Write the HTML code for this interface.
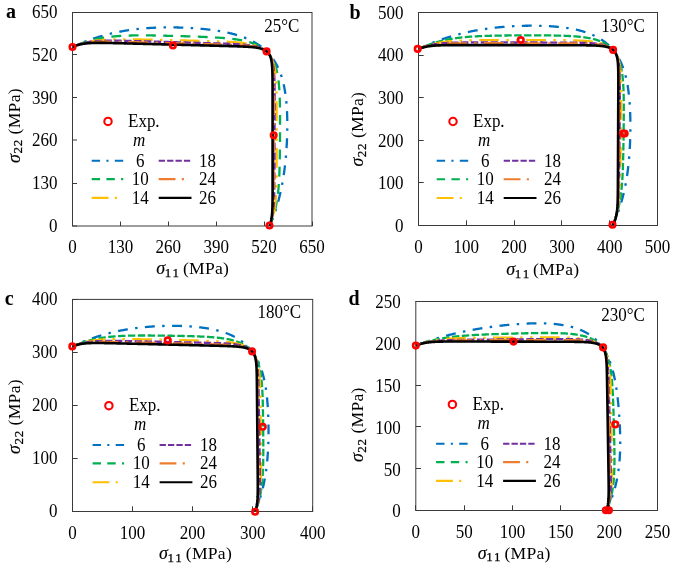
<!DOCTYPE html><html><head><meta charset="utf-8"><style>html,body{margin:0;padding:0;background:#fff;}svg{display:block;will-change:transform;}text{font-family:"Liberation Serif",serif;}</style></head><body>
<svg width="685" height="565" viewBox="0 0 685 565">
<rect width="685" height="565" fill="#fff"/>
<g fill="none" stroke-linejoin="round">
<path d="M269.63 226 L269.82 225.54 L270.02 225.08 L270.22 224.62 L270.41 224.15 L270.6 223.69 L270.79 223.22 L270.99 222.76 L271.18 222.29 L271.36 221.82 L271.55 221.35 L271.74 220.88 L271.92 220.41 L272.11 219.94 L272.29 219.47 L272.47 219 L272.65 218.52 L272.83 218.05 L273.01 217.57 L273.19 217.09 L273.36 216.62 L273.54 216.14 L273.71 215.66 L273.88 215.18 L274.05 214.7 L274.22 214.21 L274.39 213.73 L274.56 213.25 L274.73 212.76 L274.89 212.28 L275.06 211.79 L275.22 211.3 L275.38 210.81 L275.54 210.32 L275.7 209.83 L275.86 209.34 L276.02 208.85 L276.17 208.36 L276.33 207.86 L276.48 207.37 L276.63 206.87 L276.79 206.38 L276.94 205.88 L277.08 205.38 L277.23 204.88 L277.38 204.38 L277.52 203.88 L277.67 203.38 L277.81 202.88 L277.95 202.38 L278.09 201.87 L278.23 201.37 L278.37 200.86 L278.5 200.35 L278.64 199.85 L278.77 199.34 L278.91 198.83 L279.04 198.32 L279.17 197.81 L279.3 197.3 L279.43 196.78 L279.56 196.27 L279.68 195.76 L279.81 195.24 L279.93 194.72 L280.05 194.21 L280.17 193.69 L280.29 193.17 L280.41 192.65 L280.53 192.13 L280.65 191.61 L280.76 191.09 L280.88 190.56 L280.99 190.04 L281.1 189.52 L281.21 188.99 L281.32 188.46 L281.43 187.94 L281.54 187.41 L281.65 186.88 L281.75 186.35 L281.86 185.82 L281.96 185.29 L282.06 184.76 L282.16 184.22 L282.26 183.69 L282.36 183.15 L282.46 182.62 L282.56 182.08 L282.65 181.54 L282.75 181 L282.84 180.46 L282.93 179.92 L283.02 179.38 L283.11 178.84 L283.2 178.3 L283.29 177.75 L283.38 177.21 L283.46 176.66 L283.55 176.12 L283.63 175.57 L283.71 175.02 L283.8 174.47 L283.88 173.92 L283.96 173.37 L284.04 172.82 L284.11 172.26 L284.19 171.71 L284.27 171.16 L284.34 170.6 L284.42 170.04 L284.49 169.48 L284.56 168.93 L284.63 168.37 L284.7 167.81 L284.77 167.24 L284.84 166.68 L284.91 166.12 L284.97 165.55 L285.04 164.99 L285.1 164.42 L285.16 163.85 L285.23 163.28 L285.29 162.72 L285.35 162.14 L285.41 161.57 L285.47 161 L285.53 160.43 L285.58 159.85 L285.64 159.28 L285.69 158.7 L285.75 158.12 L285.8 157.54 L285.85 156.96 L285.91 156.38 L285.96 155.8 L286.01 155.22 L286.05 154.63 L286.1 154.05 L286.15 153.46 L286.2 152.88 L286.24 152.29 L286.28 151.7 L286.33 151.11 L286.37 150.52 L286.41 149.92 L286.45 149.33 L286.49 148.73 L286.53 148.14 L286.57 147.54 L286.61 146.94 L286.64 146.34 L286.68 145.74 L286.71 145.14 L286.75 144.54 L286.78 143.93 L286.81 143.33 L286.84 142.72 L286.87 142.11 L286.9 141.5 L286.93 140.89 L286.96 140.28 L286.98 139.67 L287.01 139.06 L287.03 138.44 L287.06 137.83 L287.08 137.21 L287.1 136.59 L287.12 135.97 L287.14 135.35 L287.16 134.73 L287.18 134.11 L287.19 133.48 L287.21 132.86 L287.22 132.23 L287.23 131.6 L287.25 130.97 L287.26 130.34 L287.27 129.71 L287.28 129.08 L287.28 128.44 L287.29 127.81 L287.3 127.17 L287.3 126.53 L287.3 125.89 L287.3 125.26 L287.3 124.61 L287.3 123.97 L287.3 123.33 L287.3 122.68 L287.29 122.04 L287.29 121.39 L287.28 120.74 L287.27 120.09 L287.26 119.44 L287.25 118.79 L287.23 118.14 L287.22 117.49 L287.2 116.83 L287.18 116.18 L287.16 115.52 L287.14 114.86 L287.12 114.2 L287.09 113.54 L287.07 112.88 L287.04 112.22 L287.01 111.56 L286.97 110.89 L286.94 110.23 L286.9 109.56 L286.87 108.9 L286.83 108.23 L286.78 107.56 L286.74 106.89 L286.69 106.22 L286.64 105.55 L286.59 104.88 L286.54 104.21 L286.48 103.54 L286.42 102.87 L286.36 102.19 L286.3 101.52 L286.23 100.84 L286.17 100.17 L286.09 99.49 L286.02 98.82 L285.94 98.14 L285.86 97.47 L285.78 96.79 L285.7 96.11 L285.61 95.44 L285.51 94.76 L285.42 94.08 L285.32 93.41 L285.22 92.73 L285.11 92.05 L285 91.38 L284.89 90.7 L284.78 90.02 L284.66 89.35 L284.53 88.67 L284.41 88 L284.27 87.32 L284.14 86.65 L284 85.98 L283.86 85.31 L283.71 84.64 L283.56 83.97 L283.4 83.3 L283.24 82.63 L283.07 81.96 L282.9 81.3 L282.73 80.63 L282.55 79.97 L282.36 79.31 L282.18 78.65 L281.98 77.99 L281.78 77.34 L281.58 76.68 L281.37 76.03 L281.15 75.38 L280.93 74.73 L280.7 74.09 L280.47 73.44 L280.24 72.8 L279.99 72.16 L279.74 71.53 L279.49 70.9 L279.23 70.27 L278.96 69.64 L278.69 69.02 L278.41 68.39 L278.13 67.78 L277.83 67.16 L277.54 66.55 L277.23 65.95 L276.92 65.34 L276.61 64.74 L276.28 64.15 L275.95 63.55 L275.62 62.97 L275.27 62.38 L274.92 61.8 L274.57 61.23 L274.21 60.66 L273.84 60.09 L273.46 59.53 L273.08 58.97 L272.69 58.42 L272.29 57.87 L271.89 57.33 L271.48 56.79 L271.06 56.26 L270.63 55.73 L270.2 55.21 L269.77 54.69 L269.32 54.18 L268.87 53.68 L268.41 53.17 L267.95 52.68 L267.48 52.19 L267 51.71 L266.51 51.23 L266.02 50.76 L265.52 50.29 L265.02 49.83 L264.51 49.37 L263.99 48.92 L263.47 48.48 L262.94 48.04 L262.4 47.61 L261.86 47.18 L261.31 46.76 L260.76 46.35 L260.2 45.94 L259.63 45.54 L259.06 45.14 L258.48 44.75 L257.9 44.37 L257.31 43.99 L256.72 43.62 L256.12 43.25 L255.51 42.89 L254.9 42.54 L254.29 42.19 L253.67 41.84 L253.04 41.51 L252.41 41.18 L251.78 40.85 L251.14 40.53 L250.5 40.22 L249.85 39.91 L249.2 39.6 L248.55 39.3 L247.89 39.01 L247.22 38.73 L246.56 38.44 L245.89 38.17 L245.21 37.9 L244.53 37.63 L243.85 37.37 L243.17 37.11 L242.48 36.86 L241.79 36.62 L241.1 36.38 L240.4 36.14 L239.7 35.91 L239 35.68 L238.3 35.46 L237.59 35.24 L236.88 35.03 L236.17 34.82 L235.46 34.61 L234.75 34.41 L234.03 34.22 L233.31 34.03 L232.59 33.84 L231.87 33.66 L231.15 33.48 L230.42 33.3 L229.7 33.13 L228.97 32.96 L228.24 32.79 L227.51 32.63 L226.78 32.48 L226.05 32.32 L225.31 32.17 L224.58 32.02 L223.85 31.88 L223.11 31.74 L222.38 31.6 L221.64 31.47 L220.9 31.34 L220.17 31.21 L219.43 31.08 L218.69 30.96 L217.95 30.84 L217.21 30.73 L216.48 30.61 L215.74 30.5 L215 30.39 L214.26 30.29 L213.52 30.18 L212.78 30.08 L212.05 29.98 L211.31 29.89 L210.57 29.79 L209.83 29.7 L209.09 29.61 L208.36 29.52 L207.62 29.44 L206.88 29.36 L206.15 29.28 L205.41 29.2 L204.68 29.12 L203.94 29.05 L203.21 28.97 L202.48 28.9 L201.74 28.84 L201.01 28.77 L200.28 28.7 L199.55 28.64 L198.82 28.58 L198.09 28.52 L197.36 28.46 L196.63 28.41 L195.91 28.35 L195.18 28.3 L194.45 28.25 L193.73 28.2 L193 28.15 L192.28 28.11 L191.56 28.06 L190.84 28.02 L190.12 27.98 L189.4 27.94 L188.68 27.9 L187.96 27.86 L187.24 27.83 L186.52 27.79 L185.81 27.76 L185.09 27.73 L184.38 27.7 L183.67 27.67 L182.96 27.65 L182.24 27.62 L181.53 27.6 L180.82 27.57 L180.12 27.55 L179.41 27.53 L178.7 27.51 L178 27.5 L177.29 27.48 L176.59 27.47 L175.89 27.45 L175.18 27.44 L174.48 27.43 L173.78 27.42 L173.08 27.42 L172.39 27.41 L171.69 27.4 L170.99 27.4 L170.3 27.4 L169.6 27.4 L168.91 27.4 L168.22 27.4 L167.52 27.4 L166.83 27.41 L166.14 27.41 L165.45 27.42 L164.77 27.43 L164.08 27.44 L163.39 27.45 L162.71 27.47 L162.02 27.48 L161.34 27.5 L160.66 27.51 L159.98 27.53 L159.29 27.55 L158.61 27.57 L157.94 27.59 L157.26 27.62 L156.58 27.64 L155.9 27.67 L155.23 27.7 L154.55 27.73 L153.88 27.76 L153.21 27.79 L152.53 27.83 L151.86 27.87 L151.19 27.9 L150.52 27.94 L149.85 27.98 L149.19 28.02 L148.52 28.07 L147.85 28.11 L147.19 28.16 L146.52 28.21 L145.86 28.26 L145.2 28.31 L144.54 28.36 L143.88 28.42 L143.22 28.47 L142.56 28.53 L141.9 28.59 L141.24 28.65 L140.58 28.71 L139.93 28.78 L139.27 28.84 L138.62 28.91 L137.97 28.98 L137.32 29.05 L136.66 29.12 L136.01 29.2 L135.36 29.27 L134.72 29.35 L134.07 29.43 L133.42 29.51 L132.77 29.59 L132.13 29.68 L131.48 29.76 L130.84 29.85 L130.2 29.94 L129.56 30.03 L128.92 30.13 L128.28 30.22 L127.64 30.32 L127 30.42 L126.36 30.52 L125.73 30.62 L125.09 30.72 L124.46 30.83 L123.82 30.93 L123.19 31.04 L122.56 31.16 L121.93 31.27 L121.3 31.38 L120.67 31.5 L120.04 31.62 L119.42 31.74 L118.79 31.86 L118.17 31.98 L117.54 32.11 L116.92 32.23 L116.3 32.36 L115.68 32.49 L115.06 32.63 L114.44 32.76 L113.82 32.9 L113.21 33.04 L112.59 33.18 L111.98 33.32 L111.36 33.46 L110.75 33.61 L110.14 33.75 L109.53 33.9 L108.92 34.05 L108.31 34.21 L107.7 34.36 L107.1 34.52 L106.49 34.67 L105.89 34.83 L105.29 34.99 L104.69 35.16 L104.09 35.32 L103.49 35.49 L102.89 35.66 L102.29 35.83 L101.7 36 L101.1 36.17 L100.51 36.34 L99.92 36.52 L99.33 36.7 L98.74 36.88 L98.15 37.06 L97.56 37.24 L96.98 37.43 L96.39 37.62 L95.81 37.8 L95.23 37.99 L94.64 38.18 L94.06 38.38 L93.49 38.57 L92.91 38.77 L92.33 38.97 L91.76 39.16 L91.19 39.36 L90.61 39.57 L90.04 39.77 L89.47 39.98 L88.91 40.18 L88.34 40.39 L87.77 40.6 L87.21 40.81 L86.65 41.02 L86.08 41.24 L85.52 41.45 L84.97 41.67 L84.41 41.89 L83.85 42.1 L83.3 42.32 L82.75 42.55 L82.19 42.77 L81.64 42.99 L81.09 43.22 L80.55 43.45 L80 43.67 L79.45 43.9 L78.91 44.13 L78.37 44.37 L77.83 44.6 L77.29 44.83 L76.75 45.07 L76.22 45.3 L75.68 45.54 L75.15 45.78 L74.61 46.02 L74.08 46.26 L73.55 46.5 L73.03 46.74 L72.5 46.99" stroke="#0070C0" stroke-width="2.3" stroke-dasharray="9.88 7.41 2.47 7.41" stroke-dashoffset="1.40"/>
<path d="M269.63 226 L269.83 225.54 L270.03 225.08 L270.22 224.62 L270.42 224.15 L270.61 223.69 L270.8 223.22 L270.98 222.76 L271.16 222.29 L271.35 221.82 L271.52 221.35 L271.7 220.88 L271.87 220.41 L272.04 219.94 L272.21 219.47 L272.38 219 L272.54 218.53 L272.7 218.05 L272.86 217.58 L273.02 217.1 L273.17 216.62 L273.32 216.15 L273.47 215.67 L273.62 215.19 L273.76 214.71 L273.91 214.23 L274.05 213.75 L274.18 213.27 L274.32 212.79 L274.45 212.31 L274.58 211.82 L274.71 211.34 L274.83 210.85 L274.96 210.37 L275.08 209.88 L275.19 209.4 L275.31 208.91 L275.43 208.42 L275.54 207.93 L275.65 207.45 L275.75 206.96 L275.86 206.47 L275.96 205.98 L276.07 205.48 L276.16 204.99 L276.26 204.5 L276.36 204.01 L276.45 203.52 L276.54 203.02 L276.63 202.53 L276.72 202.03 L276.81 201.54 L276.89 201.04 L276.97 200.55 L277.05 200.05 L277.13 199.55 L277.21 199.05 L277.28 198.55 L277.36 198.06 L277.43 197.56 L277.5 197.06 L277.57 196.56 L277.63 196.05 L277.7 195.55 L277.76 195.05 L277.83 194.55 L277.89 194.05 L277.95 193.54 L278 193.04 L278.06 192.53 L278.12 192.03 L278.17 191.52 L278.22 191.02 L278.27 190.51 L278.32 190 L278.37 189.49 L278.42 188.99 L278.47 188.48 L278.51 187.97 L278.56 187.46 L278.6 186.95 L278.64 186.44 L278.68 185.93 L278.72 185.41 L278.76 184.9 L278.8 184.39 L278.83 183.87 L278.87 183.36 L278.91 182.84 L278.94 182.33 L278.97 181.81 L279 181.29 L279.04 180.78 L279.07 180.26 L279.09 179.74 L279.12 179.22 L279.15 178.7 L279.18 178.18 L279.21 177.66 L279.23 177.14 L279.26 176.61 L279.28 176.09 L279.3 175.57 L279.33 175.04 L279.35 174.52 L279.37 173.99 L279.39 173.46 L279.41 172.94 L279.43 172.41 L279.45 171.88 L279.47 171.35 L279.49 170.82 L279.51 170.29 L279.52 169.75 L279.54 169.22 L279.56 168.69 L279.57 168.15 L279.59 167.62 L279.6 167.08 L279.62 166.54 L279.63 166 L279.65 165.47 L279.66 164.93 L279.67 164.39 L279.69 163.84 L279.7 163.3 L279.71 162.76 L279.72 162.21 L279.73 161.67 L279.74 161.12 L279.75 160.58 L279.76 160.03 L279.77 159.48 L279.78 158.93 L279.79 158.38 L279.8 157.82 L279.81 157.27 L279.82 156.72 L279.83 156.16 L279.84 155.61 L279.85 155.05 L279.85 154.49 L279.86 153.93 L279.87 153.37 L279.88 152.81 L279.88 152.24 L279.89 151.68 L279.9 151.12 L279.9 150.55 L279.91 149.98 L279.92 149.41 L279.92 148.84 L279.93 148.27 L279.93 147.7 L279.94 147.13 L279.94 146.55 L279.95 145.97 L279.95 145.4 L279.96 144.82 L279.96 144.24 L279.97 143.66 L279.97 143.07 L279.98 142.49 L279.98 141.9 L279.99 141.32 L279.99 140.73 L280 140.14 L280 139.55 L280 138.96 L280.01 138.36 L280.01 137.77 L280.01 137.17 L280.02 136.57 L280.02 135.97 L280.02 135.37 L280.03 134.77 L280.03 134.17 L280.03 133.56 L280.03 132.95 L280.04 132.34 L280.04 131.73 L280.04 131.12 L280.04 130.51 L280.05 129.89 L280.05 129.28 L280.05 128.66 L280.05 128.04 L280.05 127.42 L280.05 126.79 L280.05 126.17 L280.05 125.54 L280.06 124.91 L280.06 124.28 L280.06 123.65 L280.06 123.02 L280.06 122.38 L280.06 121.74 L280.05 121.11 L280.05 120.47 L280.05 119.82 L280.05 119.18 L280.05 118.53 L280.05 117.89 L280.04 117.24 L280.04 116.59 L280.04 115.93 L280.03 115.28 L280.03 114.62 L280.03 113.96 L280.02 113.3 L280.02 112.64 L280.01 111.98 L280 111.31 L280 110.64 L279.99 109.97 L279.98 109.3 L279.97 108.63 L279.96 107.95 L279.95 107.28 L279.94 106.6 L279.93 105.92 L279.92 105.24 L279.9 104.55 L279.89 103.87 L279.87 103.18 L279.86 102.49 L279.84 101.8 L279.82 101.11 L279.8 100.41 L279.78 99.72 L279.76 99.02 L279.74 98.32 L279.71 97.62 L279.69 96.92 L279.66 96.21 L279.63 95.51 L279.6 94.8 L279.57 94.09 L279.53 93.38 L279.49 92.67 L279.46 91.96 L279.42 91.25 L279.37 90.53 L279.33 89.82 L279.28 89.1 L279.23 88.39 L279.18 87.67 L279.12 86.95 L279.06 86.23 L279 85.51 L278.94 84.79 L278.87 84.07 L278.8 83.35 L278.72 82.63 L278.64 81.91 L278.56 81.19 L278.47 80.47 L278.38 79.75 L278.28 79.03 L278.18 78.32 L278.08 77.6 L277.97 76.88 L277.85 76.17 L277.73 75.46 L277.6 74.75 L277.47 74.04 L277.33 73.33 L277.19 72.62 L277.03 71.92 L276.88 71.22 L276.71 70.52 L276.54 69.83 L276.36 69.14 L276.17 68.45 L275.98 67.77 L275.77 67.09 L275.56 66.41 L275.34 65.74 L275.11 65.08 L274.87 64.42 L274.63 63.76 L274.37 63.11 L274.1 62.47 L273.83 61.83 L273.54 61.2 L273.25 60.58 L272.94 59.96 L272.62 59.35 L272.29 58.75 L271.96 58.15 L271.61 57.57 L271.24 56.99 L270.87 56.42 L270.49 55.86 L270.09 55.31 L269.69 54.76 L269.27 54.23 L268.84 53.71 L268.4 53.19 L267.94 52.69 L267.48 52.19 L267 51.7 L266.51 51.23 L266.01 50.76 L265.5 50.31 L264.98 49.86 L264.45 49.43 L263.9 49.01 L263.35 48.59 L262.78 48.19 L262.2 47.8 L261.62 47.41 L261.02 47.04 L260.41 46.68 L259.79 46.33 L259.17 45.99 L258.53 45.65 L257.89 45.33 L257.24 45.02 L256.57 44.72 L255.9 44.42 L255.23 44.14 L254.54 43.86 L253.85 43.59 L253.15 43.34 L252.44 43.09 L251.73 42.85 L251.01 42.61 L250.29 42.39 L249.56 42.17 L248.83 41.96 L248.09 41.76 L247.34 41.56 L246.59 41.37 L245.84 41.19 L245.08 41.02 L244.32 40.85 L243.56 40.69 L242.79 40.53 L242.02 40.38 L241.25 40.23 L240.48 40.09 L239.7 39.96 L238.92 39.83 L238.14 39.7 L237.36 39.58 L236.58 39.46 L235.79 39.35 L235.01 39.24 L234.22 39.14 L233.43 39.04 L232.64 38.94 L231.86 38.85 L231.07 38.76 L230.28 38.67 L229.49 38.59 L228.7 38.51 L227.91 38.43 L227.13 38.35 L226.34 38.28 L225.55 38.21 L224.77 38.14 L223.98 38.08 L223.2 38.01 L222.41 37.95 L221.63 37.89 L220.85 37.83 L220.07 37.78 L219.29 37.72 L218.51 37.67 L217.74 37.62 L216.96 37.57 L216.19 37.53 L215.41 37.48 L214.64 37.43 L213.87 37.39 L213.1 37.35 L212.34 37.31 L211.57 37.27 L210.81 37.23 L210.05 37.19 L209.29 37.15 L208.53 37.11 L207.77 37.08 L207.02 37.04 L206.27 37.01 L205.51 36.98 L204.76 36.94 L204.02 36.91 L203.27 36.88 L202.53 36.85 L201.78 36.82 L201.04 36.79 L200.3 36.76 L199.57 36.74 L198.83 36.71 L198.1 36.68 L197.37 36.65 L196.64 36.63 L195.91 36.6 L195.18 36.58 L194.46 36.55 L193.74 36.53 L193.01 36.5 L192.3 36.48 L191.58 36.45 L190.86 36.43 L190.15 36.41 L189.44 36.38 L188.73 36.36 L188.02 36.34 L187.31 36.32 L186.61 36.3 L185.9 36.27 L185.2 36.25 L184.5 36.23 L183.8 36.21 L183.11 36.19 L182.41 36.17 L181.72 36.15 L181.02 36.13 L180.33 36.11 L179.65 36.09 L178.96 36.07 L178.27 36.05 L177.59 36.03 L176.91 36.02 L176.23 36 L175.55 35.98 L174.87 35.96 L174.19 35.94 L173.52 35.93 L172.84 35.91 L172.17 35.89 L171.5 35.87 L170.83 35.86 L170.16 35.84 L169.5 35.82 L168.83 35.81 L168.17 35.79 L167.51 35.78 L166.85 35.76 L166.19 35.74 L165.53 35.73 L164.87 35.71 L164.22 35.7 L163.56 35.68 L162.91 35.67 L162.26 35.66 L161.61 35.64 L160.96 35.63 L160.31 35.62 L159.66 35.6 L159.02 35.59 L158.37 35.58 L157.73 35.57 L157.09 35.55 L156.44 35.54 L155.8 35.53 L155.16 35.52 L154.53 35.51 L153.89 35.5 L153.25 35.49 L152.62 35.48 L151.99 35.47 L151.35 35.46 L150.72 35.46 L150.09 35.45 L149.46 35.44 L148.83 35.43 L148.2 35.43 L147.58 35.42 L146.95 35.42 L146.33 35.41 L145.7 35.41 L145.08 35.4 L144.46 35.4 L143.83 35.4 L143.21 35.39 L142.59 35.39 L141.97 35.39 L141.36 35.39 L140.74 35.39 L140.12 35.39 L139.51 35.39 L138.89 35.4 L138.28 35.4 L137.66 35.4 L137.05 35.41 L136.44 35.41 L135.83 35.42 L135.22 35.43 L134.61 35.43 L134 35.44 L133.39 35.45 L132.78 35.46 L132.17 35.47 L131.57 35.49 L130.96 35.5 L130.36 35.51 L129.75 35.53 L129.15 35.55 L128.54 35.56 L127.94 35.58 L127.34 35.6 L126.74 35.62 L126.14 35.65 L125.54 35.67 L124.94 35.69 L124.34 35.72 L123.74 35.75 L123.14 35.78 L122.54 35.81 L121.95 35.84 L121.35 35.87 L120.75 35.9 L120.16 35.94 L119.56 35.98 L118.97 36.02 L118.37 36.06 L117.78 36.1 L117.19 36.14 L116.6 36.19 L116 36.23 L115.41 36.28 L114.82 36.33 L114.23 36.39 L113.64 36.44 L113.05 36.5 L112.46 36.56 L111.87 36.62 L111.29 36.68 L110.7 36.74 L110.11 36.81 L109.53 36.88 L108.94 36.95 L108.36 37.02 L107.77 37.09 L107.19 37.17 L106.6 37.25 L106.02 37.33 L105.44 37.41 L104.86 37.5 L104.28 37.59 L103.7 37.68 L103.12 37.77 L102.54 37.87 L101.96 37.96 L101.38 38.06 L100.8 38.17 L100.22 38.27 L99.65 38.38 L99.07 38.49 L98.5 38.6 L97.92 38.72 L97.35 38.84 L96.78 38.96 L96.2 39.08 L95.63 39.21 L95.06 39.34 L94.49 39.47 L93.92 39.6 L93.36 39.74 L92.79 39.88 L92.22 40.02 L91.65 40.17 L91.09 40.32 L90.53 40.47 L89.96 40.62 L89.4 40.78 L88.84 40.94 L88.28 41.1 L87.72 41.27 L87.16 41.43 L86.6 41.61 L86.04 41.78 L85.49 41.95 L84.93 42.13 L84.38 42.32 L83.83 42.5 L83.28 42.69 L82.73 42.88 L82.18 43.07 L81.63 43.27 L81.08 43.46 L80.54 43.67 L79.99 43.87 L79.45 44.08 L78.91 44.28 L78.37 44.5 L77.83 44.71 L77.29 44.93 L76.75 45.15 L76.21 45.37 L75.68 45.59 L75.15 45.82 L74.61 46.05 L74.08 46.28 L73.55 46.51 L73.03 46.75 L72.5 46.99" stroke="#00B050" stroke-width="2.3" stroke-dasharray="9.88 7.41" stroke-dashoffset="1.29"/>
<path d="M269.63 226 L269.83 225.54 L270.02 225.08 L270.21 224.62 L270.4 224.15 L270.58 223.69 L270.76 223.22 L270.94 222.76 L271.11 222.29 L271.28 221.82 L271.44 221.36 L271.6 220.89 L271.76 220.42 L271.92 219.95 L272.07 219.48 L272.21 219.01 L272.36 218.53 L272.5 218.06 L272.63 217.59 L272.76 217.11 L272.89 216.64 L273.02 216.16 L273.14 215.69 L273.26 215.21 L273.38 214.73 L273.49 214.26 L273.6 213.78 L273.71 213.3 L273.81 212.82 L273.91 212.34 L274.01 211.86 L274.11 211.38 L274.2 210.9 L274.29 210.42 L274.38 209.94 L274.46 209.46 L274.54 208.97 L274.62 208.49 L274.7 208.01 L274.77 207.53 L274.84 207.04 L274.91 206.56 L274.98 206.07 L275.05 205.59 L275.11 205.1 L275.17 204.62 L275.23 204.13 L275.28 203.64 L275.34 203.16 L275.39 202.67 L275.44 202.18 L275.49 201.69 L275.54 201.21 L275.59 200.72 L275.63 200.23 L275.67 199.74 L275.71 199.25 L275.75 198.76 L275.79 198.27 L275.83 197.78 L275.86 197.29 L275.9 196.8 L275.93 196.3 L275.96 195.81 L275.99 195.32 L276.02 194.83 L276.05 194.33 L276.08 193.84 L276.1 193.34 L276.13 192.85 L276.15 192.35 L276.17 191.86 L276.2 191.36 L276.22 190.86 L276.24 190.37 L276.26 189.87 L276.28 189.37 L276.29 188.87 L276.31 188.37 L276.33 187.88 L276.34 187.38 L276.36 186.88 L276.37 186.37 L276.39 185.87 L276.4 185.37 L276.41 184.87 L276.42 184.37 L276.44 183.86 L276.45 183.36 L276.46 182.85 L276.47 182.35 L276.48 181.84 L276.49 181.34 L276.49 180.83 L276.5 180.32 L276.51 179.81 L276.52 179.3 L276.53 178.79 L276.53 178.28 L276.54 177.77 L276.54 177.26 L276.55 176.75 L276.56 176.24 L276.56 175.72 L276.57 175.21 L276.57 174.69 L276.58 174.18 L276.58 173.66 L276.58 173.14 L276.59 172.63 L276.59 172.11 L276.6 171.59 L276.6 171.07 L276.6 170.55 L276.61 170.03 L276.61 169.5 L276.61 168.98 L276.61 168.46 L276.62 167.93 L276.62 167.4 L276.62 166.88 L276.62 166.35 L276.62 165.82 L276.63 165.29 L276.63 164.76 L276.63 164.23 L276.63 163.7 L276.63 163.16 L276.63 162.63 L276.64 162.1 L276.64 161.56 L276.64 161.02 L276.64 160.48 L276.64 159.95 L276.64 159.41 L276.64 158.86 L276.64 158.32 L276.64 157.78 L276.64 157.23 L276.64 156.69 L276.64 156.14 L276.64 155.6 L276.65 155.05 L276.65 154.5 L276.65 153.95 L276.65 153.4 L276.65 152.84 L276.65 152.29 L276.65 151.73 L276.65 151.18 L276.65 150.62 L276.65 150.06 L276.65 149.5 L276.65 148.94 L276.65 148.38 L276.65 147.81 L276.65 147.25 L276.65 146.68 L276.65 146.11 L276.65 145.54 L276.65 144.97 L276.65 144.4 L276.65 143.83 L276.65 143.26 L276.65 142.68 L276.65 142.1 L276.65 141.52 L276.65 140.95 L276.65 140.36 L276.65 139.78 L276.65 139.2 L276.65 138.61 L276.65 138.02 L276.65 137.44 L276.65 136.85 L276.65 136.26 L276.65 135.66 L276.65 135.07 L276.65 134.47 L276.65 133.87 L276.65 133.27 L276.65 132.67 L276.64 132.07 L276.64 131.47 L276.64 130.86 L276.64 130.25 L276.64 129.65 L276.64 129.04 L276.64 128.42 L276.64 127.81 L276.64 127.19 L276.64 126.58 L276.64 125.96 L276.64 125.34 L276.64 124.71 L276.64 124.09 L276.64 123.46 L276.64 122.83 L276.64 122.2 L276.64 121.57 L276.64 120.94 L276.63 120.3 L276.63 119.66 L276.63 119.02 L276.63 118.38 L276.63 117.74 L276.63 117.09 L276.63 116.45 L276.63 115.8 L276.63 115.15 L276.62 114.49 L276.62 113.84 L276.62 113.18 L276.62 112.52 L276.62 111.86 L276.61 111.19 L276.61 110.53 L276.61 109.86 L276.61 109.19 L276.6 108.52 L276.6 107.84 L276.6 107.17 L276.59 106.49 L276.59 105.81 L276.59 105.13 L276.58 104.44 L276.58 103.75 L276.57 103.06 L276.57 102.37 L276.56 101.68 L276.56 100.98 L276.55 100.28 L276.54 99.58 L276.53 98.88 L276.53 98.17 L276.52 97.47 L276.51 96.76 L276.5 96.05 L276.49 95.33 L276.48 94.62 L276.46 93.9 L276.45 93.18 L276.44 92.46 L276.42 91.73 L276.41 91.01 L276.39 90.28 L276.37 89.55 L276.35 88.82 L276.33 88.08 L276.3 87.35 L276.28 86.61 L276.25 85.87 L276.22 85.13 L276.19 84.39 L276.16 83.65 L276.12 82.9 L276.09 82.16 L276.05 81.41 L276 80.66 L275.96 79.91 L275.91 79.17 L275.85 78.42 L275.8 77.67 L275.74 76.92 L275.67 76.17 L275.6 75.42 L275.53 74.67 L275.45 73.92 L275.36 73.18 L275.27 72.43 L275.18 71.69 L275.07 70.95 L274.97 70.21 L274.85 69.47 L274.73 68.74 L274.59 68.01 L274.45 67.28 L274.31 66.56 L274.15 65.84 L273.98 65.13 L273.8 64.42 L273.61 63.72 L273.42 63.03 L273.21 62.34 L272.98 61.66 L272.75 60.99 L272.5 60.32 L272.24 59.67 L271.97 59.02 L271.68 58.39 L271.38 57.76 L271.06 57.15 L270.72 56.55 L270.38 55.95 L270.01 55.38 L269.63 54.81 L269.24 54.26 L268.82 53.72 L268.39 53.19 L267.95 52.68 L267.48 52.18 L267 51.7 L266.51 51.23 L266 50.78 L265.47 50.34 L264.92 49.92 L264.36 49.51 L263.79 49.11 L263.19 48.73 L262.59 48.37 L261.97 48.02 L261.33 47.68 L260.68 47.36 L260.02 47.05 L259.35 46.76 L258.66 46.47 L257.97 46.2 L257.26 45.95 L256.54 45.7 L255.81 45.47 L255.07 45.25 L254.33 45.03 L253.57 44.83 L252.81 44.64 L252.04 44.46 L251.26 44.29 L250.48 44.12 L249.69 43.97 L248.9 43.82 L248.1 43.68 L247.3 43.55 L246.5 43.42 L245.69 43.31 L244.88 43.19 L244.06 43.09 L243.25 42.98 L242.43 42.89 L241.61 42.8 L240.79 42.71 L239.97 42.63 L239.15 42.55 L238.32 42.47 L237.5 42.4 L236.68 42.34 L235.86 42.27 L235.03 42.21 L234.21 42.15 L233.39 42.1 L232.57 42.04 L231.75 41.99 L230.93 41.94 L230.11 41.9 L229.3 41.85 L228.48 41.81 L227.67 41.77 L226.86 41.73 L226.05 41.69 L225.24 41.65 L224.44 41.62 L223.63 41.58 L222.83 41.55 L222.03 41.52 L221.23 41.49 L220.44 41.46 L219.64 41.43 L218.85 41.4 L218.06 41.37 L217.27 41.35 L216.49 41.32 L215.7 41.29 L214.92 41.27 L214.14 41.24 L213.37 41.22 L212.59 41.2 L211.82 41.17 L211.05 41.15 L210.29 41.13 L209.52 41.11 L208.76 41.09 L208 41.07 L207.24 41.04 L206.48 41.02 L205.73 41 L204.98 40.98 L204.23 40.96 L203.48 40.94 L202.74 40.93 L201.99 40.91 L201.25 40.89 L200.51 40.87 L199.78 40.85 L199.04 40.83 L198.31 40.81 L197.58 40.8 L196.85 40.78 L196.13 40.76 L195.4 40.74 L194.68 40.73 L193.96 40.71 L193.24 40.69 L192.53 40.67 L191.82 40.66 L191.1 40.64 L190.39 40.62 L189.69 40.61 L188.98 40.59 L188.28 40.57 L187.57 40.56 L186.87 40.54 L186.18 40.52 L185.48 40.51 L184.79 40.49 L184.09 40.47 L183.4 40.46 L182.71 40.44 L182.03 40.43 L181.34 40.41 L180.66 40.39 L179.97 40.38 L179.29 40.36 L178.62 40.35 L177.94 40.33 L177.26 40.32 L176.59 40.3 L175.92 40.28 L175.25 40.27 L174.58 40.25 L173.91 40.24 L173.25 40.22 L172.58 40.21 L171.92 40.19 L171.26 40.18 L170.6 40.16 L169.94 40.15 L169.28 40.13 L168.63 40.12 L167.98 40.1 L167.32 40.09 L166.67 40.07 L166.02 40.06 L165.38 40.04 L164.73 40.03 L164.08 40.01 L163.44 40 L162.8 39.98 L162.16 39.97 L161.52 39.96 L160.88 39.94 L160.24 39.93 L159.61 39.91 L158.97 39.9 L158.34 39.88 L157.71 39.87 L157.08 39.86 L156.45 39.84 L155.82 39.83 L155.19 39.81 L154.57 39.8 L153.94 39.79 L153.32 39.77 L152.7 39.76 L152.08 39.75 L151.46 39.73 L150.84 39.72 L150.22 39.71 L149.6 39.69 L148.99 39.68 L148.37 39.67 L147.76 39.66 L147.15 39.64 L146.53 39.63 L145.92 39.62 L145.31 39.61 L144.71 39.59 L144.1 39.58 L143.49 39.57 L142.89 39.56 L142.28 39.55 L141.68 39.54 L141.07 39.52 L140.47 39.51 L139.87 39.5 L139.27 39.49 L138.67 39.48 L138.07 39.47 L137.48 39.46 L136.88 39.45 L136.28 39.44 L135.69 39.43 L135.09 39.42 L134.5 39.42 L133.91 39.41 L133.31 39.4 L132.72 39.39 L132.13 39.38 L131.54 39.38 L130.95 39.37 L130.37 39.36 L129.78 39.36 L129.19 39.35 L128.6 39.35 L128.02 39.34 L127.43 39.34 L126.85 39.33 L126.27 39.33 L125.68 39.33 L125.1 39.32 L124.52 39.32 L123.94 39.32 L123.36 39.32 L122.78 39.32 L122.2 39.32 L121.62 39.32 L121.04 39.32 L120.46 39.32 L119.88 39.33 L119.31 39.33 L118.73 39.34 L118.15 39.34 L117.58 39.35 L117 39.36 L116.43 39.36 L115.86 39.37 L115.28 39.38 L114.71 39.39 L114.14 39.41 L113.56 39.42 L112.99 39.43 L112.42 39.45 L111.85 39.47 L111.28 39.49 L110.71 39.5 L110.14 39.53 L109.57 39.55 L109 39.57 L108.43 39.6 L107.86 39.62 L107.29 39.65 L106.73 39.68 L106.16 39.71 L105.59 39.75 L105.03 39.78 L104.46 39.82 L103.89 39.86 L103.33 39.9 L102.76 39.94 L102.2 39.99 L101.63 40.04 L101.07 40.09 L100.5 40.14 L99.94 40.19 L99.38 40.25 L98.82 40.31 L98.25 40.37 L97.69 40.43 L97.13 40.5 L96.57 40.57 L96.01 40.64 L95.45 40.72 L94.89 40.79 L94.33 40.87 L93.77 40.96 L93.21 41.04 L92.65 41.13 L92.09 41.23 L91.54 41.32 L90.98 41.42 L90.42 41.52 L89.87 41.63 L89.31 41.74 L88.76 41.85 L88.2 41.97 L87.65 42.09 L87.1 42.21 L86.55 42.34 L85.99 42.47 L85.44 42.61 L84.89 42.74 L84.34 42.89 L83.8 43.03 L83.25 43.18 L82.7 43.33 L82.15 43.49 L81.61 43.65 L81.07 43.82 L80.52 43.99 L79.98 44.16 L79.44 44.34 L78.9 44.52 L78.36 44.7 L77.82 44.89 L77.28 45.08 L76.75 45.28 L76.21 45.48 L75.68 45.68 L75.14 45.89 L74.61 46.1 L74.08 46.32 L73.55 46.54 L73.03 46.76 L72.5 46.99" stroke="#FFC000" stroke-width="2.3" stroke-dasharray="19.76 7.41 2.47 7.41 2.47 7.41" stroke-dashoffset="34.87"/>
<path d="M269.63 226 L269.8 225.54 L269.97 225.08 L270.13 224.62 L270.29 224.15 L270.45 223.69 L270.6 223.23 L270.75 222.76 L270.89 222.3 L271.03 221.83 L271.16 221.36 L271.29 220.9 L271.41 220.43 L271.53 219.96 L271.65 219.49 L271.76 219.02 L271.87 218.55 L271.97 218.08 L272.07 217.61 L272.17 217.14 L272.27 216.67 L272.36 216.2 L272.44 215.72 L272.53 215.25 L272.61 214.78 L272.68 214.3 L272.76 213.83 L272.83 213.36 L272.9 212.88 L272.96 212.41 L273.03 211.93 L273.09 211.46 L273.15 210.98 L273.2 210.5 L273.26 210.03 L273.31 209.55 L273.36 209.07 L273.4 208.6 L273.45 208.12 L273.49 207.64 L273.53 207.16 L273.57 206.69 L273.61 206.21 L273.65 205.73 L273.68 205.25 L273.71 204.77 L273.75 204.29 L273.78 203.81 L273.81 203.33 L273.83 202.85 L273.86 202.37 L273.88 201.89 L273.91 201.41 L273.93 200.92 L273.95 200.44 L273.97 199.96 L273.99 199.48 L274.01 198.99 L274.03 198.51 L274.05 198.03 L274.07 197.54 L274.08 197.06 L274.1 196.57 L274.11 196.09 L274.12 195.6 L274.14 195.11 L274.15 194.63 L274.16 194.14 L274.17 193.65 L274.18 193.16 L274.19 192.68 L274.2 192.19 L274.21 191.7 L274.22 191.21 L274.23 190.72 L274.24 190.23 L274.25 189.74 L274.26 189.25 L274.26 188.75 L274.27 188.26 L274.28 187.77 L274.28 187.27 L274.29 186.78 L274.29 186.28 L274.3 185.79 L274.31 185.29 L274.31 184.8 L274.32 184.3 L274.32 183.8 L274.32 183.3 L274.33 182.81 L274.33 182.31 L274.34 181.81 L274.34 181.31 L274.35 180.8 L274.35 180.3 L274.35 179.8 L274.36 179.3 L274.36 178.79 L274.36 178.29 L274.37 177.78 L274.37 177.28 L274.37 176.77 L274.37 176.26 L274.38 175.75 L274.38 175.24 L274.38 174.74 L274.39 174.22 L274.39 173.71 L274.39 173.2 L274.39 172.69 L274.4 172.18 L274.4 171.66 L274.4 171.15 L274.4 170.63 L274.4 170.11 L274.41 169.6 L274.41 169.08 L274.41 168.56 L274.41 168.04 L274.42 167.52 L274.42 166.99 L274.42 166.47 L274.42 165.95 L274.42 165.42 L274.43 164.9 L274.43 164.37 L274.43 163.84 L274.43 163.31 L274.43 162.78 L274.43 162.25 L274.44 161.72 L274.44 161.19 L274.44 160.66 L274.44 160.12 L274.44 159.59 L274.45 159.05 L274.45 158.51 L274.45 157.97 L274.45 157.43 L274.45 156.89 L274.46 156.35 L274.46 155.81 L274.46 155.26 L274.46 154.72 L274.46 154.17 L274.46 153.62 L274.47 153.08 L274.47 152.53 L274.47 151.98 L274.47 151.42 L274.47 150.87 L274.48 150.31 L274.48 149.76 L274.48 149.2 L274.48 148.64 L274.48 148.08 L274.48 147.52 L274.49 146.96 L274.49 146.4 L274.49 145.83 L274.49 145.27 L274.49 144.7 L274.5 144.13 L274.5 143.56 L274.5 142.99 L274.5 142.41 L274.5 141.84 L274.5 141.26 L274.51 140.69 L274.51 140.11 L274.51 139.53 L274.51 138.95 L274.51 138.36 L274.52 137.78 L274.52 137.19 L274.52 136.6 L274.52 136.01 L274.52 135.42 L274.53 134.83 L274.53 134.24 L274.53 133.64 L274.53 133.04 L274.53 132.45 L274.53 131.85 L274.54 131.24 L274.54 130.64 L274.54 130.03 L274.54 129.43 L274.54 128.82 L274.55 128.21 L274.55 127.59 L274.55 126.98 L274.55 126.36 L274.55 125.75 L274.56 125.13 L274.56 124.51 L274.56 123.88 L274.56 123.26 L274.56 122.63 L274.57 122 L274.57 121.37 L274.57 120.74 L274.57 120.1 L274.57 119.47 L274.58 118.83 L274.58 118.19 L274.58 117.55 L274.58 116.9 L274.58 116.25 L274.58 115.61 L274.59 114.96 L274.59 114.3 L274.59 113.65 L274.59 112.99 L274.59 112.33 L274.6 111.67 L274.6 111.01 L274.6 110.34 L274.6 109.67 L274.6 109 L274.6 108.33 L274.61 107.65 L274.61 106.98 L274.61 106.3 L274.61 105.62 L274.61 104.93 L274.61 104.24 L274.61 103.56 L274.61 102.86 L274.61 102.17 L274.62 101.47 L274.62 100.78 L274.62 100.07 L274.62 99.37 L274.62 98.67 L274.62 97.96 L274.62 97.25 L274.61 96.53 L274.61 95.82 L274.61 95.1 L274.61 94.38 L274.61 93.65 L274.61 92.93 L274.6 92.2 L274.6 91.47 L274.6 90.73 L274.59 90 L274.59 89.26 L274.58 88.52 L274.57 87.78 L274.56 87.03 L274.56 86.28 L274.55 85.53 L274.54 84.78 L274.52 84.03 L274.51 83.27 L274.49 82.51 L274.48 81.75 L274.46 80.99 L274.44 80.23 L274.42 79.46 L274.39 78.69 L274.36 77.93 L274.33 77.16 L274.3 76.39 L274.26 75.61 L274.22 74.84 L274.18 74.07 L274.13 73.3 L274.08 72.53 L274.02 71.76 L273.95 70.99 L273.88 70.22 L273.81 69.45 L273.72 68.69 L273.63 67.93 L273.54 67.17 L273.43 66.41 L273.31 65.66 L273.19 64.92 L273.05 64.18 L272.9 63.44 L272.74 62.72 L272.57 62 L272.39 61.29 L272.19 60.58 L271.97 59.89 L271.74 59.21 L271.49 58.54 L271.23 57.89 L270.95 57.24 L270.64 56.61 L270.32 56 L269.98 55.4 L269.62 54.82 L269.24 54.25 L268.84 53.7 L268.41 53.17 L267.97 52.66 L267.5 52.17 L267.01 51.69 L266.5 51.24 L265.97 50.8 L265.42 50.38 L264.85 49.99 L264.25 49.61 L263.64 49.25 L263.01 48.91 L262.36 48.58 L261.69 48.27 L261.01 47.99 L260.31 47.71 L259.6 47.46 L258.87 47.21 L258.13 46.99 L257.38 46.77 L256.62 46.57 L255.84 46.38 L255.06 46.21 L254.27 46.04 L253.47 45.89 L252.66 45.74 L251.85 45.61 L251.03 45.48 L250.21 45.36 L249.38 45.25 L248.55 45.14 L247.72 45.05 L246.88 44.95 L246.04 44.87 L245.2 44.79 L244.36 44.71 L243.52 44.64 L242.67 44.57 L241.83 44.5 L240.99 44.44 L240.14 44.39 L239.3 44.33 L238.46 44.28 L237.62 44.23 L236.78 44.18 L235.94 44.14 L235.11 44.09 L234.27 44.05 L233.44 44.01 L232.61 43.97 L231.78 43.94 L230.95 43.9 L230.13 43.87 L229.3 43.83 L228.48 43.8 L227.67 43.77 L226.85 43.74 L226.04 43.71 L225.23 43.68 L224.42 43.65 L223.61 43.62 L222.81 43.59 L222.01 43.57 L221.21 43.54 L220.41 43.52 L219.62 43.49 L218.83 43.46 L218.04 43.44 L217.25 43.42 L216.47 43.39 L215.69 43.37 L214.91 43.34 L214.13 43.32 L213.36 43.3 L212.59 43.27 L211.82 43.25 L211.05 43.23 L210.29 43.21 L209.53 43.18 L208.77 43.16 L208.02 43.14 L207.26 43.12 L206.51 43.1 L205.76 43.07 L205.01 43.05 L204.27 43.03 L203.53 43.01 L202.79 42.99 L202.05 42.97 L201.31 42.95 L200.58 42.93 L199.85 42.91 L199.12 42.88 L198.39 42.86 L197.67 42.84 L196.95 42.82 L196.23 42.8 L195.51 42.78 L194.79 42.76 L194.08 42.74 L193.36 42.72 L192.65 42.7 L191.95 42.68 L191.24 42.66 L190.54 42.64 L189.83 42.62 L189.13 42.6 L188.44 42.58 L187.74 42.56 L187.05 42.54 L186.35 42.52 L185.66 42.51 L184.97 42.49 L184.29 42.47 L183.6 42.45 L182.92 42.43 L182.24 42.41 L181.56 42.39 L180.88 42.37 L180.2 42.35 L179.53 42.33 L178.85 42.31 L178.18 42.3 L177.51 42.28 L176.84 42.26 L176.18 42.24 L175.51 42.22 L174.85 42.2 L174.19 42.18 L173.53 42.16 L172.87 42.15 L172.21 42.13 L171.56 42.11 L170.9 42.09 L170.25 42.07 L169.6 42.05 L168.95 42.04 L168.3 42.02 L167.66 42 L167.01 41.98 L166.37 41.96 L165.72 41.95 L165.08 41.93 L164.44 41.91 L163.81 41.89 L163.17 41.87 L162.53 41.86 L161.9 41.84 L161.27 41.82 L160.63 41.8 L160 41.79 L159.37 41.77 L158.75 41.75 L158.12 41.73 L157.5 41.72 L156.87 41.7 L156.25 41.68 L155.63 41.66 L155.01 41.65 L154.39 41.63 L153.77 41.61 L153.15 41.59 L152.54 41.58 L151.92 41.56 L151.31 41.54 L150.7 41.53 L150.08 41.51 L149.47 41.49 L148.86 41.48 L148.26 41.46 L147.65 41.44 L147.04 41.43 L146.44 41.41 L145.83 41.39 L145.23 41.38 L144.63 41.36 L144.03 41.34 L143.43 41.33 L142.83 41.31 L142.23 41.29 L141.63 41.28 L141.04 41.26 L140.44 41.24 L139.85 41.23 L139.25 41.21 L138.66 41.2 L138.07 41.18 L137.48 41.17 L136.89 41.15 L136.3 41.13 L135.71 41.12 L135.12 41.1 L134.53 41.09 L133.95 41.07 L133.36 41.06 L132.78 41.04 L132.2 41.03 L131.61 41.01 L131.03 41 L130.45 40.98 L129.87 40.97 L129.29 40.96 L128.71 40.94 L128.13 40.93 L127.55 40.91 L126.97 40.9 L126.4 40.89 L125.82 40.88 L125.24 40.86 L124.67 40.85 L124.1 40.84 L123.52 40.83 L122.95 40.81 L122.38 40.8 L121.8 40.79 L121.23 40.78 L120.66 40.77 L120.09 40.76 L119.52 40.75 L118.95 40.74 L118.38 40.73 L117.82 40.73 L117.25 40.72 L116.68 40.71 L116.11 40.7 L115.55 40.7 L114.98 40.69 L114.42 40.69 L113.85 40.68 L113.29 40.68 L112.72 40.68 L112.16 40.67 L111.59 40.67 L111.03 40.67 L110.47 40.67 L109.91 40.67 L109.34 40.68 L108.78 40.68 L108.22 40.68 L107.66 40.69 L107.1 40.7 L106.54 40.7 L105.98 40.71 L105.42 40.72 L104.86 40.73 L104.3 40.75 L103.74 40.76 L103.18 40.78 L102.62 40.8 L102.06 40.82 L101.51 40.84 L100.95 40.86 L100.39 40.89 L99.83 40.92 L99.28 40.95 L98.72 40.98 L98.16 41.01 L97.61 41.05 L97.05 41.09 L96.49 41.13 L95.94 41.18 L95.38 41.23 L94.83 41.28 L94.27 41.33 L93.72 41.39 L93.16 41.45 L92.61 41.51 L92.06 41.58 L91.5 41.65 L90.95 41.72 L90.4 41.8 L89.84 41.88 L89.29 41.97 L88.74 42.06 L88.19 42.15 L87.64 42.25 L87.09 42.35 L86.54 42.46 L85.99 42.57 L85.44 42.68 L84.89 42.8 L84.34 42.93 L83.79 43.06 L83.25 43.2 L82.7 43.34 L82.16 43.48 L81.61 43.63 L81.07 43.79 L80.52 43.95 L79.98 44.11 L79.44 44.28 L78.9 44.46 L78.36 44.64 L77.82 44.83 L77.28 45.02 L76.75 45.22 L76.21 45.42 L75.68 45.63 L75.15 45.84 L74.61 46.06 L74.08 46.29 L73.55 46.52 L73.03 46.75 L72.5 46.99" stroke="#7030A0" stroke-width="2.3" stroke-dasharray="7.41 2.47" stroke-dashoffset="2.68"/>
<path d="M269.63 226 L269.8 225.54 L269.96 225.08 L270.12 224.62 L270.27 224.15 L270.42 223.69 L270.56 223.23 L270.7 222.76 L270.83 222.3 L270.96 221.83 L271.08 221.36 L271.2 220.9 L271.31 220.43 L271.42 219.96 L271.52 219.49 L271.62 219.03 L271.72 218.56 L271.81 218.09 L271.9 217.62 L271.98 217.15 L272.06 216.68 L272.14 216.21 L272.21 215.73 L272.28 215.26 L272.35 214.79 L272.41 214.32 L272.47 213.85 L272.53 213.37 L272.59 212.9 L272.64 212.43 L272.69 211.96 L272.74 211.48 L272.78 211.01 L272.83 210.53 L272.87 210.06 L272.91 209.58 L272.95 209.11 L272.98 208.63 L273.02 208.16 L273.05 207.68 L273.08 207.21 L273.11 206.73 L273.14 206.25 L273.17 205.78 L273.19 205.3 L273.22 204.82 L273.24 204.35 L273.26 203.87 L273.28 203.39 L273.3 202.91 L273.32 202.43 L273.34 201.95 L273.35 201.47 L273.37 200.99 L273.39 200.51 L273.4 200.03 L273.41 199.55 L273.43 199.07 L273.44 198.59 L273.45 198.11 L273.46 197.63 L273.47 197.14 L273.48 196.66 L273.49 196.18 L273.5 195.69 L273.51 195.21 L273.52 194.72 L273.53 194.24 L273.54 193.75 L273.54 193.27 L273.55 192.78 L273.56 192.3 L273.56 191.81 L273.57 191.32 L273.57 190.83 L273.58 190.34 L273.58 189.86 L273.59 189.37 L273.59 188.88 L273.6 188.39 L273.6 187.89 L273.61 187.4 L273.61 186.91 L273.61 186.42 L273.62 185.93 L273.62 185.43 L273.62 184.94 L273.63 184.44 L273.63 183.95 L273.63 183.45 L273.64 182.95 L273.64 182.46 L273.64 181.96 L273.64 181.46 L273.65 180.96 L273.65 180.46 L273.65 179.96 L273.65 179.46 L273.65 178.96 L273.66 178.45 L273.66 177.95 L273.66 177.45 L273.66 176.94 L273.66 176.44 L273.66 175.93 L273.67 175.42 L273.67 174.92 L273.67 174.41 L273.67 173.9 L273.67 173.39 L273.67 172.88 L273.67 172.37 L273.68 171.86 L273.68 171.34 L273.68 170.83 L273.68 170.31 L273.68 169.8 L273.68 169.28 L273.68 168.76 L273.68 168.25 L273.69 167.73 L273.69 167.21 L273.69 166.69 L273.69 166.16 L273.69 165.64 L273.69 165.12 L273.69 164.59 L273.69 164.07 L273.69 163.54 L273.7 163.02 L273.7 162.49 L273.7 161.96 L273.7 161.43 L273.7 160.9 L273.7 160.36 L273.7 159.83 L273.7 159.3 L273.7 158.76 L273.71 158.22 L273.71 157.69 L273.71 157.15 L273.71 156.61 L273.71 156.07 L273.71 155.53 L273.71 154.98 L273.71 154.44 L273.71 153.89 L273.71 153.35 L273.72 152.8 L273.72 152.25 L273.72 151.7 L273.72 151.15 L273.72 150.6 L273.72 150.04 L273.72 149.49 L273.72 148.93 L273.72 148.38 L273.72 147.82 L273.73 147.26 L273.73 146.7 L273.73 146.13 L273.73 145.57 L273.73 145 L273.73 144.44 L273.73 143.87 L273.73 143.3 L273.73 142.73 L273.73 142.16 L273.74 141.59 L273.74 141.01 L273.74 140.43 L273.74 139.86 L273.74 139.28 L273.74 138.7 L273.74 138.12 L273.74 137.53 L273.74 136.95 L273.75 136.36 L273.75 135.77 L273.75 135.18 L273.75 134.59 L273.75 134 L273.75 133.4 L273.75 132.81 L273.75 132.21 L273.75 131.61 L273.75 131.01 L273.76 130.41 L273.76 129.8 L273.76 129.2 L273.76 128.59 L273.76 127.98 L273.76 127.37 L273.76 126.75 L273.76 126.14 L273.76 125.52 L273.77 124.9 L273.77 124.28 L273.77 123.66 L273.77 123.04 L273.77 122.41 L273.77 121.78 L273.77 121.15 L273.77 120.52 L273.77 119.89 L273.78 119.25 L273.78 118.62 L273.78 117.98 L273.78 117.33 L273.78 116.69 L273.78 116.05 L273.78 115.4 L273.78 114.75 L273.78 114.1 L273.78 113.44 L273.79 112.79 L273.79 112.13 L273.79 111.47 L273.79 110.8 L273.79 110.14 L273.79 109.47 L273.79 108.8 L273.79 108.13 L273.79 107.46 L273.79 106.78 L273.79 106.1 L273.79 105.42 L273.79 104.74 L273.79 104.05 L273.79 103.36 L273.79 102.67 L273.79 101.98 L273.79 101.28 L273.79 100.59 L273.79 99.89 L273.79 99.18 L273.79 98.48 L273.79 97.77 L273.79 97.06 L273.79 96.35 L273.79 95.63 L273.79 94.91 L273.78 94.19 L273.78 93.47 L273.78 92.74 L273.78 92.02 L273.77 91.29 L273.77 90.55 L273.77 89.82 L273.76 89.08 L273.76 88.34 L273.75 87.59 L273.74 86.85 L273.74 86.1 L273.73 85.35 L273.72 84.59 L273.71 83.84 L273.7 83.08 L273.69 82.32 L273.67 81.55 L273.66 80.79 L273.64 80.02 L273.63 79.25 L273.61 78.48 L273.59 77.71 L273.56 76.93 L273.54 76.16 L273.51 75.38 L273.47 74.6 L273.44 73.82 L273.4 73.04 L273.36 72.26 L273.31 71.48 L273.26 70.7 L273.2 69.92 L273.14 69.15 L273.07 68.37 L273 67.59 L272.91 66.82 L272.82 66.05 L272.72 65.29 L272.62 64.53 L272.5 63.77 L272.37 63.02 L272.23 62.28 L272.07 61.55 L271.9 60.82 L271.72 60.1 L271.52 59.4 L271.3 58.7 L271.07 58.02 L270.81 57.35 L270.54 56.7 L270.24 56.07 L269.93 55.45 L269.59 54.85 L269.22 54.27 L268.83 53.71 L268.42 53.17 L267.98 52.65 L267.51 52.16 L267.02 51.69 L266.5 51.24 L265.96 50.81 L265.39 50.41 L264.8 50.03 L264.18 49.67 L263.55 49.33 L262.89 49.02 L262.21 48.72 L261.51 48.45 L260.8 48.19 L260.07 47.95 L259.32 47.72 L258.56 47.51 L257.79 47.32 L257 47.14 L256.21 46.97 L255.4 46.82 L254.59 46.67 L253.77 46.54 L252.94 46.41 L252.11 46.3 L251.27 46.19 L250.43 46.09 L249.59 45.99 L248.74 45.9 L247.89 45.82 L247.04 45.75 L246.19 45.67 L245.33 45.61 L244.48 45.54 L243.63 45.48 L242.77 45.43 L241.92 45.37 L241.07 45.32 L240.22 45.27 L239.37 45.23 L238.52 45.18 L237.67 45.14 L236.83 45.1 L235.98 45.06 L235.14 45.03 L234.3 44.99 L233.47 44.96 L232.63 44.93 L231.8 44.89 L230.97 44.86 L230.14 44.83 L229.32 44.8 L228.49 44.77 L227.67 44.75 L226.86 44.72 L226.04 44.69 L225.23 44.67 L224.42 44.64 L223.61 44.62 L222.81 44.59 L222.01 44.57 L221.21 44.54 L220.41 44.52 L219.62 44.5 L218.83 44.47 L218.04 44.45 L217.25 44.43 L216.47 44.41 L215.69 44.38 L214.91 44.36 L214.13 44.34 L213.36 44.32 L212.59 44.3 L211.82 44.27 L211.06 44.25 L210.29 44.23 L209.53 44.21 L208.77 44.19 L208.02 44.17 L207.27 44.15 L206.52 44.13 L205.77 44.11 L205.02 44.09 L204.28 44.07 L203.54 44.05 L202.8 44.03 L202.06 44.01 L201.33 43.98 L200.6 43.96 L199.87 43.94 L199.14 43.92 L198.41 43.9 L197.69 43.89 L196.97 43.87 L196.25 43.85 L195.53 43.83 L194.82 43.81 L194.11 43.79 L193.4 43.77 L192.69 43.75 L191.98 43.73 L191.28 43.71 L190.57 43.69 L189.87 43.67 L189.18 43.65 L188.48 43.63 L187.78 43.61 L187.09 43.6 L186.4 43.58 L185.71 43.56 L185.02 43.54 L184.34 43.52 L183.66 43.5 L182.97 43.48 L182.29 43.46 L181.62 43.45 L180.94 43.43 L180.26 43.41 L179.59 43.39 L178.92 43.37 L178.25 43.35 L177.58 43.34 L176.92 43.32 L176.25 43.3 L175.59 43.28 L174.93 43.26 L174.27 43.25 L173.61 43.23 L172.95 43.21 L172.3 43.19 L171.64 43.17 L170.99 43.16 L170.34 43.14 L169.69 43.12 L169.05 43.1 L168.4 43.09 L167.75 43.07 L167.11 43.05 L166.47 43.03 L165.83 43.02 L165.19 43 L164.55 42.98 L163.92 42.96 L163.28 42.95 L162.65 42.93 L162.02 42.91 L161.39 42.9 L160.76 42.88 L160.13 42.86 L159.5 42.84 L158.88 42.83 L158.25 42.81 L157.63 42.79 L157.01 42.78 L156.39 42.76 L155.77 42.74 L155.15 42.73 L154.53 42.71 L153.91 42.69 L153.3 42.68 L152.69 42.66 L152.07 42.64 L151.46 42.63 L150.85 42.61 L150.24 42.59 L149.64 42.58 L149.03 42.56 L148.42 42.54 L147.82 42.53 L147.21 42.51 L146.61 42.49 L146.01 42.48 L145.41 42.46 L144.81 42.45 L144.21 42.43 L143.61 42.41 L143.02 42.4 L142.42 42.38 L141.83 42.37 L141.23 42.35 L140.64 42.33 L140.05 42.32 L139.46 42.3 L138.87 42.29 L138.28 42.27 L137.69 42.26 L137.1 42.24 L136.51 42.23 L135.93 42.21 L135.34 42.19 L134.76 42.18 L134.17 42.16 L133.59 42.15 L133.01 42.13 L132.43 42.12 L131.85 42.1 L131.27 42.09 L130.69 42.07 L130.11 42.06 L129.53 42.05 L128.96 42.03 L128.38 42.02 L127.81 42 L127.23 41.99 L126.66 41.97 L126.08 41.96 L125.51 41.95 L124.94 41.93 L124.37 41.92 L123.8 41.91 L123.23 41.89 L122.66 41.88 L122.09 41.87 L121.52 41.86 L120.95 41.84 L120.39 41.83 L119.82 41.82 L119.25 41.81 L118.69 41.8 L118.12 41.79 L117.56 41.78 L116.99 41.77 L116.43 41.76 L115.87 41.75 L115.31 41.74 L114.74 41.73 L114.18 41.72 L113.62 41.71 L113.06 41.7 L112.5 41.7 L111.94 41.69 L111.38 41.68 L110.82 41.68 L110.26 41.67 L109.71 41.67 L109.15 41.67 L108.59 41.66 L108.03 41.66 L107.48 41.66 L106.92 41.66 L106.36 41.66 L105.81 41.66 L105.25 41.66 L104.7 41.67 L104.14 41.67 L103.59 41.68 L103.03 41.69 L102.48 41.69 L101.92 41.7 L101.37 41.71 L100.82 41.73 L100.26 41.74 L99.71 41.75 L99.16 41.77 L98.61 41.79 L98.05 41.81 L97.5 41.83 L96.95 41.86 L96.4 41.89 L95.85 41.91 L95.29 41.95 L94.74 41.98 L94.19 42.02 L93.64 42.05 L93.09 42.1 L92.54 42.14 L91.99 42.19 L91.44 42.24 L90.89 42.29 L90.34 42.35 L89.79 42.41 L89.25 42.48 L88.7 42.54 L88.15 42.62 L87.6 42.69 L87.05 42.77 L86.51 42.86 L85.96 42.95 L85.41 43.04 L84.87 43.14 L84.32 43.25 L83.78 43.35 L83.23 43.47 L82.69 43.59 L82.14 43.71 L81.6 43.84 L81.06 43.98 L80.52 44.12 L79.98 44.27 L79.44 44.42 L78.9 44.58 L78.36 44.75 L77.82 44.92 L77.28 45.1 L76.75 45.28 L76.21 45.48 L75.68 45.67 L75.15 45.88 L74.61 46.09 L74.08 46.3 L73.55 46.53 L73.03 46.75 L72.5 46.99" stroke="#ED7D31" stroke-width="2.3" stroke-dasharray="19.76 7.41 2.47 7.41"/>
<path d="M269.63 226 L269.79 225.54 L269.95 225.08 L270.1 224.62 L270.24 224.15 L270.37 223.69 L270.5 223.23 L270.63 222.76 L270.75 222.3 L270.86 221.83 L270.96 221.37 L271.06 220.9 L271.16 220.43 L271.25 219.97 L271.33 219.5 L271.41 219.03 L271.49 218.57 L271.56 218.1 L271.63 217.63 L271.69 217.16 L271.75 216.69 L271.81 216.22 L271.86 215.75 L271.91 215.28 L271.96 214.81 L272 214.34 L272.04 213.87 L272.08 213.4 L272.12 212.93 L272.15 212.46 L272.18 211.99 L272.21 211.52 L272.24 211.05 L272.27 210.58 L272.29 210.1 L272.31 209.63 L272.33 209.16 L272.35 208.69 L272.37 208.22 L272.39 207.74 L272.4 207.27 L272.42 206.8 L272.43 206.32 L272.44 205.85 L272.46 205.38 L272.47 204.9 L272.48 204.43 L272.49 203.95 L272.5 203.48 L272.5 203 L272.51 202.53 L272.52 202.05 L272.52 201.57 L272.53 201.1 L272.54 200.62 L272.54 200.14 L272.55 199.67 L272.55 199.19 L272.55 198.71 L272.56 198.23 L272.56 197.75 L272.56 197.27 L272.57 196.79 L272.57 196.31 L272.57 195.83 L272.57 195.35 L272.58 194.87 L272.58 194.39 L272.58 193.91 L272.58 193.43 L272.58 192.94 L272.58 192.46 L272.59 191.98 L272.59 191.49 L272.59 191.01 L272.59 190.52 L272.59 190.03 L272.59 189.55 L272.59 189.06 L272.59 188.57 L272.59 188.09 L272.59 187.6 L272.59 187.11 L272.59 186.62 L272.59 186.13 L272.59 185.64 L272.59 185.15 L272.59 184.66 L272.59 184.16 L272.59 183.67 L272.59 183.18 L272.59 182.68 L272.59 182.19 L272.59 181.69 L272.59 181.2 L272.59 180.7 L272.59 180.2 L272.59 179.7 L272.59 179.2 L272.59 178.71 L272.59 178.21 L272.59 177.7 L272.59 177.2 L272.59 176.7 L272.59 176.2 L272.59 175.69 L272.59 175.19 L272.59 174.68 L272.59 174.18 L272.59 173.67 L272.59 173.16 L272.59 172.66 L272.59 172.15 L272.59 171.64 L272.59 171.13 L272.59 170.61 L272.59 170.1 L272.59 169.59 L272.59 169.07 L272.59 168.56 L272.59 168.04 L272.59 167.53 L272.59 167.01 L272.59 166.49 L272.59 165.97 L272.59 165.45 L272.59 164.93 L272.59 164.41 L272.59 163.89 L272.59 163.36 L272.59 162.84 L272.59 162.31 L272.59 161.78 L272.59 161.26 L272.59 160.73 L272.59 160.2 L272.59 159.67 L272.59 159.13 L272.59 158.6 L272.59 158.07 L272.59 157.53 L272.59 157 L272.59 156.46 L272.59 155.92 L272.59 155.38 L272.59 154.84 L272.59 154.3 L272.59 153.75 L272.59 153.21 L272.59 152.67 L272.59 152.12 L272.59 151.57 L272.59 151.02 L272.59 150.47 L272.59 149.92 L272.59 149.37 L272.59 148.81 L272.59 148.26 L272.59 147.7 L272.59 147.15 L272.58 146.59 L272.58 146.03 L272.58 145.47 L272.58 144.9 L272.58 144.34 L272.58 143.77 L272.58 143.21 L272.58 142.64 L272.58 142.07 L272.58 141.5 L272.58 140.93 L272.58 140.35 L272.58 139.78 L272.58 139.2 L272.58 138.62 L272.58 138.04 L272.58 137.46 L272.58 136.88 L272.58 136.29 L272.58 135.71 L272.58 135.12 L272.58 134.53 L272.58 133.94 L272.58 133.35 L272.58 132.76 L272.58 132.16 L272.58 131.56 L272.58 130.97 L272.58 130.36 L272.58 129.76 L272.58 129.16 L272.58 128.55 L272.58 127.95 L272.58 127.34 L272.58 126.73 L272.58 126.12 L272.58 125.5 L272.58 124.88 L272.58 124.27 L272.58 123.65 L272.58 123.03 L272.58 122.4 L272.58 121.78 L272.58 121.15 L272.58 120.52 L272.58 119.89 L272.58 119.26 L272.58 118.62 L272.57 117.98 L272.57 117.35 L272.57 116.7 L272.57 116.06 L272.57 115.42 L272.57 114.77 L272.57 114.12 L272.57 113.47 L272.57 112.81 L272.57 112.16 L272.57 111.5 L272.57 110.84 L272.57 110.18 L272.57 109.51 L272.57 108.84 L272.57 108.18 L272.57 107.5 L272.57 106.83 L272.57 106.15 L272.57 105.47 L272.57 104.79 L272.57 104.11 L272.57 103.42 L272.57 102.74 L272.57 102.04 L272.57 101.35 L272.57 100.65 L272.57 99.96 L272.57 99.25 L272.57 98.55 L272.57 97.84 L272.57 97.14 L272.57 96.42 L272.56 95.71 L272.56 94.99 L272.56 94.27 L272.56 93.55 L272.56 92.83 L272.56 92.1 L272.56 91.37 L272.56 90.63 L272.56 89.9 L272.56 89.16 L272.55 88.41 L272.55 87.67 L272.55 86.92 L272.55 86.17 L272.55 85.42 L272.54 84.66 L272.54 83.9 L272.54 83.14 L272.53 82.37 L272.53 81.61 L272.52 80.84 L272.52 80.06 L272.51 79.29 L272.5 78.51 L272.49 77.73 L272.48 76.94 L272.47 76.16 L272.46 75.37 L272.44 74.58 L272.42 73.78 L272.41 72.99 L272.38 72.2 L272.36 71.4 L272.33 70.6 L272.3 69.8 L272.26 69 L272.22 68.21 L272.17 67.41 L272.12 66.61 L272.06 65.82 L271.99 65.03 L271.92 64.24 L271.83 63.46 L271.73 62.69 L271.62 61.92 L271.5 61.15 L271.36 60.4 L271.21 59.66 L271.03 58.93 L270.84 58.21 L270.63 57.51 L270.39 56.83 L270.13 56.16 L269.85 55.52 L269.53 54.9 L269.19 54.3 L268.82 53.72 L268.42 53.17 L267.98 52.65 L267.52 52.15 L267.02 51.68 L266.5 51.24 L265.94 50.83 L265.35 50.45 L264.73 50.09 L264.09 49.76 L263.41 49.46 L262.72 49.18 L262 48.92 L261.26 48.68 L260.5 48.47 L259.72 48.27 L258.93 48.09 L258.12 47.93 L257.3 47.78 L256.47 47.65 L255.63 47.53 L254.79 47.42 L253.93 47.32 L253.07 47.22 L252.21 47.14 L251.34 47.06 L250.47 46.99 L249.6 46.93 L248.73 46.87 L247.85 46.81 L246.98 46.76 L246.11 46.71 L245.23 46.66 L244.36 46.62 L243.49 46.58 L242.62 46.54 L241.75 46.51 L240.89 46.47 L240.02 46.44 L239.16 46.41 L238.3 46.38 L237.45 46.35 L236.59 46.32 L235.74 46.29 L234.9 46.27 L234.05 46.24 L233.21 46.22 L232.37 46.19 L231.53 46.17 L230.7 46.14 L229.87 46.12 L229.04 46.1 L228.22 46.07 L227.4 46.05 L226.58 46.03 L225.76 46 L224.95 45.98 L224.14 45.96 L223.33 45.94 L222.53 45.92 L221.73 45.9 L220.93 45.87 L220.13 45.85 L219.34 45.83 L218.55 45.81 L217.76 45.79 L216.98 45.77 L216.2 45.75 L215.42 45.73 L214.64 45.71 L213.87 45.69 L213.1 45.67 L212.33 45.65 L211.56 45.63 L210.8 45.61 L210.04 45.59 L209.28 45.57 L208.53 45.55 L207.77 45.53 L207.02 45.51 L206.27 45.49 L205.53 45.47 L204.79 45.45 L204.04 45.43 L203.31 45.41 L202.57 45.39 L201.84 45.37 L201.1 45.35 L200.37 45.33 L199.65 45.31 L198.92 45.3 L198.2 45.28 L197.48 45.26 L196.76 45.24 L196.04 45.22 L195.33 45.2 L194.62 45.18 L193.91 45.16 L193.2 45.15 L192.49 45.13 L191.79 45.11 L191.09 45.09 L190.39 45.07 L189.69 45.05 L189 45.04 L188.3 45.02 L187.61 45 L186.92 44.98 L186.23 44.96 L185.55 44.95 L184.86 44.93 L184.18 44.91 L183.5 44.89 L182.82 44.87 L182.14 44.86 L181.47 44.84 L180.79 44.82 L180.12 44.8 L179.45 44.79 L178.78 44.77 L178.12 44.75 L177.45 44.73 L176.79 44.72 L176.13 44.7 L175.47 44.68 L174.81 44.66 L174.15 44.65 L173.5 44.63 L172.84 44.61 L172.19 44.6 L171.54 44.58 L170.89 44.56 L170.24 44.55 L169.6 44.53 L168.95 44.51 L168.31 44.49 L167.67 44.48 L167.03 44.46 L166.39 44.44 L165.75 44.43 L165.12 44.41 L164.48 44.39 L163.85 44.38 L163.22 44.36 L162.59 44.35 L161.96 44.33 L161.33 44.31 L160.71 44.3 L160.08 44.28 L159.46 44.26 L158.83 44.25 L158.21 44.23 L157.59 44.21 L156.98 44.2 L156.36 44.18 L155.74 44.17 L155.13 44.15 L154.51 44.13 L153.9 44.12 L153.29 44.1 L152.68 44.09 L152.07 44.07 L151.46 44.05 L150.85 44.04 L150.25 44.02 L149.64 44.01 L149.04 43.99 L148.44 43.98 L147.84 43.96 L147.24 43.94 L146.64 43.93 L146.04 43.91 L145.44 43.9 L144.85 43.88 L144.25 43.87 L143.66 43.85 L143.06 43.83 L142.47 43.82 L141.88 43.8 L141.29 43.79 L140.7 43.77 L140.11 43.76 L139.52 43.74 L138.94 43.73 L138.35 43.71 L137.77 43.7 L137.18 43.68 L136.6 43.67 L136.02 43.65 L135.43 43.64 L134.85 43.62 L134.27 43.61 L133.7 43.59 L133.12 43.58 L132.54 43.56 L131.96 43.55 L131.39 43.53 L130.81 43.52 L130.24 43.5 L129.66 43.49 L129.09 43.47 L128.52 43.46 L127.95 43.44 L127.38 43.43 L126.81 43.41 L126.24 43.4 L125.67 43.38 L125.1 43.37 L124.54 43.35 L123.97 43.34 L123.4 43.32 L122.84 43.31 L122.27 43.3 L121.71 43.28 L121.15 43.27 L120.58 43.25 L120.02 43.24 L119.46 43.22 L118.9 43.21 L118.34 43.2 L117.78 43.18 L117.22 43.17 L116.66 43.16 L116.1 43.14 L115.54 43.13 L114.99 43.12 L114.43 43.1 L113.87 43.09 L113.32 43.08 L112.76 43.06 L112.21 43.05 L111.65 43.04 L111.1 43.03 L110.54 43.02 L109.99 43 L109.44 42.99 L108.89 42.98 L108.33 42.97 L107.78 42.96 L107.23 42.95 L106.68 42.94 L106.13 42.93 L105.58 42.92 L105.03 42.91 L104.48 42.91 L103.93 42.9 L103.38 42.89 L102.83 42.89 L102.28 42.88 L101.74 42.88 L101.19 42.87 L100.64 42.87 L100.09 42.87 L99.55 42.86 L99 42.86 L98.45 42.87 L97.91 42.87 L97.36 42.87 L96.81 42.88 L96.27 42.88 L95.72 42.89 L95.18 42.9 L94.63 42.91 L94.09 42.92 L93.54 42.94 L93 42.96 L92.45 42.98 L91.91 43 L91.36 43.02 L90.82 43.05 L90.27 43.08 L89.73 43.12 L89.18 43.15 L88.64 43.19 L88.1 43.24 L87.55 43.28 L87.01 43.34 L86.46 43.39 L85.92 43.45 L85.38 43.52 L84.84 43.59 L84.29 43.66 L83.75 43.74 L83.21 43.83 L82.67 43.92 L82.13 44.02 L81.59 44.12 L81.05 44.24 L80.51 44.35 L79.97 44.48 L79.43 44.61 L78.89 44.75 L78.35 44.89 L77.82 45.04 L77.28 45.2 L76.74 45.37 L76.21 45.55 L75.68 45.73 L75.14 45.92 L74.61 46.12 L74.08 46.32 L73.55 46.54 L73.03 46.76 L72.5 46.99" stroke="#000000" stroke-width="2.6"/>
</g>
<rect x="72.5" y="12.5" width="239.5" height="213.5" fill="none" stroke="#3a3a3a" stroke-width="1"/>
<path d="M72.5 226v-4.5M72.5 226h4.5M120.5 226v-4.5M72.5 183.5h4.5M168.5 226v-4.5M72.5 140h4.5M216.5 226v-4.5M72.5 97.5h4.5M264.5 226v-4.5M72.5 54.5h4.5M312.5 226v-4.5M72.5 12.5h4.5" stroke="#3a3a3a" stroke-width="1" fill="none"/>
<text transform="translate(57.5 231.8) scale(1 1.05)" font-size="17" text-anchor="end">0</text>
<text transform="translate(72.5 253.2) scale(1 1.05)" font-size="17" text-anchor="middle">0</text>
<text transform="translate(57.5 189.1) scale(1 1.05)" font-size="17" text-anchor="end">130</text>
<text transform="translate(120.4 253.2) scale(1 1.05)" font-size="17" text-anchor="middle">130</text>
<text transform="translate(57.5 146.4) scale(1 1.05)" font-size="17" text-anchor="end">260</text>
<text transform="translate(168.3 253.2) scale(1 1.05)" font-size="17" text-anchor="middle">260</text>
<text transform="translate(57.5 103.7) scale(1 1.05)" font-size="17" text-anchor="end">390</text>
<text transform="translate(216.2 253.2) scale(1 1.05)" font-size="17" text-anchor="middle">390</text>
<text transform="translate(57.5 61) scale(1 1.05)" font-size="17" text-anchor="end">520</text>
<text transform="translate(264.1 253.2) scale(1 1.05)" font-size="17" text-anchor="middle">520</text>
<text transform="translate(57.5 18.3) scale(1 1.05)" font-size="17" text-anchor="end">650</text>
<text transform="translate(312 253.2) scale(1 1.05)" font-size="17" text-anchor="middle">650</text>
<circle cx="72.5" cy="47" r="2.75" fill="none" stroke="#FF0000" stroke-width="2.6"/>
<circle cx="172.9" cy="45.4" r="2.75" fill="none" stroke="#FF0000" stroke-width="2.6"/>
<circle cx="266.6" cy="51.4" r="2.75" fill="none" stroke="#FF0000" stroke-width="2.6"/>
<circle cx="273.7" cy="135.3" r="2.75" fill="none" stroke="#FF0000" stroke-width="2.6"/>
<circle cx="269.5" cy="225.5" r="2.75" fill="none" stroke="#FF0000" stroke-width="2.6"/>
<text x="6.1" y="18" font-size="20" font-weight="bold">a</text>
<text transform="translate(264.3 31.9) scale(1 1.05)" font-size="17">25°C</text>
<g font-size="18"><text x="156.26" y="274.2" font-style="italic" stroke="#000" stroke-width="0.15">σ</text><text x="164.76" y="277.1" font-size="13" letter-spacing="1.8" stroke="#000" stroke-width="0.25">11</text><text x="183.01" y="274.2" font-size="17.6" letter-spacing="0.25">(MPa)</text></g>
<g font-size="18" transform="translate(19.5 162.4) rotate(-90)"><text x="-0.54" y="0" font-style="italic" stroke="#000" stroke-width="0.15">σ</text><text x="8.83" y="2.9" font-size="13" letter-spacing="0.7" stroke="#000" stroke-width="0.25">22</text><text x="28.0" y="0" font-size="17.6" letter-spacing="0.25">(MPa)</text></g>
<g transform="translate(0 0)">
<circle cx="108" cy="121.4" r="3.7" fill="none" stroke="#FF0000" stroke-width="2.1"/>
<text transform="translate(128 126.5) scale(1 1.05)" font-size="17">Exp.</text>
<text transform="translate(133 145.8) scale(1 1.05)" font-size="17" font-style="italic">m</text>
<path d="M91.7 160.7H123.2" stroke="#0070C0" stroke-width="2.1" stroke-dasharray="8.40 6.30 2.10 6.30"/>
<text transform="translate(140.3 166.5) scale(1 1.05)" font-size="17" text-anchor="middle">6</text>
<path d="M158.7 160.7H191.5" stroke="#7030A0" stroke-width="2.1" stroke-dasharray="6.30 2.10"/>
<text transform="translate(199 166.5) scale(1 1.05)" font-size="17" text-anchor="start">18</text>
<path d="M91.7 179.1H123.2" stroke="#00B050" stroke-width="2.1" stroke-dasharray="8.40 6.30"/>
<text transform="translate(140.3 184.9) scale(1 1.05)" font-size="17" text-anchor="middle">10</text>
<path d="M158.7 179.1H191.5" stroke="#ED7D31" stroke-width="2.1" stroke-dasharray="16.8 6.3 2.1 30"/>
<text transform="translate(199 184.9) scale(1 1.05)" font-size="17" text-anchor="start">24</text>
<path d="M91.7 197.9H123.2" stroke="#FFC000" stroke-width="2.1" stroke-dasharray="16.80 6.30 2.10 6.30 2.10 6.30"/>
<text transform="translate(140.3 203.7) scale(1 1.05)" font-size="17" text-anchor="middle">14</text>
<path d="M158.7 197.9H191.5" stroke="#000000" stroke-width="2.1"/>
<text transform="translate(199 203.7) scale(1 1.05)" font-size="17" text-anchor="start">26</text>
</g>
<g fill="none" stroke-linejoin="round">
<path d="M612.57 225.5 L612.78 225.05 L612.98 224.59 L613.19 224.14 L613.39 223.68 L613.59 223.22 L613.8 222.77 L614 222.31 L614.2 221.85 L614.39 221.39 L614.59 220.92 L614.79 220.46 L614.98 220 L615.18 219.53 L615.37 219.07 L615.56 218.6 L615.75 218.13 L615.94 217.66 L616.13 217.19 L616.31 216.72 L616.5 216.25 L616.68 215.78 L616.86 215.31 L617.04 214.83 L617.22 214.36 L617.4 213.88 L617.58 213.4 L617.76 212.93 L617.93 212.45 L618.1 211.97 L618.28 211.49 L618.45 211.01 L618.62 210.52 L618.78 210.04 L618.95 209.56 L619.12 209.07 L619.28 208.59 L619.44 208.1 L619.61 207.61 L619.77 207.12 L619.93 206.63 L620.08 206.14 L620.24 205.65 L620.39 205.16 L620.55 204.67 L620.7 204.17 L620.85 203.68 L621 203.18 L621.15 202.68 L621.3 202.19 L621.44 201.69 L621.59 201.19 L621.73 200.69 L621.87 200.19 L622.01 199.69 L622.15 199.18 L622.29 198.68 L622.42 198.18 L622.56 197.67 L622.69 197.17 L622.83 196.66 L622.96 196.15 L623.09 195.64 L623.21 195.13 L623.34 194.62 L623.47 194.11 L623.59 193.6 L623.72 193.09 L623.84 192.57 L623.96 192.06 L624.08 191.54 L624.19 191.03 L624.31 190.51 L624.43 189.99 L624.54 189.47 L624.65 188.95 L624.76 188.43 L624.87 187.91 L624.98 187.39 L625.09 186.87 L625.2 186.34 L625.3 185.82 L625.41 185.29 L625.51 184.77 L625.61 184.24 L625.71 183.71 L625.81 183.19 L625.91 182.66 L626 182.13 L626.1 181.59 L626.19 181.06 L626.28 180.53 L626.37 180 L626.46 179.46 L626.55 178.93 L626.64 178.39 L626.73 177.85 L626.81 177.31 L626.9 176.78 L626.98 176.24 L627.06 175.7 L627.14 175.15 L627.22 174.61 L627.3 174.07 L627.38 173.52 L627.46 172.98 L627.53 172.43 L627.6 171.89 L627.68 171.34 L627.75 170.79 L627.82 170.24 L627.89 169.69 L627.96 169.14 L628.03 168.59 L628.09 168.04 L628.16 167.48 L628.22 166.93 L628.29 166.37 L628.35 165.81 L628.41 165.26 L628.47 164.7 L628.53 164.14 L628.59 163.58 L628.64 163.02 L628.7 162.46 L628.75 161.89 L628.81 161.33 L628.86 160.76 L628.91 160.2 L628.96 159.63 L629.01 159.06 L629.06 158.49 L629.11 157.92 L629.16 157.35 L629.21 156.78 L629.25 156.21 L629.3 155.63 L629.34 155.06 L629.38 154.48 L629.42 153.91 L629.46 153.33 L629.5 152.75 L629.54 152.17 L629.58 151.59 L629.62 151.01 L629.66 150.42 L629.69 149.84 L629.73 149.25 L629.76 148.67 L629.79 148.08 L629.82 147.49 L629.86 146.9 L629.89 146.31 L629.91 145.72 L629.94 145.12 L629.97 144.53 L630 143.93 L630.02 143.34 L630.05 142.74 L630.07 142.14 L630.1 141.54 L630.12 140.94 L630.14 140.34 L630.16 139.73 L630.18 139.13 L630.2 138.52 L630.22 137.91 L630.24 137.31 L630.25 136.7 L630.27 136.09 L630.28 135.47 L630.3 134.86 L630.31 134.25 L630.32 133.63 L630.33 133.01 L630.34 132.4 L630.35 131.78 L630.36 131.16 L630.37 130.53 L630.37 129.91 L630.38 129.29 L630.38 128.66 L630.39 128.03 L630.39 127.41 L630.39 126.78 L630.39 126.15 L630.39 125.51 L630.39 124.88 L630.39 124.25 L630.39 123.61 L630.38 122.97 L630.38 122.33 L630.37 121.69 L630.36 121.05 L630.35 120.41 L630.34 119.77 L630.33 119.12 L630.32 118.48 L630.31 117.83 L630.29 117.18 L630.28 116.53 L630.26 115.88 L630.24 115.23 L630.22 114.58 L630.2 113.92 L630.18 113.27 L630.15 112.61 L630.13 111.95 L630.1 111.29 L630.07 110.63 L630.04 109.97 L630.01 109.31 L629.98 108.64 L629.95 107.98 L629.91 107.31 L629.87 106.64 L629.83 105.97 L629.79 105.3 L629.75 104.63 L629.7 103.96 L629.66 103.29 L629.61 102.62 L629.56 101.94 L629.51 101.27 L629.45 100.59 L629.39 99.91 L629.33 99.24 L629.27 98.56 L629.21 97.88 L629.14 97.2 L629.08 96.52 L629.01 95.84 L628.93 95.16 L628.86 94.47 L628.78 93.79 L628.7 93.11 L628.61 92.42 L628.53 91.74 L628.44 91.05 L628.35 90.37 L628.25 89.68 L628.15 89 L628.05 88.31 L627.95 87.63 L627.84 86.94 L627.73 86.26 L627.61 85.57 L627.5 84.89 L627.38 84.2 L627.25 83.52 L627.12 82.83 L626.99 82.15 L626.85 81.47 L626.71 80.78 L626.57 80.1 L626.42 79.42 L626.27 78.74 L626.11 78.06 L625.95 77.38 L625.78 76.71 L625.61 76.03 L625.43 75.36 L625.25 74.68 L625.07 74.01 L624.88 73.34 L624.68 72.67 L624.49 72.01 L624.28 71.34 L624.07 70.68 L623.85 70.02 L623.63 69.36 L623.41 68.7 L623.17 68.05 L622.94 67.4 L622.69 66.75 L622.44 66.1 L622.19 65.46 L621.93 64.82 L621.66 64.18 L621.39 63.55 L621.11 62.92 L620.82 62.29 L620.53 61.67 L620.23 61.05 L619.92 60.43 L619.61 59.82 L619.29 59.21 L618.97 58.6 L618.64 58 L618.3 57.41 L617.95 56.82 L617.6 56.23 L617.24 55.65 L616.87 55.07 L616.5 54.5 L616.12 53.93 L615.73 53.37 L615.34 52.81 L614.94 52.26 L614.53 51.71 L614.11 51.17 L613.69 50.63 L613.26 50.1 L612.82 49.58 L612.38 49.06 L611.92 48.54 L611.46 48.04 L611 47.54 L610.53 47.04 L610.05 46.55 L609.56 46.07 L609.06 45.59 L608.56 45.12 L608.05 44.66 L607.54 44.2 L607.02 43.75 L606.49 43.31 L605.95 42.87 L605.41 42.44 L604.86 42.01 L604.3 41.59 L603.74 41.18 L603.17 40.78 L602.6 40.38 L602.02 39.98 L601.43 39.6 L600.84 39.22 L600.24 38.85 L599.63 38.48 L599.02 38.12 L598.41 37.77 L597.78 37.43 L597.16 37.09 L596.52 36.75 L595.89 36.43 L595.24 36.11 L594.59 35.79 L593.94 35.49 L593.28 35.19 L592.62 34.89 L591.95 34.6 L591.28 34.32 L590.61 34.05 L589.93 33.78 L589.24 33.51 L588.55 33.25 L587.86 33 L587.17 32.76 L586.47 32.51 L585.76 32.28 L585.06 32.05 L584.35 31.83 L583.64 31.61 L582.92 31.39 L582.2 31.19 L581.48 30.98 L580.76 30.79 L580.03 30.59 L579.3 30.41 L578.57 30.23 L577.84 30.05 L577.1 29.88 L576.37 29.71 L575.63 29.54 L574.88 29.38 L574.14 29.23 L573.4 29.08 L572.65 28.93 L571.9 28.79 L571.15 28.66 L570.4 28.52 L569.65 28.39 L568.9 28.27 L568.15 28.15 L567.39 28.03 L566.64 27.92 L565.88 27.81 L565.12 27.7 L564.37 27.6 L563.61 27.5 L562.85 27.4 L562.09 27.31 L561.33 27.22 L560.57 27.13 L559.81 27.05 L559.06 26.97 L558.3 26.89 L557.54 26.82 L556.78 26.74 L556.02 26.68 L555.26 26.61 L554.5 26.55 L553.74 26.49 L552.98 26.43 L552.22 26.37 L551.46 26.32 L550.71 26.27 L549.95 26.22 L549.19 26.18 L548.44 26.13 L547.68 26.09 L546.93 26.05 L546.17 26.02 L545.42 25.98 L544.67 25.95 L543.91 25.92 L543.16 25.89 L542.41 25.87 L541.66 25.84 L540.91 25.82 L540.16 25.8 L539.42 25.78 L538.67 25.77 L537.92 25.75 L537.18 25.74 L536.43 25.73 L535.69 25.72 L534.95 25.71 L534.21 25.71 L533.47 25.7 L532.73 25.7 L531.99 25.7 L531.25 25.7 L530.52 25.7 L529.78 25.71 L529.05 25.71 L528.32 25.72 L527.59 25.73 L526.85 25.74 L526.13 25.75 L525.4 25.77 L524.67 25.78 L523.94 25.8 L523.22 25.82 L522.49 25.84 L521.77 25.86 L521.05 25.88 L520.33 25.9 L519.61 25.93 L518.89 25.96 L518.17 25.98 L517.46 26.01 L516.74 26.04 L516.03 26.08 L515.32 26.11 L514.6 26.15 L513.89 26.18 L513.18 26.22 L512.48 26.26 L511.77 26.3 L511.06 26.34 L510.36 26.39 L509.65 26.43 L508.95 26.48 L508.25 26.53 L507.55 26.57 L506.85 26.63 L506.15 26.68 L505.46 26.73 L504.76 26.78 L504.07 26.84 L503.37 26.9 L502.68 26.96 L501.99 27.02 L501.3 27.08 L500.61 27.14 L499.92 27.21 L499.24 27.27 L498.55 27.34 L497.87 27.41 L497.18 27.48 L496.5 27.55 L495.82 27.62 L495.14 27.7 L494.46 27.77 L493.78 27.85 L493.11 27.93 L492.43 28.01 L491.76 28.09 L491.08 28.17 L490.41 28.26 L489.74 28.34 L489.07 28.43 L488.4 28.52 L487.73 28.61 L487.07 28.7 L486.4 28.79 L485.74 28.89 L485.07 28.99 L484.41 29.08 L483.75 29.18 L483.09 29.28 L482.43 29.38 L481.77 29.49 L481.12 29.59 L480.46 29.7 L479.81 29.81 L479.15 29.92 L478.5 30.03 L477.85 30.14 L477.2 30.26 L476.55 30.37 L475.9 30.49 L475.26 30.61 L474.61 30.73 L473.97 30.85 L473.33 30.97 L472.68 31.1 L472.04 31.23 L471.4 31.35 L470.77 31.48 L470.13 31.61 L469.49 31.75 L468.86 31.88 L468.22 32.02 L467.59 32.15 L466.96 32.29 L466.33 32.43 L465.7 32.58 L465.07 32.72 L464.44 32.86 L463.82 33.01 L463.19 33.16 L462.57 33.31 L461.95 33.46 L461.33 33.61 L460.71 33.77 L460.09 33.92 L459.47 34.08 L458.86 34.24 L458.24 34.4 L457.63 34.56 L457.02 34.72 L456.41 34.89 L455.8 35.05 L455.19 35.22 L454.58 35.39 L453.97 35.56 L453.37 35.73 L452.76 35.91 L452.16 36.08 L451.56 36.26 L450.96 36.44 L450.36 36.62 L449.77 36.8 L449.17 36.98 L448.58 37.16 L447.98 37.35 L447.39 37.54 L446.8 37.72 L446.21 37.91 L445.62 38.1 L445.04 38.3 L444.45 38.49 L443.87 38.68 L443.28 38.88 L442.7 39.08 L442.12 39.28 L441.54 39.48 L440.97 39.68 L440.39 39.88 L439.82 40.09 L439.24 40.29 L438.67 40.5 L438.1 40.71 L437.53 40.91 L436.96 41.12 L436.4 41.34 L435.83 41.55 L435.27 41.76 L434.71 41.98 L434.15 42.19 L433.59 42.41 L433.03 42.63 L432.47 42.85 L431.92 43.07 L431.36 43.29 L430.81 43.52 L430.26 43.74 L429.71 43.97 L429.16 44.19 L428.62 44.42 L428.07 44.65 L427.53 44.88 L426.98 45.11 L426.44 45.34 L425.9 45.57 L425.36 45.81 L424.83 46.04 L424.29 46.28 L423.76 46.51 L423.23 46.75 L422.7 46.99 L422.17 47.23 L421.64 47.47 L421.11 47.71 L420.59 47.95 L420.06 48.19 L419.54 48.43 L419.02 48.68 L418.5 48.92" stroke="#0070C0" stroke-width="2.3" stroke-dasharray="9.88 7.41 2.47 7.41" stroke-dashoffset="2.62"/>
<path d="M612.57 225.5 L612.77 225.05 L612.97 224.59 L613.16 224.14 L613.36 223.68 L613.55 223.22 L613.74 222.77 L613.93 222.31 L614.11 221.85 L614.29 221.39 L614.47 220.93 L614.65 220.46 L614.82 220 L614.99 219.54 L615.16 219.07 L615.33 218.61 L615.5 218.14 L615.66 217.67 L615.82 217.21 L615.98 216.74 L616.13 216.27 L616.29 215.8 L616.44 215.33 L616.58 214.86 L616.73 214.39 L616.87 213.91 L617.02 213.44 L617.15 212.96 L617.29 212.49 L617.43 212.01 L617.56 211.54 L617.69 211.06 L617.82 210.58 L617.94 210.11 L618.06 209.63 L618.19 209.15 L618.3 208.67 L618.42 208.19 L618.54 207.71 L618.65 207.22 L618.76 206.74 L618.87 206.26 L618.97 205.78 L619.08 205.29 L619.18 204.81 L619.28 204.32 L619.38 203.84 L619.48 203.35 L619.57 202.86 L619.66 202.37 L619.75 201.89 L619.84 201.4 L619.93 200.91 L620.02 200.42 L620.1 199.93 L620.18 199.44 L620.26 198.95 L620.34 198.46 L620.42 197.96 L620.49 197.47 L620.57 196.98 L620.64 196.48 L620.71 195.99 L620.78 195.49 L620.84 195 L620.91 194.5 L620.98 194.01 L621.04 193.51 L621.1 193.01 L621.16 192.51 L621.22 192.02 L621.28 191.52 L621.33 191.02 L621.39 190.52 L621.44 190.02 L621.49 189.51 L621.55 189.01 L621.6 188.51 L621.65 188.01 L621.69 187.5 L621.74 187 L621.79 186.49 L621.83 185.99 L621.87 185.48 L621.92 184.98 L621.96 184.47 L622 183.96 L622.04 183.45 L622.08 182.95 L622.11 182.44 L622.15 181.93 L622.19 181.42 L622.22 180.9 L622.26 180.39 L622.29 179.88 L622.32 179.37 L622.35 178.85 L622.39 178.34 L622.42 177.82 L622.45 177.31 L622.47 176.79 L622.5 176.27 L622.53 175.76 L622.56 175.24 L622.58 174.72 L622.61 174.2 L622.63 173.68 L622.66 173.16 L622.68 172.63 L622.71 172.11 L622.73 171.59 L622.75 171.06 L622.77 170.54 L622.79 170.01 L622.82 169.48 L622.84 168.95 L622.86 168.43 L622.88 167.9 L622.89 167.37 L622.91 166.83 L622.93 166.3 L622.95 165.77 L622.97 165.24 L622.98 164.7 L623 164.17 L623.02 163.63 L623.03 163.09 L623.05 162.55 L623.06 162.01 L623.08 161.47 L623.09 160.93 L623.11 160.39 L623.12 159.85 L623.14 159.3 L623.15 158.76 L623.16 158.21 L623.18 157.66 L623.19 157.11 L623.2 156.56 L623.21 156.01 L623.23 155.46 L623.24 154.91 L623.25 154.36 L623.26 153.8 L623.27 153.24 L623.29 152.69 L623.3 152.13 L623.31 151.57 L623.32 151.01 L623.33 150.45 L623.34 149.88 L623.35 149.32 L623.36 148.75 L623.37 148.19 L623.38 147.62 L623.39 147.05 L623.4 146.48 L623.41 145.91 L623.42 145.33 L623.43 144.76 L623.44 144.18 L623.45 143.6 L623.46 143.03 L623.47 142.45 L623.47 141.86 L623.48 141.28 L623.49 140.7 L623.5 140.11 L623.51 139.52 L623.52 138.94 L623.53 138.35 L623.53 137.75 L623.54 137.16 L623.55 136.57 L623.56 135.97 L623.57 135.37 L623.58 134.77 L623.58 134.17 L623.59 133.57 L623.6 132.97 L623.61 132.36 L623.61 131.76 L623.62 131.15 L623.63 130.54 L623.64 129.92 L623.64 129.31 L623.65 128.7 L623.66 128.08 L623.66 127.46 L623.67 126.84 L623.68 126.22 L623.68 125.59 L623.69 124.97 L623.7 124.34 L623.7 123.71 L623.71 123.08 L623.71 122.45 L623.72 121.81 L623.72 121.18 L623.73 120.54 L623.74 119.9 L623.74 119.26 L623.75 118.61 L623.75 117.97 L623.75 117.32 L623.76 116.67 L623.76 116.02 L623.77 115.36 L623.77 114.71 L623.77 114.05 L623.78 113.39 L623.78 112.73 L623.78 112.07 L623.78 111.4 L623.78 110.73 L623.78 110.07 L623.78 109.39 L623.79 108.72 L623.78 108.05 L623.78 107.37 L623.78 106.69 L623.78 106.01 L623.78 105.33 L623.78 104.64 L623.77 103.95 L623.77 103.27 L623.76 102.57 L623.76 101.88 L623.75 101.19 L623.74 100.49 L623.73 99.79 L623.72 99.09 L623.71 98.39 L623.7 97.68 L623.69 96.98 L623.68 96.27 L623.66 95.56 L623.65 94.85 L623.63 94.14 L623.61 93.42 L623.59 92.7 L623.57 91.99 L623.54 91.27 L623.52 90.54 L623.49 89.82 L623.46 89.1 L623.43 88.37 L623.4 87.65 L623.36 86.92 L623.32 86.19 L623.28 85.46 L623.24 84.73 L623.2 83.99 L623.15 83.26 L623.1 82.53 L623.04 81.79 L622.98 81.06 L622.92 80.32 L622.86 79.59 L622.79 78.85 L622.72 78.12 L622.64 77.38 L622.56 76.65 L622.48 75.91 L622.39 75.18 L622.29 74.45 L622.19 73.71 L622.09 72.98 L621.98 72.25 L621.86 71.53 L621.74 70.8 L621.61 70.08 L621.48 69.35 L621.34 68.64 L621.19 67.92 L621.03 67.21 L620.87 66.49 L620.7 65.79 L620.52 65.08 L620.34 64.39 L620.14 63.69 L619.94 63 L619.73 62.32 L619.51 61.64 L619.28 60.96 L619.04 60.29 L618.79 59.63 L618.53 58.97 L618.25 58.32 L617.97 57.68 L617.68 57.05 L617.38 56.42 L617.06 55.8 L616.74 55.19 L616.4 54.59 L616.05 53.99 L615.69 53.41 L615.31 52.83 L614.93 52.26 L614.53 51.71 L614.12 51.16 L613.7 50.62 L613.26 50.1 L612.81 49.58 L612.35 49.08 L611.88 48.59 L611.39 48.1 L610.9 47.63 L610.39 47.17 L609.86 46.72 L609.33 46.28 L608.78 45.86 L608.22 45.44 L607.65 45.04 L607.07 44.65 L606.48 44.27 L605.88 43.9 L605.26 43.54 L604.64 43.19 L604 42.86 L603.35 42.53 L602.7 42.22 L602.03 41.91 L601.36 41.62 L600.68 41.34 L599.99 41.07 L599.29 40.8 L598.58 40.55 L597.87 40.31 L597.14 40.07 L596.42 39.85 L595.68 39.63 L594.94 39.43 L594.19 39.23 L593.44 39.04 L592.68 38.85 L591.92 38.68 L591.15 38.51 L590.38 38.35 L589.6 38.2 L588.82 38.05 L588.04 37.91 L587.25 37.78 L586.46 37.65 L585.67 37.53 L584.88 37.41 L584.08 37.3 L583.28 37.19 L582.48 37.09 L581.68 37 L580.88 36.91 L580.07 36.82 L579.27 36.74 L578.46 36.66 L577.66 36.58 L576.85 36.51 L576.04 36.44 L575.24 36.38 L574.43 36.32 L573.62 36.26 L572.82 36.21 L572.01 36.16 L571.2 36.11 L570.4 36.06 L569.6 36.02 L568.79 35.98 L567.99 35.94 L567.19 35.9 L566.39 35.86 L565.59 35.83 L564.79 35.8 L564 35.77 L563.2 35.74 L562.41 35.71 L561.62 35.69 L560.83 35.67 L560.04 35.64 L559.25 35.62 L558.47 35.6 L557.68 35.58 L556.9 35.57 L556.12 35.55 L555.34 35.54 L554.56 35.52 L553.79 35.51 L553.02 35.5 L552.25 35.48 L551.48 35.47 L550.71 35.46 L549.95 35.45 L549.18 35.44 L548.42 35.44 L547.66 35.43 L546.91 35.42 L546.15 35.41 L545.4 35.41 L544.65 35.4 L543.9 35.4 L543.15 35.39 L542.4 35.39 L541.66 35.39 L540.92 35.38 L540.18 35.38 L539.44 35.38 L538.71 35.37 L537.97 35.37 L537.24 35.37 L536.51 35.37 L535.79 35.37 L535.06 35.37 L534.34 35.36 L533.61 35.36 L532.89 35.36 L532.18 35.36 L531.46 35.36 L530.75 35.36 L530.03 35.37 L529.32 35.37 L528.61 35.37 L527.91 35.37 L527.2 35.37 L526.5 35.37 L525.8 35.37 L525.1 35.37 L524.4 35.38 L523.7 35.38 L523.01 35.38 L522.31 35.38 L521.62 35.39 L520.93 35.39 L520.25 35.39 L519.56 35.39 L518.87 35.4 L518.19 35.4 L517.51 35.4 L516.83 35.41 L516.15 35.41 L515.48 35.42 L514.8 35.42 L514.13 35.43 L513.45 35.43 L512.78 35.43 L512.11 35.44 L511.45 35.44 L510.78 35.45 L510.12 35.46 L509.45 35.46 L508.79 35.47 L508.13 35.47 L507.47 35.48 L506.81 35.49 L506.16 35.49 L505.5 35.5 L504.85 35.51 L504.2 35.52 L503.54 35.52 L502.89 35.53 L502.25 35.54 L501.6 35.55 L500.95 35.56 L500.31 35.57 L499.66 35.58 L499.02 35.59 L498.38 35.6 L497.74 35.61 L497.1 35.62 L496.46 35.63 L495.83 35.64 L495.19 35.66 L494.56 35.67 L493.92 35.68 L493.29 35.7 L492.66 35.71 L492.03 35.72 L491.4 35.74 L490.77 35.76 L490.14 35.77 L489.52 35.79 L488.89 35.81 L488.27 35.82 L487.65 35.84 L487.02 35.86 L486.4 35.88 L485.78 35.9 L485.16 35.92 L484.54 35.94 L483.93 35.96 L483.31 35.99 L482.69 36.01 L482.08 36.04 L481.46 36.06 L480.85 36.09 L480.24 36.11 L479.63 36.14 L479.02 36.17 L478.41 36.2 L477.8 36.23 L477.19 36.26 L476.58 36.29 L475.97 36.33 L475.37 36.36 L474.76 36.39 L474.16 36.43 L473.55 36.47 L472.95 36.51 L472.35 36.55 L471.74 36.59 L471.14 36.63 L470.54 36.67 L469.94 36.71 L469.34 36.76 L468.75 36.81 L468.15 36.85 L467.55 36.9 L466.95 36.95 L466.36 37.01 L465.76 37.06 L465.17 37.11 L464.57 37.17 L463.98 37.23 L463.39 37.29 L462.8 37.35 L462.21 37.41 L461.62 37.48 L461.03 37.54 L460.44 37.61 L459.85 37.68 L459.26 37.75 L458.67 37.82 L458.09 37.89 L457.5 37.97 L456.91 38.05 L456.33 38.13 L455.74 38.21 L455.16 38.29 L454.58 38.38 L454 38.47 L453.41 38.56 L452.83 38.65 L452.25 38.74 L451.67 38.84 L451.09 38.94 L450.52 39.04 L449.94 39.14 L449.36 39.24 L448.79 39.35 L448.21 39.46 L447.64 39.57 L447.06 39.68 L446.49 39.8 L445.92 39.91 L445.34 40.03 L444.77 40.16 L444.2 40.28 L443.63 40.41 L443.06 40.54 L442.5 40.67 L441.93 40.81 L441.36 40.94 L440.8 41.08 L440.23 41.22 L439.67 41.37 L439.11 41.51 L438.54 41.66 L437.98 41.82 L437.42 41.97 L436.86 42.13 L436.31 42.29 L435.75 42.45 L435.19 42.61 L434.64 42.78 L434.08 42.95 L433.53 43.12 L432.98 43.29 L432.42 43.47 L431.87 43.65 L431.32 43.83 L430.78 44.02 L430.23 44.2 L429.68 44.39 L429.14 44.59 L428.59 44.78 L428.05 44.98 L427.51 45.18 L426.97 45.38 L426.43 45.58 L425.89 45.79 L425.36 46 L424.82 46.21 L424.29 46.42 L423.76 46.64 L423.22 46.86 L422.69 47.08 L422.16 47.3 L421.64 47.53 L421.11 47.75 L420.59 47.98 L420.06 48.22 L419.54 48.45 L419.02 48.68 L418.5 48.92" stroke="#00B050" stroke-width="2.3" stroke-dasharray="7.41 2.47" stroke-dashoffset="2.74"/>
<path d="M612.57 225.5 L612.77 225.05 L612.97 224.59 L613.16 224.14 L613.35 223.68 L613.54 223.22 L613.72 222.77 L613.9 222.31 L614.08 221.85 L614.25 221.39 L614.42 220.93 L614.59 220.47 L614.75 220 L614.91 219.54 L615.07 219.08 L615.22 218.61 L615.37 218.15 L615.51 217.68 L615.65 217.21 L615.79 216.75 L615.93 216.28 L616.06 215.81 L616.19 215.34 L616.31 214.87 L616.44 214.4 L616.55 213.93 L616.67 213.46 L616.78 212.99 L616.89 212.52 L617 212.04 L617.11 211.57 L617.21 211.1 L617.31 210.62 L617.4 210.15 L617.5 209.67 L617.59 209.2 L617.68 208.72 L617.76 208.24 L617.85 207.77 L617.93 207.29 L618.01 206.81 L618.08 206.33 L618.16 205.86 L618.23 205.38 L618.3 204.9 L618.37 204.42 L618.43 203.94 L618.5 203.46 L618.56 202.98 L618.62 202.49 L618.68 202.01 L618.74 201.53 L618.79 201.05 L618.84 200.57 L618.9 200.08 L618.95 199.6 L618.99 199.11 L619.04 198.63 L619.09 198.15 L619.13 197.66 L619.17 197.17 L619.21 196.69 L619.25 196.2 L619.29 195.71 L619.33 195.23 L619.37 194.74 L619.4 194.25 L619.44 193.76 L619.47 193.27 L619.5 192.78 L619.53 192.29 L619.56 191.8 L619.59 191.31 L619.62 190.82 L619.65 190.33 L619.68 189.84 L619.7 189.34 L619.73 188.85 L619.75 188.36 L619.78 187.86 L619.8 187.37 L619.82 186.87 L619.84 186.38 L619.86 185.88 L619.88 185.38 L619.9 184.88 L619.92 184.39 L619.94 183.89 L619.96 183.39 L619.98 182.89 L620 182.39 L620.01 181.89 L620.03 181.38 L620.04 180.88 L620.06 180.38 L620.08 179.88 L620.09 179.37 L620.1 178.87 L620.12 178.36 L620.13 177.85 L620.15 177.35 L620.16 176.84 L620.17 176.33 L620.18 175.82 L620.2 175.31 L620.21 174.8 L620.22 174.29 L620.23 173.78 L620.24 173.26 L620.26 172.75 L620.27 172.24 L620.28 171.72 L620.29 171.2 L620.3 170.69 L620.31 170.17 L620.32 169.65 L620.33 169.13 L620.34 168.61 L620.35 168.09 L620.36 167.57 L620.37 167.04 L620.38 166.52 L620.39 166 L620.4 165.47 L620.4 164.94 L620.41 164.42 L620.42 163.89 L620.43 163.36 L620.44 162.83 L620.45 162.3 L620.46 161.76 L620.47 161.23 L620.47 160.7 L620.48 160.16 L620.49 159.62 L620.5 159.09 L620.51 158.55 L620.52 158.01 L620.52 157.47 L620.53 156.92 L620.54 156.38 L620.55 155.84 L620.56 155.29 L620.56 154.75 L620.57 154.2 L620.58 153.65 L620.59 153.1 L620.6 152.55 L620.6 152 L620.61 151.44 L620.62 150.89 L620.63 150.33 L620.63 149.77 L620.64 149.22 L620.65 148.66 L620.66 148.09 L620.67 147.53 L620.67 146.97 L620.68 146.4 L620.69 145.84 L620.7 145.27 L620.71 144.7 L620.71 144.13 L620.72 143.56 L620.73 142.98 L620.74 142.41 L620.74 141.83 L620.75 141.26 L620.76 140.68 L620.77 140.1 L620.78 139.52 L620.78 138.93 L620.79 138.35 L620.8 137.76 L620.81 137.17 L620.82 136.58 L620.82 135.99 L620.83 135.4 L620.84 134.8 L620.85 134.21 L620.86 133.61 L620.86 133.01 L620.87 132.41 L620.88 131.81 L620.89 131.2 L620.9 130.6 L620.9 129.99 L620.91 129.38 L620.92 128.77 L620.93 128.16 L620.94 127.54 L620.94 126.93 L620.95 126.31 L620.96 125.69 L620.97 125.07 L620.98 124.44 L620.98 123.82 L620.99 123.19 L621 122.56 L621.01 121.93 L621.02 121.3 L621.03 120.66 L621.03 120.02 L621.04 119.38 L621.05 118.74 L621.06 118.1 L621.07 117.46 L621.07 116.81 L621.08 116.16 L621.09 115.51 L621.1 114.85 L621.11 114.2 L621.11 113.54 L621.12 112.88 L621.13 112.22 L621.14 111.55 L621.14 110.89 L621.15 110.22 L621.16 109.55 L621.17 108.88 L621.17 108.2 L621.18 107.52 L621.19 106.84 L621.19 106.16 L621.2 105.48 L621.21 104.79 L621.21 104.1 L621.22 103.41 L621.23 102.72 L621.23 102.02 L621.24 101.32 L621.24 100.62 L621.25 99.92 L621.25 99.21 L621.26 98.5 L621.26 97.79 L621.26 97.08 L621.26 96.36 L621.27 95.65 L621.27 94.93 L621.27 94.21 L621.27 93.48 L621.27 92.75 L621.27 92.03 L621.27 91.29 L621.26 90.56 L621.26 89.82 L621.26 89.09 L621.25 88.35 L621.24 87.6 L621.24 86.86 L621.23 86.11 L621.21 85.36 L621.2 84.61 L621.19 83.86 L621.17 83.11 L621.15 82.35 L621.13 81.6 L621.11 80.84 L621.09 80.08 L621.06 79.32 L621.03 78.55 L620.99 77.79 L620.96 77.03 L620.92 76.26 L620.88 75.5 L620.83 74.73 L620.78 73.97 L620.72 73.2 L620.66 72.44 L620.59 71.67 L620.52 70.91 L620.44 70.15 L620.36 69.39 L620.27 68.63 L620.18 67.88 L620.07 67.12 L619.96 66.37 L619.84 65.63 L619.71 64.88 L619.58 64.15 L619.43 63.41 L619.27 62.69 L619.1 61.96 L618.93 61.25 L618.74 60.54 L618.53 59.84 L618.32 59.15 L618.09 58.46 L617.85 57.79 L617.59 57.12 L617.32 56.47 L617.04 55.82 L616.74 55.19 L616.42 54.57 L616.09 53.96 L615.74 53.36 L615.37 52.78 L614.98 52.22 L614.58 51.66 L614.16 51.12 L613.73 50.6 L613.27 50.09 L612.8 49.6 L612.31 49.12 L611.8 48.66 L611.27 48.22 L610.73 47.79 L610.17 47.37 L609.59 46.98 L608.99 46.6 L608.38 46.23 L607.76 45.89 L607.12 45.55 L606.46 45.23 L605.79 44.93 L605.11 44.64 L604.41 44.37 L603.7 44.11 L602.98 43.86 L602.25 43.63 L601.5 43.41 L600.75 43.2 L599.99 43 L599.22 42.81 L598.44 42.64 L597.65 42.47 L596.86 42.32 L596.06 42.17 L595.26 42.03 L594.45 41.9 L593.63 41.78 L592.81 41.67 L591.99 41.56 L591.16 41.46 L590.33 41.37 L589.5 41.28 L588.66 41.2 L587.83 41.13 L586.99 41.06 L586.15 40.99 L585.31 40.93 L584.47 40.87 L583.63 40.82 L582.79 40.77 L581.95 40.72 L581.11 40.68 L580.27 40.64 L579.43 40.6 L578.59 40.56 L577.76 40.53 L576.92 40.5 L576.09 40.47 L575.26 40.44 L574.42 40.42 L573.59 40.4 L572.77 40.38 L571.94 40.36 L571.12 40.34 L570.3 40.32 L569.48 40.31 L568.66 40.29 L567.84 40.28 L567.03 40.26 L566.22 40.25 L565.41 40.24 L564.6 40.23 L563.8 40.22 L563 40.21 L562.2 40.21 L561.4 40.2 L560.61 40.19 L559.81 40.18 L559.02 40.18 L558.24 40.17 L557.45 40.17 L556.67 40.16 L555.89 40.16 L555.11 40.15 L554.34 40.15 L553.56 40.15 L552.79 40.14 L552.02 40.14 L551.26 40.14 L550.5 40.13 L549.74 40.13 L548.98 40.13 L548.22 40.13 L547.47 40.13 L546.72 40.12 L545.97 40.12 L545.22 40.12 L544.48 40.12 L543.73 40.12 L542.99 40.12 L542.26 40.11 L541.52 40.11 L540.79 40.11 L540.06 40.11 L539.33 40.11 L538.6 40.11 L537.88 40.11 L537.15 40.11 L536.43 40.11 L535.72 40.11 L535 40.1 L534.29 40.1 L533.57 40.1 L532.86 40.1 L532.16 40.1 L531.45 40.1 L530.75 40.1 L530.05 40.1 L529.35 40.1 L528.65 40.1 L527.95 40.1 L527.26 40.1 L526.56 40.1 L525.87 40.1 L525.19 40.1 L524.5 40.1 L523.81 40.1 L523.13 40.1 L522.45 40.1 L521.77 40.1 L521.09 40.09 L520.42 40.09 L519.74 40.09 L519.07 40.09 L518.4 40.09 L517.73 40.09 L517.06 40.09 L516.4 40.09 L515.73 40.09 L515.07 40.09 L514.41 40.09 L513.75 40.09 L513.09 40.09 L512.43 40.09 L511.78 40.09 L511.13 40.09 L510.47 40.09 L509.82 40.09 L509.17 40.09 L508.53 40.09 L507.88 40.09 L507.24 40.09 L506.59 40.09 L505.95 40.09 L505.31 40.09 L504.67 40.09 L504.03 40.09 L503.4 40.09 L502.76 40.09 L502.13 40.09 L501.5 40.09 L500.87 40.1 L500.24 40.1 L499.61 40.1 L498.98 40.1 L498.36 40.1 L497.73 40.1 L497.11 40.1 L496.49 40.1 L495.87 40.1 L495.25 40.1 L494.63 40.1 L494.01 40.1 L493.39 40.11 L492.78 40.11 L492.16 40.11 L491.55 40.11 L490.94 40.11 L490.33 40.11 L489.72 40.12 L489.11 40.12 L488.5 40.12 L487.9 40.12 L487.29 40.13 L486.69 40.13 L486.08 40.13 L485.48 40.13 L484.88 40.14 L484.28 40.14 L483.68 40.14 L483.08 40.15 L482.48 40.15 L481.88 40.16 L481.29 40.16 L480.69 40.16 L480.1 40.17 L479.5 40.17 L478.91 40.18 L478.32 40.19 L477.73 40.19 L477.14 40.2 L476.55 40.21 L475.96 40.21 L475.37 40.22 L474.79 40.23 L474.2 40.24 L473.62 40.25 L473.03 40.25 L472.45 40.26 L471.86 40.27 L471.28 40.28 L470.7 40.3 L470.12 40.31 L469.54 40.32 L468.96 40.33 L468.38 40.35 L467.8 40.36 L467.22 40.37 L466.64 40.39 L466.07 40.41 L465.49 40.42 L464.92 40.44 L464.34 40.46 L463.77 40.48 L463.19 40.5 L462.62 40.52 L462.05 40.54 L461.47 40.56 L460.9 40.59 L460.33 40.61 L459.76 40.64 L459.19 40.66 L458.62 40.69 L458.05 40.72 L457.48 40.75 L456.91 40.78 L456.35 40.82 L455.78 40.85 L455.21 40.89 L454.65 40.92 L454.08 40.96 L453.51 41 L452.95 41.04 L452.39 41.09 L451.82 41.13 L451.26 41.18 L450.69 41.23 L450.13 41.28 L449.57 41.33 L449.01 41.38 L448.45 41.44 L447.88 41.5 L447.32 41.56 L446.76 41.62 L446.2 41.68 L445.64 41.75 L445.09 41.82 L444.53 41.89 L443.97 41.96 L443.41 42.04 L442.85 42.12 L442.3 42.2 L441.74 42.28 L441.19 42.37 L440.63 42.46 L440.08 42.55 L439.52 42.64 L438.97 42.74 L438.42 42.84 L437.86 42.94 L437.31 43.05 L436.76 43.16 L436.21 43.27 L435.66 43.39 L435.11 43.51 L434.56 43.63 L434.01 43.75 L433.47 43.88 L432.92 44.01 L432.37 44.15 L431.83 44.29 L431.28 44.43 L430.74 44.58 L430.2 44.73 L429.65 44.88 L429.11 45.04 L428.57 45.2 L428.03 45.36 L427.49 45.53 L426.96 45.7 L426.42 45.87 L425.88 46.05 L425.35 46.23 L424.81 46.42 L424.28 46.61 L423.75 46.8 L423.22 47 L422.69 47.2 L422.16 47.4 L421.64 47.61 L421.11 47.82 L420.59 48.03 L420.06 48.25 L419.54 48.47 L419.02 48.7 L418.5 48.92" stroke="#FFC000" stroke-width="2.3" stroke-dasharray="19.76 7.41 2.47 7.41 2.47 7.41" stroke-dashoffset="34.07"/>
<path d="M612.57 225.5 L612.78 225.05 L613 224.59 L613.2 224.14 L613.4 223.68 L613.6 223.22 L613.79 222.77 L613.98 222.31 L614.16 221.85 L614.34 221.39 L614.51 220.93 L614.68 220.46 L614.84 220 L615 219.54 L615.15 219.07 L615.3 218.61 L615.44 218.14 L615.58 217.68 L615.72 217.21 L615.85 216.74 L615.97 216.28 L616.1 215.81 L616.21 215.34 L616.33 214.87 L616.44 214.4 L616.54 213.93 L616.65 213.46 L616.75 212.99 L616.84 212.52 L616.93 212.05 L617.02 211.58 L617.11 211.1 L617.19 210.63 L617.27 210.16 L617.34 209.68 L617.42 209.21 L617.49 208.74 L617.55 208.26 L617.62 207.79 L617.68 207.31 L617.74 206.84 L617.8 206.36 L617.85 205.89 L617.91 205.41 L617.96 204.93 L618.01 204.46 L618.05 203.98 L618.1 203.5 L618.14 203.02 L618.18 202.55 L618.22 202.07 L618.26 201.59 L618.3 201.11 L618.33 200.63 L618.36 200.15 L618.4 199.67 L618.43 199.19 L618.46 198.71 L618.48 198.23 L618.51 197.75 L618.54 197.26 L618.56 196.78 L618.58 196.3 L618.61 195.82 L618.63 195.33 L618.65 194.85 L618.67 194.37 L618.69 193.88 L618.71 193.4 L618.73 192.91 L618.74 192.42 L618.76 191.94 L618.78 191.45 L618.79 190.96 L618.81 190.48 L618.82 189.99 L618.83 189.5 L618.85 189.01 L618.86 188.52 L618.87 188.03 L618.88 187.54 L618.9 187.05 L618.91 186.56 L618.92 186.07 L618.93 185.57 L618.94 185.08 L618.95 184.59 L618.96 184.09 L618.97 183.6 L618.98 183.1 L618.98 182.6 L618.99 182.11 L619 181.61 L619.01 181.11 L619.02 180.61 L619.02 180.11 L619.03 179.61 L619.04 179.11 L619.05 178.61 L619.05 178.11 L619.06 177.61 L619.07 177.1 L619.07 176.6 L619.08 176.09 L619.09 175.59 L619.09 175.08 L619.1 174.57 L619.1 174.07 L619.11 173.56 L619.12 173.05 L619.12 172.54 L619.13 172.03 L619.13 171.51 L619.14 171 L619.15 170.49 L619.15 169.97 L619.16 169.46 L619.16 168.94 L619.17 168.43 L619.17 167.91 L619.18 167.39 L619.18 166.87 L619.19 166.35 L619.19 165.83 L619.2 165.3 L619.2 164.78 L619.21 164.26 L619.22 163.73 L619.22 163.21 L619.23 162.68 L619.23 162.15 L619.24 161.62 L619.24 161.09 L619.25 160.56 L619.25 160.03 L619.26 159.49 L619.26 158.96 L619.27 158.42 L619.27 157.89 L619.28 157.35 L619.28 156.81 L619.29 156.27 L619.29 155.73 L619.3 155.19 L619.3 154.65 L619.31 154.1 L619.31 153.56 L619.32 153.01 L619.32 152.46 L619.33 151.91 L619.33 151.36 L619.34 150.81 L619.34 150.26 L619.35 149.7 L619.35 149.15 L619.36 148.59 L619.36 148.03 L619.37 147.47 L619.38 146.91 L619.38 146.35 L619.39 145.79 L619.39 145.23 L619.4 144.66 L619.4 144.09 L619.41 143.52 L619.41 142.95 L619.42 142.38 L619.42 141.81 L619.43 141.24 L619.43 140.66 L619.44 140.08 L619.44 139.51 L619.45 138.93 L619.45 138.34 L619.46 137.76 L619.47 137.18 L619.47 136.59 L619.48 136 L619.48 135.41 L619.49 134.82 L619.49 134.23 L619.5 133.64 L619.5 133.04 L619.51 132.44 L619.51 131.84 L619.52 131.24 L619.53 130.64 L619.53 130.04 L619.54 129.43 L619.54 128.82 L619.55 128.21 L619.55 127.6 L619.56 126.99 L619.57 126.38 L619.57 125.76 L619.58 125.14 L619.58 124.52 L619.59 123.9 L619.59 123.28 L619.6 122.65 L619.61 122.02 L619.61 121.39 L619.62 120.76 L619.62 120.13 L619.63 119.49 L619.63 118.86 L619.64 118.22 L619.65 117.57 L619.65 116.93 L619.66 116.28 L619.66 115.64 L619.67 114.99 L619.68 114.34 L619.68 113.68 L619.69 113.02 L619.69 112.37 L619.7 111.71 L619.71 111.04 L619.71 110.38 L619.72 109.71 L619.72 109.04 L619.73 108.37 L619.73 107.69 L619.74 107.02 L619.75 106.34 L619.75 105.66 L619.76 104.97 L619.76 104.29 L619.77 103.6 L619.77 102.91 L619.78 102.21 L619.79 101.52 L619.79 100.82 L619.8 100.12 L619.8 99.41 L619.81 98.71 L619.81 98 L619.82 97.29 L619.82 96.57 L619.83 95.86 L619.83 95.14 L619.83 94.42 L619.84 93.69 L619.84 92.97 L619.84 92.24 L619.85 91.5 L619.85 90.77 L619.85 90.03 L619.85 89.29 L619.85 88.55 L619.85 87.8 L619.85 87.06 L619.85 86.3 L619.85 85.55 L619.85 84.8 L619.85 84.04 L619.84 83.28 L619.84 82.52 L619.83 81.75 L619.82 80.98 L619.81 80.21 L619.8 79.44 L619.79 78.67 L619.78 77.89 L619.76 77.12 L619.74 76.34 L619.72 75.56 L619.69 74.78 L619.67 73.99 L619.64 73.21 L619.6 72.43 L619.56 71.64 L619.52 70.86 L619.47 70.08 L619.42 69.29 L619.36 68.51 L619.3 67.73 L619.23 66.95 L619.15 66.18 L619.06 65.4 L618.97 64.63 L618.87 63.87 L618.76 63.1 L618.63 62.35 L618.5 61.6 L618.35 60.86 L618.19 60.12 L618.02 59.39 L617.84 58.67 L617.63 57.97 L617.42 57.27 L617.18 56.59 L616.93 55.91 L616.66 55.26 L616.37 54.61 L616.06 53.98 L615.73 53.37 L615.37 52.78 L615 52.2 L614.6 51.64 L614.18 51.1 L613.74 50.58 L613.28 50.09 L612.79 49.61 L612.28 49.15 L611.74 48.71 L611.18 48.3 L610.6 47.9 L610 47.53 L609.38 47.17 L608.74 46.84 L608.08 46.52 L607.4 46.23 L606.7 45.95 L605.99 45.69 L605.26 45.45 L604.51 45.22 L603.75 45.01 L602.98 44.81 L602.2 44.63 L601.41 44.46 L600.6 44.31 L599.79 44.16 L598.97 44.03 L598.14 43.91 L597.31 43.79 L596.46 43.69 L595.62 43.59 L594.77 43.5 L593.92 43.42 L593.06 43.35 L592.2 43.28 L591.34 43.22 L590.48 43.16 L589.62 43.11 L588.75 43.06 L587.89 43.02 L587.03 42.98 L586.16 42.94 L585.3 42.91 L584.44 42.88 L583.58 42.85 L582.72 42.82 L581.86 42.8 L581 42.78 L580.15 42.76 L579.29 42.74 L578.44 42.72 L577.6 42.71 L576.75 42.69 L575.91 42.68 L575.06 42.67 L574.22 42.66 L573.39 42.65 L572.55 42.64 L571.72 42.63 L570.89 42.62 L570.07 42.62 L569.24 42.61 L568.42 42.61 L567.61 42.6 L566.79 42.59 L565.98 42.59 L565.17 42.59 L564.36 42.58 L563.56 42.58 L562.76 42.57 L561.96 42.57 L561.16 42.57 L560.37 42.56 L559.58 42.56 L558.79 42.56 L558 42.56 L557.22 42.55 L556.44 42.55 L555.66 42.55 L554.89 42.55 L554.12 42.55 L553.35 42.54 L552.58 42.54 L551.82 42.54 L551.06 42.54 L550.3 42.54 L549.54 42.54 L548.79 42.53 L548.04 42.53 L547.29 42.53 L546.54 42.53 L545.79 42.53 L545.05 42.53 L544.31 42.53 L543.58 42.53 L542.84 42.52 L542.11 42.52 L541.38 42.52 L540.65 42.52 L539.92 42.52 L539.2 42.52 L538.48 42.52 L537.76 42.52 L537.04 42.51 L536.33 42.51 L535.61 42.51 L534.9 42.51 L534.2 42.51 L533.49 42.51 L532.78 42.51 L532.08 42.51 L531.38 42.51 L530.68 42.51 L529.99 42.5 L529.29 42.5 L528.6 42.5 L527.91 42.5 L527.22 42.5 L526.53 42.5 L525.85 42.5 L525.17 42.5 L524.49 42.5 L523.81 42.5 L523.13 42.49 L522.45 42.49 L521.78 42.49 L521.11 42.49 L520.44 42.49 L519.77 42.49 L519.1 42.49 L518.44 42.49 L517.77 42.49 L517.11 42.49 L516.45 42.48 L515.79 42.48 L515.13 42.48 L514.48 42.48 L513.82 42.48 L513.17 42.48 L512.52 42.48 L511.87 42.48 L511.23 42.48 L510.58 42.48 L509.93 42.48 L509.29 42.47 L508.65 42.47 L508.01 42.47 L507.37 42.47 L506.73 42.47 L506.1 42.47 L505.46 42.47 L504.83 42.47 L504.2 42.47 L503.57 42.47 L502.94 42.47 L502.31 42.46 L501.69 42.46 L501.06 42.46 L500.44 42.46 L499.82 42.46 L499.2 42.46 L498.58 42.46 L497.96 42.46 L497.34 42.46 L496.72 42.46 L496.11 42.46 L495.5 42.46 L494.88 42.46 L494.27 42.45 L493.66 42.45 L493.05 42.45 L492.45 42.45 L491.84 42.45 L491.23 42.45 L490.63 42.45 L490.03 42.45 L489.42 42.45 L488.82 42.45 L488.22 42.45 L487.62 42.45 L487.03 42.45 L486.43 42.45 L485.83 42.45 L485.24 42.45 L484.64 42.45 L484.05 42.45 L483.46 42.45 L482.87 42.45 L482.28 42.45 L481.69 42.45 L481.1 42.45 L480.51 42.45 L479.93 42.45 L479.34 42.45 L478.76 42.45 L478.17 42.45 L477.59 42.45 L477.01 42.45 L476.43 42.45 L475.85 42.45 L475.27 42.45 L474.69 42.45 L474.11 42.46 L473.53 42.46 L472.96 42.46 L472.38 42.46 L471.81 42.46 L471.23 42.46 L470.66 42.47 L470.09 42.47 L469.51 42.47 L468.94 42.47 L468.37 42.48 L467.8 42.48 L467.23 42.49 L466.66 42.49 L466.1 42.49 L465.53 42.5 L464.96 42.5 L464.4 42.51 L463.83 42.51 L463.27 42.52 L462.7 42.53 L462.14 42.53 L461.57 42.54 L461.01 42.55 L460.45 42.56 L459.89 42.57 L459.33 42.57 L458.77 42.58 L458.21 42.6 L457.65 42.61 L457.09 42.62 L456.53 42.63 L455.97 42.64 L455.41 42.66 L454.86 42.67 L454.3 42.69 L453.74 42.71 L453.19 42.72 L452.63 42.74 L452.08 42.76 L451.52 42.78 L450.97 42.8 L450.41 42.83 L449.86 42.85 L449.31 42.88 L448.75 42.91 L448.2 42.93 L447.65 42.96 L447.1 42.99 L446.55 43.03 L446 43.06 L445.44 43.1 L444.89 43.14 L444.34 43.18 L443.79 43.22 L443.24 43.26 L442.7 43.31 L442.15 43.36 L441.6 43.41 L441.05 43.46 L440.5 43.52 L439.95 43.58 L439.41 43.64 L438.86 43.7 L438.31 43.77 L437.77 43.84 L437.22 43.91 L436.68 43.98 L436.13 44.06 L435.59 44.14 L435.04 44.23 L434.5 44.32 L433.96 44.41 L433.41 44.51 L432.87 44.6 L432.33 44.71 L431.79 44.81 L431.25 44.93 L430.71 45.04 L430.17 45.16 L429.63 45.28 L429.09 45.41 L428.55 45.54 L428.02 45.68 L427.48 45.82 L426.94 45.96 L426.41 46.11 L425.87 46.27 L425.34 46.43 L424.81 46.59 L424.28 46.76 L423.75 46.93 L423.22 47.11 L422.69 47.29 L422.16 47.48 L421.63 47.67 L421.11 47.87 L420.58 48.07 L420.06 48.28 L419.54 48.49 L419.02 48.7 L418.5 48.92" stroke="#7030A0" stroke-width="2.3" stroke-dasharray="7.41 2.47" stroke-dashoffset="1.94"/>
<path d="M612.57 225.5 L612.8 225.05 L613.02 224.59 L613.23 224.14 L613.44 223.68 L613.64 223.22 L613.84 222.77 L614.03 222.31 L614.22 221.85 L614.4 221.39 L614.57 220.92 L614.74 220.46 L614.91 220 L615.06 219.54 L615.22 219.07 L615.36 218.61 L615.5 218.14 L615.64 217.68 L615.77 217.21 L615.9 216.74 L616.02 216.27 L616.14 215.81 L616.25 215.34 L616.36 214.87 L616.46 214.4 L616.56 213.93 L616.65 213.46 L616.75 212.99 L616.83 212.52 L616.92 212.05 L617 211.58 L617.07 211.11 L617.15 210.63 L617.22 210.16 L617.28 209.69 L617.35 209.22 L617.41 208.74 L617.47 208.27 L617.53 207.8 L617.58 207.32 L617.63 206.85 L617.68 206.37 L617.73 205.9 L617.77 205.42 L617.81 204.95 L617.85 204.47 L617.89 204 L617.93 203.52 L617.96 203.04 L618 202.57 L618.03 202.09 L618.06 201.61 L618.09 201.13 L618.12 200.66 L618.15 200.18 L618.17 199.7 L618.2 199.22 L618.22 198.74 L618.24 198.26 L618.26 197.78 L618.28 197.3 L618.3 196.82 L618.32 196.34 L618.34 195.86 L618.36 195.37 L618.37 194.89 L618.39 194.41 L618.4 193.93 L618.42 193.44 L618.43 192.96 L618.45 192.47 L618.46 191.99 L618.47 191.5 L618.48 191.02 L618.49 190.53 L618.5 190.04 L618.51 189.56 L618.53 189.07 L618.53 188.58 L618.54 188.09 L618.55 187.6 L618.56 187.11 L618.57 186.62 L618.58 186.13 L618.59 185.64 L618.59 185.15 L618.6 184.66 L618.61 184.16 L618.62 183.67 L618.62 183.17 L618.63 182.68 L618.64 182.18 L618.64 181.69 L618.65 181.19 L618.66 180.69 L618.66 180.2 L618.67 179.7 L618.67 179.2 L618.68 178.7 L618.68 178.2 L618.69 177.69 L618.69 177.19 L618.7 176.69 L618.7 176.19 L618.71 175.68 L618.71 175.18 L618.72 174.67 L618.72 174.16 L618.73 173.66 L618.73 173.15 L618.74 172.64 L618.74 172.13 L618.75 171.62 L618.75 171.11 L618.76 170.59 L618.76 170.08 L618.77 169.57 L618.77 169.05 L618.77 168.54 L618.78 168.02 L618.78 167.5 L618.79 166.98 L618.79 166.47 L618.8 165.95 L618.8 165.42 L618.81 164.9 L618.81 164.38 L618.81 163.86 L618.82 163.33 L618.82 162.8 L618.83 162.28 L618.83 161.75 L618.83 161.22 L618.84 160.69 L618.84 160.16 L618.85 159.63 L618.85 159.1 L618.86 158.56 L618.86 158.03 L618.86 157.49 L618.87 156.95 L618.87 156.41 L618.88 155.88 L618.88 155.33 L618.88 154.79 L618.89 154.25 L618.89 153.71 L618.9 153.16 L618.9 152.61 L618.91 152.07 L618.91 151.52 L618.91 150.97 L618.92 150.42 L618.92 149.86 L618.93 149.31 L618.93 148.76 L618.94 148.2 L618.94 147.64 L618.94 147.08 L618.95 146.52 L618.95 145.96 L618.96 145.4 L618.96 144.83 L618.97 144.27 L618.97 143.7 L618.97 143.13 L618.98 142.56 L618.98 141.99 L618.99 141.42 L618.99 140.85 L619 140.27 L619 139.69 L619.01 139.12 L619.01 138.54 L619.01 137.96 L619.02 137.37 L619.02 136.79 L619.03 136.2 L619.03 135.61 L619.04 135.03 L619.04 134.44 L619.05 133.84 L619.05 133.25 L619.05 132.65 L619.06 132.06 L619.06 131.46 L619.07 130.86 L619.07 130.26 L619.08 129.65 L619.08 129.05 L619.09 128.44 L619.09 127.83 L619.1 127.22 L619.1 126.61 L619.11 125.99 L619.11 125.37 L619.11 124.76 L619.12 124.14 L619.12 123.52 L619.13 122.89 L619.13 122.27 L619.14 121.64 L619.14 121.01 L619.15 120.38 L619.15 119.74 L619.16 119.11 L619.16 118.47 L619.17 117.83 L619.17 117.19 L619.18 116.55 L619.18 115.9 L619.19 115.25 L619.19 114.6 L619.2 113.95 L619.2 113.3 L619.21 112.64 L619.21 111.98 L619.22 111.32 L619.22 110.66 L619.23 109.99 L619.23 109.33 L619.23 108.66 L619.24 107.98 L619.24 107.31 L619.25 106.63 L619.25 105.95 L619.26 105.27 L619.26 104.59 L619.27 103.9 L619.27 103.21 L619.28 102.52 L619.28 101.83 L619.29 101.13 L619.29 100.43 L619.3 99.73 L619.3 99.02 L619.31 98.32 L619.31 97.61 L619.32 96.9 L619.32 96.18 L619.33 95.46 L619.33 94.74 L619.33 94.02 L619.34 93.3 L619.34 92.57 L619.34 91.84 L619.35 91.11 L619.35 90.37 L619.35 89.63 L619.35 88.89 L619.35 88.15 L619.35 87.4 L619.36 86.65 L619.36 85.9 L619.35 85.14 L619.35 84.39 L619.35 83.63 L619.35 82.86 L619.34 82.1 L619.34 81.33 L619.33 80.56 L619.33 79.79 L619.32 79.01 L619.31 78.24 L619.3 77.46 L619.28 76.68 L619.27 75.89 L619.25 75.11 L619.23 74.32 L619.21 73.54 L619.18 72.75 L619.15 71.96 L619.12 71.17 L619.08 70.38 L619.04 69.59 L619 68.8 L618.94 68.01 L618.89 67.22 L618.83 66.43 L618.76 65.65 L618.68 64.87 L618.59 64.09 L618.5 63.31 L618.39 62.54 L618.28 61.78 L618.15 61.02 L618.02 60.27 L617.86 59.52 L617.7 58.79 L617.52 58.07 L617.32 57.35 L617.1 56.65 L616.87 55.96 L616.62 55.29 L616.34 54.64 L616.04 54 L615.72 53.37 L615.38 52.77 L615.01 52.19 L614.62 51.63 L614.2 51.09 L613.75 50.58 L613.28 50.08 L612.78 49.61 L612.26 49.17 L611.7 48.75 L611.13 48.35 L610.53 47.97 L609.9 47.62 L609.26 47.29 L608.59 46.98 L607.9 46.69 L607.19 46.43 L606.46 46.18 L605.72 45.95 L604.96 45.73 L604.18 45.54 L603.4 45.36 L602.6 45.19 L601.79 45.03 L600.97 44.89 L600.14 44.76 L599.31 44.64 L598.47 44.53 L597.62 44.43 L596.77 44.34 L595.91 44.26 L595.05 44.18 L594.18 44.11 L593.32 44.04 L592.45 43.99 L591.58 43.93 L590.71 43.88 L589.84 43.84 L588.97 43.8 L588.1 43.76 L587.23 43.73 L586.36 43.69 L585.5 43.67 L584.63 43.64 L583.77 43.62 L582.9 43.59 L582.04 43.57 L581.18 43.56 L580.32 43.54 L579.47 43.52 L578.62 43.51 L577.77 43.5 L576.92 43.48 L576.07 43.47 L575.23 43.46 L574.39 43.45 L573.55 43.45 L572.72 43.44 L571.89 43.43 L571.06 43.42 L570.23 43.42 L569.41 43.41 L568.59 43.41 L567.77 43.4 L566.96 43.4 L566.14 43.39 L565.33 43.39 L564.53 43.38 L563.72 43.38 L562.92 43.38 L562.13 43.37 L561.33 43.37 L560.54 43.37 L559.75 43.36 L558.96 43.36 L558.18 43.36 L557.4 43.36 L556.62 43.35 L555.84 43.35 L555.07 43.35 L554.3 43.35 L553.53 43.34 L552.76 43.34 L552 43.34 L551.24 43.34 L550.48 43.34 L549.72 43.34 L548.97 43.34 L548.22 43.33 L547.47 43.33 L546.72 43.33 L545.98 43.33 L545.24 43.33 L544.5 43.33 L543.76 43.33 L543.03 43.33 L542.3 43.32 L541.57 43.32 L540.84 43.32 L540.11 43.32 L539.39 43.32 L538.67 43.32 L537.95 43.32 L537.24 43.32 L536.52 43.32 L535.81 43.31 L535.1 43.31 L534.39 43.31 L533.69 43.31 L532.99 43.31 L532.28 43.31 L531.58 43.31 L530.89 43.31 L530.19 43.31 L529.5 43.31 L528.81 43.3 L528.12 43.3 L527.43 43.3 L526.74 43.3 L526.06 43.3 L525.38 43.3 L524.7 43.3 L524.02 43.3 L523.34 43.3 L522.67 43.3 L522 43.3 L521.33 43.29 L520.66 43.29 L519.99 43.29 L519.32 43.29 L518.66 43.29 L518 43.29 L517.34 43.29 L516.68 43.29 L516.02 43.29 L515.36 43.29 L514.71 43.28 L514.06 43.28 L513.41 43.28 L512.76 43.28 L512.11 43.28 L511.46 43.28 L510.82 43.28 L510.18 43.28 L509.53 43.28 L508.89 43.28 L508.25 43.28 L507.62 43.28 L506.98 43.27 L506.35 43.27 L505.71 43.27 L505.08 43.27 L504.45 43.27 L503.82 43.27 L503.2 43.27 L502.57 43.27 L501.95 43.27 L501.32 43.27 L500.7 43.27 L500.08 43.26 L499.46 43.26 L498.84 43.26 L498.22 43.26 L497.61 43.26 L496.99 43.26 L496.38 43.26 L495.77 43.26 L495.16 43.26 L494.55 43.26 L493.94 43.26 L493.33 43.26 L492.73 43.26 L492.12 43.26 L491.52 43.25 L490.91 43.25 L490.31 43.25 L489.71 43.25 L489.11 43.25 L488.51 43.25 L487.92 43.25 L487.32 43.25 L486.73 43.25 L486.13 43.25 L485.54 43.25 L484.95 43.25 L484.35 43.25 L483.76 43.25 L483.17 43.25 L482.59 43.25 L482 43.25 L481.41 43.25 L480.83 43.25 L480.24 43.25 L479.66 43.25 L479.08 43.25 L478.49 43.25 L477.91 43.25 L477.33 43.25 L476.75 43.25 L476.17 43.25 L475.6 43.25 L475.02 43.25 L474.44 43.25 L473.87 43.25 L473.29 43.25 L472.72 43.25 L472.15 43.25 L471.58 43.25 L471 43.26 L470.43 43.26 L469.86 43.26 L469.29 43.26 L468.73 43.26 L468.16 43.26 L467.59 43.27 L467.02 43.27 L466.46 43.27 L465.89 43.27 L465.33 43.28 L464.76 43.28 L464.2 43.29 L463.64 43.29 L463.08 43.29 L462.52 43.3 L461.95 43.3 L461.39 43.31 L460.83 43.31 L460.28 43.32 L459.72 43.33 L459.16 43.33 L458.6 43.34 L458.04 43.35 L457.49 43.36 L456.93 43.36 L456.38 43.37 L455.82 43.38 L455.27 43.39 L454.71 43.4 L454.16 43.42 L453.6 43.43 L453.05 43.44 L452.5 43.46 L451.95 43.47 L451.4 43.49 L450.84 43.5 L450.29 43.52 L449.74 43.54 L449.19 43.56 L448.64 43.58 L448.09 43.6 L447.54 43.62 L447 43.65 L446.45 43.67 L445.9 43.7 L445.35 43.73 L444.8 43.76 L444.26 43.79 L443.71 43.82 L443.16 43.86 L442.62 43.89 L442.07 43.93 L441.53 43.97 L440.98 44.02 L440.44 44.06 L439.89 44.11 L439.35 44.16 L438.8 44.21 L438.26 44.26 L437.72 44.32 L437.17 44.38 L436.63 44.44 L436.09 44.5 L435.55 44.57 L435.01 44.64 L434.46 44.72 L433.92 44.79 L433.38 44.88 L432.84 44.96 L432.3 45.05 L431.76 45.14 L431.23 45.23 L430.69 45.33 L430.15 45.44 L429.61 45.55 L429.08 45.66 L428.54 45.77 L428 45.89 L427.47 46.02 L426.93 46.15 L426.4 46.28 L425.87 46.42 L425.34 46.57 L424.8 46.72 L424.27 46.87 L423.74 47.03 L423.21 47.2 L422.69 47.37 L422.16 47.54 L421.63 47.73 L421.11 47.91 L420.58 48.1 L420.06 48.3 L419.54 48.5 L419.02 48.71 L418.5 48.92" stroke="#ED7D31" stroke-width="2.3" stroke-dasharray="19.76 7.41 2.47 7.41" stroke-dashoffset="8.08"/>
<path d="M612.57 225.5 L612.82 225.05 L613.06 224.59 L613.29 224.14 L613.52 223.68 L613.73 223.22 L613.94 222.76 L614.15 222.3 L614.34 221.84 L614.53 221.38 L614.71 220.92 L614.88 220.46 L615.04 220 L615.2 219.53 L615.35 219.07 L615.49 218.6 L615.63 218.14 L615.76 217.67 L615.89 217.2 L616 216.74 L616.11 216.27 L616.22 215.8 L616.32 215.33 L616.42 214.87 L616.51 214.4 L616.59 213.93 L616.67 213.46 L616.75 212.99 L616.82 212.52 L616.88 212.05 L616.95 211.58 L617.01 211.11 L617.06 210.64 L617.12 210.17 L617.16 209.7 L617.21 209.23 L617.25 208.76 L617.3 208.28 L617.33 207.81 L617.37 207.34 L617.4 206.87 L617.44 206.4 L617.47 205.92 L617.49 205.45 L617.52 204.98 L617.54 204.5 L617.57 204.03 L617.59 203.56 L617.61 203.08 L617.63 202.61 L617.64 202.13 L617.66 201.66 L617.68 201.18 L617.69 200.71 L617.7 200.23 L617.72 199.76 L617.73 199.28 L617.74 198.8 L617.75 198.33 L617.76 197.85 L617.77 197.37 L617.78 196.89 L617.79 196.42 L617.8 195.94 L617.8 195.46 L617.81 194.98 L617.82 194.5 L617.82 194.02 L617.83 193.54 L617.83 193.06 L617.84 192.57 L617.84 192.09 L617.85 191.61 L617.85 191.13 L617.86 190.64 L617.86 190.16 L617.87 189.67 L617.87 189.19 L617.87 188.7 L617.88 188.22 L617.88 187.73 L617.89 187.24 L617.89 186.76 L617.89 186.27 L617.89 185.78 L617.9 185.29 L617.9 184.8 L617.9 184.31 L617.91 183.82 L617.91 183.33 L617.91 182.83 L617.91 182.34 L617.92 181.85 L617.92 181.35 L617.92 180.86 L617.92 180.36 L617.93 179.87 L617.93 179.37 L617.93 178.87 L617.93 178.37 L617.94 177.87 L617.94 177.37 L617.94 176.87 L617.94 176.37 L617.95 175.87 L617.95 175.37 L617.95 174.87 L617.95 174.36 L617.96 173.86 L617.96 173.35 L617.96 172.84 L617.96 172.34 L617.96 171.83 L617.97 171.32 L617.97 170.81 L617.97 170.3 L617.97 169.79 L617.98 169.28 L617.98 168.76 L617.98 168.25 L617.98 167.74 L617.98 167.22 L617.99 166.7 L617.99 166.19 L617.99 165.67 L617.99 165.15 L618 164.63 L618 164.11 L618 163.58 L618 163.06 L618 162.54 L618.01 162.01 L618.01 161.49 L618.01 160.96 L618.01 160.43 L618.02 159.9 L618.02 159.37 L618.02 158.84 L618.02 158.31 L618.02 157.78 L618.03 157.24 L618.03 156.71 L618.03 156.17 L618.03 155.63 L618.04 155.09 L618.04 154.55 L618.04 154.01 L618.04 153.47 L618.05 152.93 L618.05 152.38 L618.05 151.84 L618.05 151.29 L618.05 150.74 L618.06 150.19 L618.06 149.64 L618.06 149.09 L618.06 148.54 L618.07 147.98 L618.07 147.43 L618.07 146.87 L618.07 146.31 L618.08 145.75 L618.08 145.19 L618.08 144.63 L618.08 144.06 L618.09 143.5 L618.09 142.93 L618.09 142.37 L618.09 141.8 L618.1 141.23 L618.1 140.65 L618.1 140.08 L618.1 139.51 L618.11 138.93 L618.11 138.35 L618.11 137.77 L618.11 137.19 L618.12 136.61 L618.12 136.02 L618.12 135.44 L618.12 134.85 L618.13 134.26 L618.13 133.67 L618.13 133.08 L618.13 132.49 L618.14 131.89 L618.14 131.3 L618.14 130.7 L618.14 130.1 L618.15 129.5 L618.15 128.89 L618.15 128.29 L618.15 127.68 L618.16 127.07 L618.16 126.46 L618.16 125.85 L618.16 125.23 L618.17 124.62 L618.17 124 L618.17 123.38 L618.17 122.76 L618.18 122.14 L618.18 121.51 L618.18 120.88 L618.19 120.25 L618.19 119.62 L618.19 118.99 L618.19 118.35 L618.2 117.72 L618.2 117.08 L618.2 116.44 L618.2 115.79 L618.21 115.15 L618.21 114.5 L618.21 113.85 L618.22 113.2 L618.22 112.54 L618.22 111.89 L618.22 111.23 L618.23 110.57 L618.23 109.9 L618.23 109.24 L618.23 108.57 L618.24 107.9 L618.24 107.23 L618.24 106.55 L618.25 105.88 L618.25 105.2 L618.25 104.52 L618.25 103.83 L618.26 103.15 L618.26 102.46 L618.26 101.76 L618.27 101.07 L618.27 100.37 L618.27 99.67 L618.28 98.97 L618.28 98.27 L618.28 97.56 L618.28 96.85 L618.29 96.14 L618.29 95.42 L618.29 94.7 L618.3 93.98 L618.3 93.26 L618.3 92.53 L618.3 91.8 L618.31 91.07 L618.31 90.34 L618.31 89.6 L618.31 88.86 L618.32 88.11 L618.32 87.37 L618.32 86.62 L618.32 85.86 L618.32 85.11 L618.32 84.35 L618.33 83.59 L618.33 82.82 L618.33 82.06 L618.33 81.29 L618.33 80.51 L618.33 79.74 L618.33 78.96 L618.32 78.17 L618.32 77.39 L618.32 76.6 L618.31 75.81 L618.31 75.02 L618.3 74.22 L618.29 73.43 L618.28 72.63 L618.27 71.82 L618.25 71.02 L618.24 70.21 L618.22 69.41 L618.19 68.6 L618.16 67.79 L618.13 66.98 L618.1 66.17 L618.05 65.37 L618.01 64.56 L617.95 63.76 L617.89 62.96 L617.81 62.16 L617.73 61.37 L617.63 60.58 L617.53 59.81 L617.4 59.04 L617.27 58.28 L617.11 57.53 L616.94 56.79 L616.74 56.07 L616.52 55.37 L616.28 54.69 L616.01 54.02 L615.72 53.38 L615.39 52.76 L615.04 52.17 L614.65 51.6 L614.23 51.06 L613.77 50.56 L613.29 50.08 L612.77 49.63 L612.21 49.21 L611.62 48.82 L611.01 48.46 L610.36 48.13 L609.68 47.83 L608.98 47.55 L608.25 47.3 L607.5 47.07 L606.72 46.87 L605.93 46.68 L605.12 46.52 L604.3 46.37 L603.46 46.24 L602.61 46.12 L601.75 46.02 L600.88 45.93 L600.01 45.84 L599.13 45.77 L598.24 45.71 L597.35 45.65 L596.46 45.6 L595.57 45.56 L594.67 45.52 L593.77 45.49 L592.88 45.46 L591.98 45.43 L591.09 45.41 L590.19 45.39 L589.3 45.37 L588.41 45.35 L587.52 45.34 L586.64 45.33 L585.75 45.32 L584.87 45.31 L584 45.3 L583.12 45.29 L582.25 45.29 L581.38 45.28 L580.51 45.27 L579.65 45.27 L578.79 45.26 L577.93 45.26 L577.08 45.26 L576.23 45.25 L575.38 45.25 L574.54 45.25 L573.7 45.25 L572.86 45.24 L572.03 45.24 L571.19 45.24 L570.37 45.24 L569.54 45.24 L568.72 45.23 L567.9 45.23 L567.09 45.23 L566.27 45.23 L565.46 45.23 L564.66 45.23 L563.85 45.23 L563.05 45.22 L562.26 45.22 L561.46 45.22 L560.67 45.22 L559.88 45.22 L559.09 45.22 L558.31 45.22 L557.53 45.22 L556.75 45.21 L555.98 45.21 L555.21 45.21 L554.44 45.21 L553.67 45.21 L552.91 45.21 L552.15 45.21 L551.39 45.21 L550.63 45.21 L549.88 45.2 L549.13 45.2 L548.38 45.2 L547.63 45.2 L546.89 45.2 L546.15 45.2 L545.41 45.2 L544.67 45.2 L543.94 45.2 L543.21 45.2 L542.48 45.2 L541.75 45.19 L541.03 45.19 L540.3 45.19 L539.59 45.19 L538.87 45.19 L538.15 45.19 L537.44 45.19 L536.73 45.19 L536.02 45.19 L535.31 45.19 L534.61 45.18 L533.91 45.18 L533.2 45.18 L532.51 45.18 L531.81 45.18 L531.12 45.18 L530.42 45.18 L529.73 45.18 L529.05 45.18 L528.36 45.18 L527.67 45.18 L526.99 45.17 L526.31 45.17 L525.63 45.17 L524.96 45.17 L524.28 45.17 L523.61 45.17 L522.94 45.17 L522.27 45.17 L521.6 45.17 L520.93 45.17 L520.27 45.17 L519.61 45.16 L518.95 45.16 L518.29 45.16 L517.63 45.16 L516.98 45.16 L516.32 45.16 L515.67 45.16 L515.02 45.16 L514.37 45.16 L513.72 45.16 L513.08 45.16 L512.43 45.16 L511.79 45.15 L511.15 45.15 L510.51 45.15 L509.87 45.15 L509.23 45.15 L508.6 45.15 L507.96 45.15 L507.33 45.15 L506.7 45.15 L506.07 45.15 L505.44 45.15 L504.82 45.14 L504.19 45.14 L503.57 45.14 L502.95 45.14 L502.33 45.14 L501.71 45.14 L501.09 45.14 L500.47 45.14 L499.86 45.14 L499.24 45.14 L498.63 45.14 L498.02 45.14 L497.41 45.14 L496.8 45.13 L496.19 45.13 L495.58 45.13 L494.97 45.13 L494.37 45.13 L493.77 45.13 L493.16 45.13 L492.56 45.13 L491.96 45.13 L491.36 45.13 L490.77 45.13 L490.17 45.13 L489.58 45.12 L488.98 45.12 L488.39 45.12 L487.8 45.12 L487.2 45.12 L486.61 45.12 L486.03 45.12 L485.44 45.12 L484.85 45.12 L484.26 45.12 L483.68 45.12 L483.09 45.12 L482.51 45.12 L481.93 45.11 L481.35 45.11 L480.77 45.11 L480.19 45.11 L479.61 45.11 L479.03 45.11 L478.46 45.11 L477.88 45.11 L477.31 45.11 L476.73 45.11 L476.16 45.11 L475.59 45.11 L475.01 45.11 L474.44 45.11 L473.87 45.11 L473.31 45.1 L472.74 45.1 L472.17 45.1 L471.6 45.1 L471.04 45.1 L470.47 45.1 L469.91 45.1 L469.34 45.1 L468.78 45.1 L468.22 45.1 L467.66 45.1 L467.1 45.1 L466.54 45.1 L465.98 45.1 L465.42 45.1 L464.86 45.1 L464.3 45.1 L463.75 45.1 L463.19 45.1 L462.64 45.1 L462.08 45.1 L461.53 45.1 L460.97 45.1 L460.42 45.1 L459.87 45.1 L459.32 45.1 L458.76 45.1 L458.21 45.1 L457.66 45.1 L457.11 45.1 L456.56 45.1 L456.02 45.11 L455.47 45.11 L454.92 45.11 L454.37 45.11 L453.83 45.11 L453.28 45.12 L452.73 45.12 L452.19 45.12 L451.64 45.12 L451.1 45.13 L450.55 45.13 L450.01 45.14 L449.47 45.14 L448.92 45.15 L448.38 45.15 L447.84 45.16 L447.3 45.17 L446.76 45.17 L446.22 45.18 L445.68 45.19 L445.13 45.2 L444.59 45.21 L444.05 45.22 L443.52 45.23 L442.98 45.24 L442.44 45.26 L441.9 45.27 L441.36 45.29 L440.82 45.31 L440.28 45.33 L439.75 45.35 L439.21 45.37 L438.67 45.39 L438.13 45.42 L437.6 45.44 L437.06 45.47 L436.53 45.5 L435.99 45.54 L435.45 45.57 L434.92 45.61 L434.38 45.65 L433.85 45.69 L433.31 45.74 L432.78 45.79 L432.24 45.84 L431.71 45.9 L431.17 45.96 L430.64 46.02 L430.11 46.09 L429.57 46.16 L429.04 46.24 L428.51 46.32 L427.98 46.4 L427.45 46.49 L426.91 46.58 L426.38 46.68 L425.85 46.79 L425.32 46.9 L424.79 47.02 L424.26 47.14 L423.74 47.27 L423.21 47.41 L422.68 47.55 L422.16 47.7 L421.63 47.85 L421.11 48.01 L420.58 48.18 L420.06 48.36 L419.54 48.54 L419.02 48.73 L418.5 48.92" stroke="#000000" stroke-width="2.6"/>
</g>
<rect x="418.5" y="12.5" width="239" height="213" fill="none" stroke="#3a3a3a" stroke-width="1"/>
<path d="M418.5 225.5v-5.2M418.5 225.5h5.2M466.5 225.5v-5.2M418.5 182.5h5.2M514.5 225.5v-5.2M418.5 140.5h5.2M561.5 225.5v-5.2M418.5 97.5h5.2M609.5 225.5v-5.2M418.5 55.5h5.2M657.5 225.5v-5.2M418.5 12.5h5.2" stroke="#3a3a3a" stroke-width="1" fill="none"/>
<text transform="translate(403.5 231.8) scale(1 1.05)" font-size="17" text-anchor="end">0</text>
<text transform="translate(418.5 252.7) scale(1 1.05)" font-size="17" text-anchor="middle">0</text>
<text transform="translate(403.5 189.2) scale(1 1.05)" font-size="17" text-anchor="end">100</text>
<text transform="translate(466.3 252.7) scale(1 1.05)" font-size="17" text-anchor="middle">100</text>
<text transform="translate(403.5 146.6) scale(1 1.05)" font-size="17" text-anchor="end">200</text>
<text transform="translate(514.1 252.7) scale(1 1.05)" font-size="17" text-anchor="middle">200</text>
<text transform="translate(403.5 104) scale(1 1.05)" font-size="17" text-anchor="end">300</text>
<text transform="translate(561.9 252.7) scale(1 1.05)" font-size="17" text-anchor="middle">300</text>
<text transform="translate(403.5 61.4) scale(1 1.05)" font-size="17" text-anchor="end">400</text>
<text transform="translate(609.7 252.7) scale(1 1.05)" font-size="17" text-anchor="middle">400</text>
<text transform="translate(403.5 18.8) scale(1 1.05)" font-size="17" text-anchor="end">500</text>
<text transform="translate(657.5 252.7) scale(1 1.05)" font-size="17" text-anchor="middle">500</text>
<circle cx="417.7" cy="48.9" r="2.75" fill="none" stroke="#FF0000" stroke-width="2.6"/>
<circle cx="520.8" cy="40.1" r="2.75" fill="none" stroke="#FF0000" stroke-width="2.6"/>
<circle cx="613.1" cy="49.9" r="2.75" fill="none" stroke="#FF0000" stroke-width="2.6"/>
<circle cx="623.1" cy="133.5" r="2.75" fill="none" stroke="#FF0000" stroke-width="2.6"/>
<circle cx="624.7" cy="133.5" r="2.75" fill="none" stroke="#FF0000" stroke-width="2.6"/>
<circle cx="612.5" cy="224.7" r="2.75" fill="none" stroke="#FF0000" stroke-width="2.6"/>
<text x="349.4" y="18.5" font-size="20" font-weight="bold">b</text>
<text transform="translate(601.3 31.8) scale(1 1.05)" font-size="17">130°C</text>
<g font-size="18"><text x="506.36" y="274.6" font-style="italic" stroke="#000" stroke-width="0.15">σ</text><text x="514.86" y="277.5" font-size="13" letter-spacing="1.8" stroke="#000" stroke-width="0.25">11</text><text x="533.11" y="274.6" font-size="17.6" letter-spacing="0.25">(MPa)</text></g>
<g font-size="18" transform="translate(363.4 166) rotate(-90)"><text x="-0.54" y="0" font-style="italic" stroke="#000" stroke-width="0.15">σ</text><text x="8.83" y="2.9" font-size="13" letter-spacing="0.7" stroke="#000" stroke-width="0.25">22</text><text x="28.0" y="0" font-size="17.6" letter-spacing="0.25">(MPa)</text></g>
<g transform="translate(345 0.1)">
<circle cx="108" cy="121.4" r="3.7" fill="none" stroke="#FF0000" stroke-width="2.1"/>
<text transform="translate(128 126.5) scale(1 1.05)" font-size="17">Exp.</text>
<text transform="translate(133 145.8) scale(1 1.05)" font-size="17" font-style="italic">m</text>
<path d="M91.7 160.7H123.2" stroke="#0070C0" stroke-width="2.1" stroke-dasharray="8.40 6.30 2.10 6.30"/>
<text transform="translate(140.3 166.5) scale(1 1.05)" font-size="17" text-anchor="middle">6</text>
<path d="M158.7 160.7H191.5" stroke="#7030A0" stroke-width="2.1" stroke-dasharray="6.30 2.10"/>
<text transform="translate(199 166.5) scale(1 1.05)" font-size="17" text-anchor="start">18</text>
<path d="M91.7 179.1H123.2" stroke="#00B050" stroke-width="2.1" stroke-dasharray="8.40 6.30"/>
<text transform="translate(140.3 184.9) scale(1 1.05)" font-size="17" text-anchor="middle">10</text>
<path d="M158.7 179.1H191.5" stroke="#ED7D31" stroke-width="2.1" stroke-dasharray="16.8 6.3 2.1 30"/>
<text transform="translate(199 184.9) scale(1 1.05)" font-size="17" text-anchor="start">24</text>
<path d="M91.7 197.9H123.2" stroke="#FFC000" stroke-width="2.1" stroke-dasharray="16.80 6.30 2.10 6.30 2.10 6.30"/>
<text transform="translate(140.3 203.7) scale(1 1.05)" font-size="17" text-anchor="middle">14</text>
<path d="M158.7 197.9H191.5" stroke="#000000" stroke-width="2.1"/>
<text transform="translate(199 203.7) scale(1 1.05)" font-size="17" text-anchor="start">26</text>
</g>
<g fill="none" stroke-linejoin="round">
<path d="M255.17 511.5 L255.35 511.08 L255.52 510.65 L255.7 510.23 L255.87 509.8 L256.04 509.38 L256.21 508.95 L256.38 508.52 L256.55 508.1 L256.72 507.67 L256.88 507.24 L257.05 506.81 L257.21 506.37 L257.37 505.94 L257.54 505.51 L257.69 505.07 L257.85 504.64 L258.01 504.2 L258.17 503.77 L258.32 503.33 L258.47 502.89 L258.63 502.46 L258.78 502.02 L258.93 501.58 L259.08 501.13 L259.22 500.69 L259.37 500.25 L259.51 499.81 L259.66 499.36 L259.8 498.92 L259.94 498.47 L260.08 498.03 L260.22 497.58 L260.36 497.13 L260.49 496.68 L260.63 496.24 L260.76 495.79 L260.89 495.34 L261.02 494.88 L261.15 494.43 L261.28 493.98 L261.41 493.53 L261.53 493.07 L261.66 492.62 L261.78 492.16 L261.9 491.71 L262.02 491.25 L262.14 490.79 L262.26 490.33 L262.38 489.87 L262.49 489.41 L262.61 488.95 L262.72 488.49 L262.83 488.03 L262.94 487.57 L263.05 487.1 L263.16 486.64 L263.27 486.17 L263.37 485.71 L263.48 485.24 L263.58 484.78 L263.68 484.31 L263.78 483.84 L263.88 483.37 L263.98 482.9 L264.08 482.43 L264.17 481.96 L264.27 481.49 L264.36 481.02 L264.45 480.54 L264.54 480.07 L264.63 479.6 L264.72 479.12 L264.81 478.65 L264.89 478.17 L264.98 477.69 L265.06 477.21 L265.14 476.74 L265.23 476.26 L265.31 475.78 L265.39 475.3 L265.46 474.82 L265.54 474.33 L265.62 473.85 L265.69 473.37 L265.76 472.88 L265.84 472.4 L265.91 471.92 L265.98 471.43 L266.05 470.94 L266.11 470.46 L266.18 469.97 L266.25 469.48 L266.31 468.99 L266.37 468.5 L266.44 468.01 L266.5 467.52 L266.56 467.02 L266.62 466.53 L266.67 466.04 L266.73 465.54 L266.79 465.05 L266.84 464.55 L266.9 464.06 L266.95 463.56 L267 463.06 L267.05 462.56 L267.1 462.06 L267.15 461.56 L267.2 461.06 L267.25 460.56 L267.29 460.06 L267.34 459.56 L267.38 459.05 L267.43 458.55 L267.47 458.04 L267.51 457.54 L267.55 457.03 L267.59 456.52 L267.63 456.01 L267.67 455.5 L267.7 454.99 L267.74 454.48 L267.78 453.97 L267.81 453.46 L267.84 452.95 L267.88 452.43 L267.91 451.92 L267.94 451.4 L267.97 450.89 L268 450.37 L268.03 449.85 L268.05 449.33 L268.08 448.81 L268.11 448.29 L268.13 447.77 L268.16 447.25 L268.18 446.73 L268.2 446.2 L268.22 445.68 L268.24 445.15 L268.26 444.62 L268.28 444.1 L268.3 443.57 L268.32 443.04 L268.34 442.51 L268.35 441.98 L268.37 441.45 L268.38 440.91 L268.4 440.38 L268.41 439.84 L268.42 439.31 L268.44 438.77 L268.45 438.23 L268.46 437.7 L268.47 437.16 L268.47 436.62 L268.48 436.07 L268.49 435.53 L268.5 434.99 L268.5 434.44 L268.51 433.9 L268.51 433.35 L268.51 432.8 L268.52 432.26 L268.52 431.71 L268.52 431.16 L268.52 430.6 L268.52 430.05 L268.52 429.5 L268.51 428.94 L268.51 428.39 L268.51 427.83 L268.5 427.27 L268.5 426.71 L268.49 426.15 L268.49 425.59 L268.48 425.03 L268.47 424.47 L268.46 423.9 L268.45 423.34 L268.44 422.77 L268.43 422.2 L268.41 421.64 L268.4 421.07 L268.39 420.5 L268.37 419.92 L268.35 419.35 L268.34 418.78 L268.32 418.2 L268.3 417.63 L268.28 417.05 L268.26 416.47 L268.24 415.89 L268.22 415.31 L268.19 414.73 L268.17 414.15 L268.14 413.56 L268.11 412.98 L268.09 412.39 L268.06 411.8 L268.03 411.22 L267.99 410.63 L267.96 410.04 L267.93 409.44 L267.89 408.85 L267.86 408.26 L267.82 407.66 L267.78 407.07 L267.74 406.47 L267.7 405.88 L267.66 405.28 L267.61 404.68 L267.57 404.08 L267.52 403.48 L267.47 402.87 L267.42 402.27 L267.37 401.67 L267.32 401.06 L267.26 400.45 L267.21 399.85 L267.15 399.24 L267.09 398.63 L267.03 398.02 L266.97 397.41 L266.9 396.8 L266.84 396.19 L266.77 395.58 L266.7 394.96 L266.62 394.35 L266.55 393.74 L266.47 393.12 L266.39 392.51 L266.31 391.89 L266.23 391.27 L266.14 390.66 L266.06 390.04 L265.97 389.42 L265.87 388.8 L265.78 388.18 L265.68 387.56 L265.58 386.95 L265.48 386.33 L265.37 385.71 L265.27 385.09 L265.15 384.47 L265.04 383.85 L264.92 383.23 L264.8 382.61 L264.68 381.99 L264.55 381.37 L264.43 380.75 L264.29 380.13 L264.16 379.52 L264.02 378.9 L263.88 378.28 L263.73 377.66 L263.58 377.05 L263.43 376.43 L263.27 375.82 L263.11 375.21 L262.94 374.59 L262.78 373.98 L262.6 373.37 L262.43 372.76 L262.24 372.15 L262.06 371.55 L261.87 370.94 L261.68 370.34 L261.48 369.73 L261.28 369.13 L261.07 368.53 L260.86 367.94 L260.64 367.34 L260.42 366.75 L260.19 366.16 L259.96 365.57 L259.72 364.98 L259.48 364.39 L259.24 363.81 L258.98 363.23 L258.73 362.66 L258.46 362.08 L258.2 361.51 L257.92 360.94 L257.65 360.37 L257.36 359.81 L257.07 359.25 L256.78 358.7 L256.48 358.14 L256.17 357.59 L255.86 357.05 L255.54 356.51 L255.21 355.97 L254.88 355.43 L254.55 354.9 L254.21 354.38 L253.86 353.85 L253.5 353.34 L253.14 352.82 L252.78 352.31 L252.4 351.81 L252.03 351.31 L251.64 350.81 L251.25 350.32 L250.85 349.83 L250.45 349.35 L250.04 348.88 L249.63 348.4 L249.2 347.94 L248.78 347.47 L248.34 347.02 L247.9 346.57 L247.46 346.12 L247 345.68 L246.55 345.24 L246.08 344.81 L245.61 344.39 L245.14 343.97 L244.66 343.56 L244.17 343.15 L243.67 342.74 L243.18 342.35 L242.67 341.96 L242.16 341.57 L241.64 341.19 L241.12 340.82 L240.6 340.45 L240.06 340.08 L239.53 339.73 L238.98 339.38 L238.44 339.03 L237.88 338.69 L237.33 338.35 L236.76 338.03 L236.2 337.7 L235.62 337.38 L235.05 337.07 L234.47 336.77 L233.88 336.47 L233.29 336.17 L232.7 335.88 L232.1 335.6 L231.49 335.32 L230.89 335.04 L230.28 334.77 L229.66 334.51 L229.04 334.25 L228.42 334 L227.8 333.76 L227.17 333.51 L226.54 333.28 L225.9 333.04 L225.26 332.82 L224.62 332.6 L223.98 332.38 L223.33 332.17 L222.68 331.96 L222.03 331.76 L221.37 331.56 L220.72 331.36 L220.06 331.17 L219.39 330.99 L218.73 330.81 L218.06 330.63 L217.4 330.46 L216.73 330.3 L216.05 330.13 L215.38 329.97 L214.7 329.82 L214.03 329.67 L213.35 329.52 L212.67 329.38 L211.99 329.24 L211.31 329.1 L210.62 328.97 L209.94 328.84 L209.25 328.71 L208.57 328.59 L207.88 328.47 L207.19 328.36 L206.5 328.25 L205.81 328.14 L205.12 328.03 L204.43 327.93 L203.74 327.83 L203.05 327.74 L202.35 327.64 L201.66 327.55 L200.97 327.47 L200.28 327.38 L199.58 327.3 L198.89 327.22 L198.2 327.15 L197.5 327.07 L196.81 327 L196.11 326.93 L195.42 326.87 L194.73 326.8 L194.03 326.74 L193.34 326.68 L192.65 326.63 L191.96 326.57 L191.26 326.52 L190.57 326.47 L189.88 326.42 L189.19 326.38 L188.5 326.33 L187.81 326.29 L187.12 326.25 L186.43 326.22 L185.74 326.18 L185.05 326.15 L184.36 326.12 L183.68 326.09 L182.99 326.06 L182.31 326.03 L181.62 326.01 L180.94 325.99 L180.25 325.97 L179.57 325.95 L178.89 325.93 L178.21 325.92 L177.52 325.9 L176.84 325.89 L176.17 325.88 L175.49 325.87 L174.81 325.86 L174.13 325.86 L173.46 325.85 L172.78 325.85 L172.11 325.85 L171.43 325.85 L170.76 325.86 L170.09 325.86 L169.42 325.86 L168.75 325.87 L168.08 325.88 L167.41 325.89 L166.74 325.9 L166.08 325.91 L165.41 325.93 L164.74 325.94 L164.08 325.96 L163.42 325.98 L162.76 326 L162.09 326.02 L161.43 326.04 L160.77 326.07 L160.12 326.09 L159.46 326.12 L158.8 326.15 L158.15 326.18 L157.49 326.21 L156.84 326.24 L156.19 326.28 L155.53 326.31 L154.88 326.35 L154.23 326.39 L153.58 326.43 L152.94 326.47 L152.29 326.51 L151.64 326.56 L151 326.6 L150.35 326.65 L149.71 326.7 L149.07 326.75 L148.43 326.8 L147.78 326.85 L147.14 326.91 L146.51 326.96 L145.87 327.02 L145.23 327.08 L144.6 327.14 L143.96 327.2 L143.33 327.26 L142.69 327.32 L142.06 327.39 L141.43 327.46 L140.8 327.52 L140.17 327.59 L139.54 327.66 L138.92 327.74 L138.29 327.81 L137.66 327.89 L137.04 327.96 L136.42 328.04 L135.79 328.12 L135.17 328.2 L134.55 328.29 L133.93 328.37 L133.31 328.46 L132.7 328.54 L132.08 328.63 L131.46 328.72 L130.85 328.81 L130.23 328.91 L129.62 329 L129.01 329.1 L128.4 329.2 L127.79 329.3 L127.18 329.4 L126.57 329.5 L125.97 329.6 L125.36 329.71 L124.76 329.81 L124.15 329.92 L123.55 330.03 L122.95 330.14 L122.35 330.26 L121.75 330.37 L121.15 330.49 L120.55 330.61 L119.95 330.72 L119.36 330.84 L118.76 330.97 L118.17 331.09 L117.58 331.22 L116.98 331.34 L116.39 331.47 L115.81 331.6 L115.22 331.73 L114.63 331.86 L114.04 332 L113.46 332.13 L112.87 332.27 L112.29 332.41 L111.71 332.55 L111.13 332.69 L110.55 332.83 L109.97 332.98 L109.39 333.13 L108.82 333.27 L108.24 333.42 L107.67 333.57 L107.09 333.73 L106.52 333.88 L105.95 334.03 L105.38 334.19 L104.81 334.35 L104.25 334.51 L103.68 334.67 L103.12 334.83 L102.55 334.99 L101.99 335.16 L101.43 335.33 L100.87 335.49 L100.31 335.66 L99.75 335.83 L99.19 336.01 L98.64 336.18 L98.09 336.35 L97.53 336.53 L96.98 336.71 L96.43 336.89 L95.88 337.07 L95.33 337.25 L94.79 337.43 L94.24 337.62 L93.7 337.8 L93.15 337.99 L92.61 338.18 L92.07 338.37 L91.53 338.56 L90.99 338.75 L90.46 338.94 L89.92 339.13 L89.39 339.33 L88.85 339.53 L88.32 339.72 L87.79 339.92 L87.26 340.12 L86.74 340.33 L86.21 340.53 L85.68 340.73 L85.16 340.94 L84.64 341.14 L84.12 341.35 L83.6 341.56 L83.08 341.77 L82.56 341.98 L82.05 342.19 L81.53 342.4 L81.02 342.61 L80.51 342.83 L80 343.04 L79.49 343.26 L78.98 343.48 L78.47 343.69 L77.97 343.91 L77.46 344.13 L76.96 344.35 L76.46 344.57 L75.96 344.8 L75.46 345.02 L74.96 345.25 L74.47 345.47 L73.97 345.7 L73.48 345.92 L72.99 346.15 L72.5 346.38" stroke="#0070C0" stroke-width="2.3" stroke-dasharray="9.88 7.41 2.47 7.41" stroke-dashoffset="2.63"/>
<path d="M255.17 511.5 L255.35 511.08 L255.52 510.65 L255.69 510.23 L255.86 509.8 L256.03 509.38 L256.19 508.95 L256.36 508.52 L256.52 508.1 L256.67 507.67 L256.83 507.24 L256.98 506.81 L257.13 506.38 L257.28 505.94 L257.43 505.51 L257.57 505.08 L257.71 504.65 L257.85 504.21 L257.99 503.78 L258.12 503.34 L258.25 502.9 L258.38 502.47 L258.51 502.03 L258.63 501.59 L258.76 501.15 L258.88 500.71 L258.99 500.27 L259.11 499.83 L259.22 499.39 L259.34 498.95 L259.45 498.51 L259.55 498.07 L259.66 497.62 L259.76 497.18 L259.86 496.73 L259.96 496.29 L260.06 495.84 L260.15 495.4 L260.25 494.95 L260.34 494.51 L260.43 494.06 L260.51 493.61 L260.6 493.16 L260.68 492.71 L260.76 492.27 L260.84 491.82 L260.92 491.37 L261 490.92 L261.07 490.46 L261.14 490.01 L261.21 489.56 L261.28 489.11 L261.35 488.66 L261.42 488.2 L261.48 487.75 L261.54 487.3 L261.6 486.84 L261.66 486.39 L261.72 485.93 L261.78 485.48 L261.83 485.02 L261.88 484.56 L261.94 484.11 L261.99 483.65 L262.04 483.19 L262.08 482.73 L262.13 482.28 L262.18 481.82 L262.22 481.36 L262.26 480.9 L262.3 480.44 L262.34 479.98 L262.38 479.52 L262.42 479.05 L262.46 478.59 L262.49 478.13 L262.53 477.67 L262.56 477.2 L262.59 476.74 L262.63 476.27 L262.66 475.81 L262.69 475.34 L262.71 474.88 L262.74 474.41 L262.77 473.95 L262.79 473.48 L262.82 473.01 L262.84 472.54 L262.87 472.07 L262.89 471.6 L262.91 471.13 L262.93 470.66 L262.95 470.19 L262.97 469.72 L262.99 469.25 L263.01 468.78 L263.02 468.3 L263.04 467.83 L263.06 467.36 L263.07 466.88 L263.09 466.41 L263.1 465.93 L263.11 465.45 L263.13 464.98 L263.14 464.5 L263.15 464.02 L263.16 463.54 L263.17 463.06 L263.18 462.58 L263.19 462.1 L263.2 461.62 L263.21 461.14 L263.22 460.66 L263.22 460.17 L263.23 459.69 L263.24 459.2 L263.24 458.72 L263.25 458.23 L263.26 457.74 L263.26 457.26 L263.27 456.77 L263.27 456.28 L263.28 455.79 L263.28 455.3 L263.28 454.81 L263.29 454.31 L263.29 453.82 L263.29 453.33 L263.29 452.83 L263.3 452.34 L263.3 451.84 L263.3 451.34 L263.3 450.84 L263.3 450.34 L263.3 449.84 L263.3 449.34 L263.3 448.84 L263.3 448.34 L263.3 447.84 L263.3 447.33 L263.3 446.83 L263.3 446.32 L263.3 445.81 L263.3 445.3 L263.3 444.79 L263.3 444.28 L263.3 443.77 L263.29 443.26 L263.29 442.75 L263.29 442.23 L263.29 441.72 L263.29 441.2 L263.28 440.68 L263.28 440.17 L263.28 439.65 L263.28 439.12 L263.27 438.6 L263.27 438.08 L263.27 437.56 L263.26 437.03 L263.26 436.5 L263.26 435.98 L263.25 435.45 L263.25 434.92 L263.24 434.39 L263.24 433.85 L263.24 433.32 L263.23 432.79 L263.23 432.25 L263.22 431.71 L263.22 431.17 L263.21 430.63 L263.21 430.09 L263.2 429.55 L263.2 429.01 L263.19 428.46 L263.19 427.92 L263.18 427.37 L263.18 426.82 L263.17 426.27 L263.16 425.72 L263.16 425.16 L263.15 424.61 L263.15 424.05 L263.14 423.49 L263.13 422.94 L263.13 422.38 L263.12 421.81 L263.11 421.25 L263.11 420.69 L263.1 420.12 L263.09 419.55 L263.09 418.98 L263.08 418.41 L263.07 417.84 L263.06 417.26 L263.05 416.69 L263.05 416.11 L263.04 415.53 L263.03 414.95 L263.02 414.37 L263.01 413.79 L263 413.2 L262.99 412.62 L262.98 412.03 L262.97 411.44 L262.96 410.85 L262.95 410.25 L262.94 409.66 L262.93 409.06 L262.92 408.46 L262.9 407.86 L262.89 407.26 L262.88 406.66 L262.87 406.05 L262.85 405.45 L262.84 404.84 L262.82 404.23 L262.81 403.62 L262.79 403 L262.78 402.39 L262.76 401.77 L262.74 401.15 L262.72 400.53 L262.7 399.91 L262.69 399.29 L262.66 398.66 L262.64 398.04 L262.62 397.41 L262.6 396.78 L262.58 396.15 L262.55 395.51 L262.53 394.88 L262.5 394.24 L262.47 393.61 L262.44 392.97 L262.41 392.33 L262.38 391.68 L262.35 391.04 L262.31 390.39 L262.28 389.75 L262.24 389.1 L262.2 388.45 L262.16 387.8 L262.12 387.15 L262.08 386.5 L262.03 385.84 L261.98 385.19 L261.93 384.53 L261.88 383.88 L261.83 383.22 L261.77 382.56 L261.71 381.9 L261.65 381.24 L261.58 380.58 L261.52 379.92 L261.45 379.26 L261.37 378.6 L261.29 377.94 L261.21 377.28 L261.13 376.62 L261.04 375.96 L260.95 375.3 L260.86 374.64 L260.76 373.98 L260.65 373.32 L260.55 372.66 L260.43 372.01 L260.31 371.35 L260.19 370.7 L260.06 370.05 L259.93 369.4 L259.79 368.75 L259.65 368.1 L259.49 367.46 L259.34 366.82 L259.17 366.18 L259 365.54 L258.83 364.91 L258.64 364.28 L258.45 363.66 L258.25 363.03 L258.05 362.42 L257.83 361.8 L257.61 361.2 L257.38 360.59 L257.14 359.99 L256.89 359.4 L256.64 358.81 L256.37 358.23 L256.1 357.66 L255.81 357.09 L255.52 356.52 L255.21 355.97 L254.9 355.42 L254.58 354.88 L254.24 354.35 L253.9 353.82 L253.54 353.3 L253.18 352.79 L252.8 352.29 L252.42 351.8 L252.02 351.31 L251.61 350.84 L251.2 350.37 L250.77 349.91 L250.33 349.46 L249.88 349.02 L249.42 348.59 L248.95 348.17 L248.47 347.76 L247.98 347.36 L247.47 346.97 L246.96 346.59 L246.44 346.21 L245.91 345.85 L245.37 345.5 L244.82 345.16 L244.26 344.82 L243.69 344.5 L243.11 344.18 L242.53 343.88 L241.93 343.58 L241.33 343.29 L240.72 343.01 L240.1 342.74 L239.48 342.48 L238.85 342.23 L238.21 341.99 L237.56 341.75 L236.91 341.52 L236.25 341.3 L235.59 341.09 L234.92 340.88 L234.24 340.69 L233.56 340.5 L232.88 340.31 L232.19 340.14 L231.5 339.97 L230.8 339.8 L230.1 339.64 L229.4 339.49 L228.69 339.35 L227.98 339.21 L227.27 339.07 L226.56 338.94 L225.84 338.82 L225.12 338.7 L224.4 338.58 L223.67 338.47 L222.95 338.37 L222.22 338.27 L221.5 338.17 L220.77 338.07 L220.04 337.98 L219.31 337.9 L218.58 337.81 L217.85 337.74 L217.12 337.66 L216.39 337.59 L215.65 337.51 L214.92 337.45 L214.19 337.38 L213.46 337.32 L212.73 337.26 L212 337.2 L211.27 337.15 L210.54 337.09 L209.82 337.04 L209.09 336.99 L208.36 336.95 L207.64 336.9 L206.91 336.86 L206.19 336.81 L205.47 336.77 L204.75 336.73 L204.03 336.7 L203.31 336.66 L202.59 336.63 L201.87 336.59 L201.16 336.56 L200.45 336.53 L199.73 336.5 L199.02 336.47 L198.32 336.44 L197.61 336.41 L196.9 336.39 L196.2 336.36 L195.5 336.34 L194.79 336.31 L194.1 336.29 L193.4 336.27 L192.7 336.24 L192.01 336.22 L191.31 336.2 L190.62 336.18 L189.93 336.16 L189.25 336.14 L188.56 336.12 L187.87 336.11 L187.19 336.09 L186.51 336.07 L185.83 336.05 L185.15 336.04 L184.48 336.02 L183.8 336.01 L183.13 335.99 L182.46 335.98 L181.79 335.96 L181.12 335.95 L180.45 335.93 L179.79 335.92 L179.13 335.91 L178.47 335.89 L177.81 335.88 L177.15 335.87 L176.49 335.86 L175.84 335.84 L175.18 335.83 L174.53 335.82 L173.88 335.81 L173.23 335.8 L172.58 335.79 L171.94 335.77 L171.29 335.76 L170.65 335.75 L170.01 335.74 L169.37 335.73 L168.73 335.72 L168.09 335.71 L167.46 335.7 L166.83 335.7 L166.19 335.69 L165.56 335.68 L164.93 335.67 L164.3 335.66 L163.68 335.65 L163.05 335.64 L162.43 335.64 L161.8 335.63 L161.18 335.62 L160.56 335.61 L159.94 335.6 L159.32 335.6 L158.71 335.59 L158.09 335.58 L157.48 335.58 L156.87 335.57 L156.25 335.57 L155.64 335.56 L155.03 335.55 L154.43 335.55 L153.82 335.54 L153.21 335.54 L152.61 335.53 L152.01 335.53 L151.4 335.53 L150.8 335.52 L150.2 335.52 L149.6 335.52 L149.01 335.51 L148.41 335.51 L147.81 335.51 L147.22 335.51 L146.62 335.5 L146.03 335.5 L145.44 335.5 L144.85 335.5 L144.26 335.5 L143.67 335.5 L143.08 335.5 L142.49 335.5 L141.91 335.51 L141.32 335.51 L140.74 335.51 L140.15 335.51 L139.57 335.52 L138.99 335.52 L138.41 335.52 L137.83 335.53 L137.25 335.53 L136.67 335.54 L136.09 335.55 L135.52 335.55 L134.94 335.56 L134.37 335.57 L133.79 335.58 L133.22 335.59 L132.64 335.6 L132.07 335.61 L131.5 335.62 L130.93 335.63 L130.36 335.64 L129.79 335.66 L129.22 335.67 L128.65 335.69 L128.09 335.7 L127.52 335.72 L126.95 335.74 L126.39 335.76 L125.82 335.78 L125.26 335.8 L124.7 335.82 L124.13 335.84 L123.57 335.87 L123.01 335.89 L122.45 335.91 L121.89 335.94 L121.33 335.97 L120.77 336 L120.21 336.03 L119.65 336.06 L119.09 336.09 L118.54 336.12 L117.98 336.16 L117.42 336.2 L116.87 336.23 L116.31 336.27 L115.76 336.31 L115.2 336.35 L114.65 336.4 L114.1 336.44 L113.55 336.49 L112.99 336.53 L112.44 336.58 L111.89 336.63 L111.34 336.68 L110.79 336.74 L110.24 336.79 L109.69 336.85 L109.15 336.91 L108.6 336.97 L108.05 337.03 L107.5 337.09 L106.96 337.16 L106.41 337.22 L105.87 337.29 L105.32 337.36 L104.78 337.44 L104.24 337.51 L103.69 337.59 L103.15 337.67 L102.61 337.75 L102.07 337.83 L101.53 337.92 L100.99 338 L100.45 338.09 L99.91 338.18 L99.37 338.28 L98.83 338.37 L98.3 338.47 L97.76 338.57 L97.23 338.67 L96.69 338.78 L96.16 338.88 L95.62 338.99 L95.09 339.1 L94.56 339.22 L94.03 339.33 L93.49 339.45 L92.96 339.57 L92.44 339.69 L91.91 339.82 L91.38 339.95 L90.85 340.08 L90.32 340.21 L89.8 340.35 L89.27 340.48 L88.75 340.62 L88.23 340.77 L87.7 340.91 L87.18 341.06 L86.66 341.21 L86.14 341.36 L85.62 341.51 L85.11 341.67 L84.59 341.83 L84.07 341.99 L83.56 342.16 L83.04 342.33 L82.53 342.5 L82.02 342.67 L81.51 342.84 L81 343.02 L80.49 343.2 L79.98 343.38 L79.47 343.56 L78.97 343.75 L78.46 343.94 L77.96 344.13 L77.46 344.32 L76.96 344.52 L76.46 344.72 L75.96 344.92 L75.46 345.12 L74.96 345.32 L74.47 345.53 L73.97 345.74 L73.48 345.95 L72.99 346.16 L72.5 346.38" stroke="#00B050" stroke-width="2.3" stroke-dasharray="7.41 2.47" stroke-dashoffset="3.07"/>
<path d="M255.17 511.5 L255.35 511.08 L255.53 510.65 L255.7 510.23 L255.87 509.8 L256.04 509.38 L256.2 508.95 L256.36 508.52 L256.51 508.1 L256.66 507.67 L256.81 507.24 L256.96 506.81 L257.1 506.38 L257.24 505.95 L257.37 505.51 L257.5 505.08 L257.63 504.65 L257.75 504.21 L257.87 503.78 L257.99 503.35 L258.11 502.91 L258.22 502.47 L258.33 502.04 L258.43 501.6 L258.53 501.16 L258.63 500.73 L258.73 500.29 L258.82 499.85 L258.92 499.41 L259 498.97 L259.09 498.53 L259.17 498.09 L259.25 497.65 L259.33 497.21 L259.4 496.77 L259.48 496.33 L259.55 495.89 L259.61 495.45 L259.68 495 L259.74 494.56 L259.8 494.12 L259.86 493.67 L259.92 493.23 L259.98 492.79 L260.03 492.34 L260.08 491.9 L260.13 491.45 L260.17 491.01 L260.22 490.56 L260.26 490.11 L260.31 489.67 L260.35 489.22 L260.38 488.77 L260.42 488.33 L260.46 487.88 L260.49 487.43 L260.52 486.98 L260.56 486.53 L260.59 486.09 L260.61 485.64 L260.64 485.19 L260.67 484.74 L260.69 484.29 L260.72 483.84 L260.74 483.39 L260.76 482.94 L260.78 482.48 L260.8 482.03 L260.82 481.58 L260.84 481.13 L260.85 480.67 L260.87 480.22 L260.89 479.77 L260.9 479.31 L260.91 478.86 L260.93 478.4 L260.94 477.95 L260.95 477.49 L260.96 477.04 L260.97 476.58 L260.98 476.12 L260.99 475.67 L261 475.21 L261 474.75 L261.01 474.29 L261.02 473.83 L261.02 473.37 L261.03 472.91 L261.03 472.45 L261.04 471.99 L261.04 471.53 L261.05 471.07 L261.05 470.61 L261.05 470.14 L261.06 469.68 L261.06 469.21 L261.06 468.75 L261.06 468.28 L261.06 467.82 L261.06 467.35 L261.06 466.89 L261.06 466.42 L261.07 465.95 L261.07 465.48 L261.06 465.01 L261.06 464.54 L261.06 464.07 L261.06 463.6 L261.06 463.13 L261.06 462.65 L261.06 462.18 L261.06 461.71 L261.05 461.23 L261.05 460.76 L261.05 460.28 L261.05 459.8 L261.05 459.33 L261.04 458.85 L261.04 458.37 L261.04 457.89 L261.03 457.41 L261.03 456.93 L261.03 456.44 L261.02 455.96 L261.02 455.48 L261.02 454.99 L261.01 454.51 L261.01 454.02 L261.01 453.54 L261 453.05 L261 452.56 L260.99 452.07 L260.99 451.58 L260.98 451.09 L260.98 450.6 L260.98 450.1 L260.97 449.61 L260.97 449.11 L260.96 448.62 L260.96 448.12 L260.95 447.62 L260.95 447.12 L260.94 446.62 L260.94 446.12 L260.93 445.62 L260.93 445.12 L260.92 444.62 L260.92 444.11 L260.91 443.6 L260.91 443.1 L260.9 442.59 L260.9 442.08 L260.89 441.57 L260.89 441.06 L260.88 440.55 L260.88 440.03 L260.87 439.52 L260.87 439 L260.86 438.49 L260.86 437.97 L260.85 437.45 L260.85 436.93 L260.84 436.41 L260.83 435.89 L260.83 435.36 L260.82 434.84 L260.82 434.31 L260.81 433.78 L260.81 433.26 L260.8 432.73 L260.8 432.19 L260.79 431.66 L260.78 431.13 L260.78 430.59 L260.77 430.06 L260.77 429.52 L260.76 428.98 L260.76 428.44 L260.75 427.9 L260.74 427.35 L260.74 426.81 L260.73 426.26 L260.73 425.71 L260.72 425.17 L260.71 424.61 L260.71 424.06 L260.7 423.51 L260.7 422.95 L260.69 422.4 L260.68 421.84 L260.68 421.28 L260.67 420.72 L260.67 420.16 L260.66 419.59 L260.65 419.03 L260.65 418.46 L260.64 417.89 L260.63 417.32 L260.63 416.75 L260.62 416.17 L260.61 415.6 L260.61 415.02 L260.6 414.44 L260.59 413.86 L260.59 413.28 L260.58 412.69 L260.57 412.11 L260.57 411.52 L260.56 410.93 L260.55 410.34 L260.54 409.75 L260.54 409.15 L260.53 408.56 L260.52 407.96 L260.51 407.36 L260.51 406.75 L260.5 406.15 L260.49 405.54 L260.48 404.94 L260.47 404.33 L260.46 403.71 L260.46 403.1 L260.45 402.49 L260.44 401.87 L260.43 401.25 L260.42 400.63 L260.41 400 L260.4 399.38 L260.39 398.75 L260.38 398.12 L260.37 397.49 L260.35 396.86 L260.34 396.22 L260.33 395.58 L260.32 394.94 L260.3 394.3 L260.29 393.66 L260.28 393.01 L260.26 392.36 L260.25 391.71 L260.23 391.06 L260.21 390.41 L260.19 389.75 L260.18 389.1 L260.16 388.44 L260.14 387.78 L260.12 387.11 L260.09 386.45 L260.07 385.78 L260.05 385.11 L260.02 384.44 L259.99 383.77 L259.96 383.1 L259.93 382.42 L259.9 381.75 L259.87 381.07 L259.83 380.39 L259.8 379.71 L259.76 379.03 L259.71 378.35 L259.67 377.66 L259.62 376.98 L259.57 376.29 L259.52 375.61 L259.46 374.92 L259.41 374.24 L259.34 373.55 L259.28 372.87 L259.2 372.18 L259.13 371.5 L259.05 370.81 L258.96 370.13 L258.88 369.45 L258.78 368.76 L258.68 368.09 L258.57 367.41 L258.46 366.73 L258.34 366.06 L258.21 365.39 L258.08 364.73 L257.93 364.07 L257.78 363.41 L257.62 362.76 L257.46 362.11 L257.28 361.47 L257.09 360.83 L256.89 360.2 L256.68 359.57 L256.46 358.96 L256.23 358.35 L255.99 357.75 L255.73 357.15 L255.46 356.57 L255.18 355.99 L254.89 355.43 L254.58 354.88 L254.26 354.33 L253.92 353.8 L253.57 353.28 L253.2 352.77 L252.82 352.27 L252.43 351.79 L252.02 351.31 L251.59 350.86 L251.15 350.41 L250.7 349.98 L250.23 349.56 L249.74 349.15 L249.24 348.76 L248.73 348.38 L248.2 348.01 L247.65 347.66 L247.1 347.32 L246.53 347 L245.95 346.68 L245.35 346.38 L244.75 346.1 L244.13 345.82 L243.5 345.56 L242.86 345.31 L242.21 345.07 L241.55 344.84 L240.88 344.62 L240.21 344.41 L239.52 344.22 L238.83 344.03 L238.13 343.85 L237.42 343.68 L236.71 343.52 L235.99 343.36 L235.27 343.22 L234.54 343.08 L233.81 342.95 L233.07 342.83 L232.33 342.71 L231.59 342.6 L230.84 342.49 L230.09 342.39 L229.34 342.29 L228.59 342.2 L227.83 342.12 L227.08 342.04 L226.32 341.96 L225.56 341.89 L224.81 341.82 L224.05 341.75 L223.29 341.69 L222.53 341.63 L221.77 341.57 L221.02 341.52 L220.26 341.46 L219.5 341.41 L218.75 341.37 L217.99 341.32 L217.24 341.28 L216.49 341.24 L215.73 341.2 L214.98 341.16 L214.24 341.12 L213.49 341.09 L212.74 341.05 L212 341.02 L211.26 340.99 L210.52 340.96 L209.78 340.93 L209.04 340.9 L208.3 340.87 L207.57 340.85 L206.84 340.82 L206.11 340.8 L205.38 340.77 L204.66 340.75 L203.93 340.73 L203.21 340.7 L202.49 340.68 L201.78 340.66 L201.06 340.64 L200.35 340.62 L199.64 340.6 L198.93 340.58 L198.22 340.56 L197.51 340.54 L196.81 340.52 L196.11 340.5 L195.41 340.48 L194.71 340.46 L194.02 340.45 L193.32 340.43 L192.63 340.41 L191.94 340.39 L191.26 340.38 L190.57 340.36 L189.89 340.34 L189.21 340.33 L188.53 340.31 L187.85 340.29 L187.18 340.28 L186.5 340.26 L185.83 340.25 L185.16 340.23 L184.49 340.22 L183.83 340.2 L183.16 340.18 L182.5 340.17 L181.84 340.15 L181.18 340.14 L180.52 340.12 L179.87 340.11 L179.22 340.09 L178.56 340.08 L177.91 340.06 L177.27 340.05 L176.62 340.04 L175.97 340.02 L175.33 340.01 L174.69 339.99 L174.05 339.98 L173.41 339.96 L172.77 339.95 L172.14 339.94 L171.51 339.92 L170.87 339.91 L170.24 339.89 L169.61 339.88 L168.99 339.87 L168.36 339.85 L167.74 339.84 L167.11 339.82 L166.49 339.81 L165.87 339.8 L165.26 339.78 L164.64 339.77 L164.02 339.76 L163.41 339.74 L162.8 339.73 L162.19 339.72 L161.58 339.7 L160.97 339.69 L160.36 339.68 L159.75 339.66 L159.15 339.65 L158.55 339.64 L157.94 339.62 L157.34 339.61 L156.74 339.6 L156.15 339.59 L155.55 339.57 L154.95 339.56 L154.36 339.55 L153.77 339.54 L153.17 339.52 L152.58 339.51 L151.99 339.5 L151.4 339.49 L150.82 339.47 L150.23 339.46 L149.64 339.45 L149.06 339.44 L148.48 339.42 L147.9 339.41 L147.32 339.4 L146.74 339.39 L146.16 339.38 L145.58 339.36 L145 339.35 L144.43 339.34 L143.85 339.33 L143.28 339.32 L142.71 339.31 L142.13 339.3 L141.56 339.29 L140.99 339.28 L140.43 339.26 L139.86 339.25 L139.29 339.24 L138.72 339.23 L138.16 339.22 L137.59 339.21 L137.03 339.2 L136.47 339.19 L135.91 339.18 L135.35 339.17 L134.79 339.16 L134.23 339.16 L133.67 339.15 L133.11 339.14 L132.55 339.13 L132 339.12 L131.44 339.11 L130.89 339.11 L130.33 339.1 L129.78 339.09 L129.23 339.08 L128.68 339.08 L128.12 339.07 L127.57 339.07 L127.02 339.06 L126.48 339.06 L125.93 339.05 L125.38 339.05 L124.83 339.04 L124.29 339.04 L123.74 339.03 L123.19 339.03 L122.65 339.03 L122.11 339.03 L121.56 339.03 L121.02 339.02 L120.48 339.02 L119.93 339.02 L119.39 339.03 L118.85 339.03 L118.31 339.03 L117.77 339.03 L117.23 339.03 L116.69 339.04 L116.16 339.04 L115.62 339.05 L115.08 339.06 L114.54 339.06 L114.01 339.07 L113.47 339.08 L112.93 339.09 L112.4 339.1 L111.86 339.11 L111.33 339.12 L110.8 339.14 L110.26 339.15 L109.73 339.17 L109.2 339.19 L108.66 339.21 L108.13 339.22 L107.6 339.25 L107.07 339.27 L106.54 339.29 L106.01 339.32 L105.48 339.34 L104.95 339.37 L104.42 339.4 L103.89 339.43 L103.36 339.47 L102.83 339.5 L102.3 339.54 L101.77 339.58 L101.24 339.62 L100.72 339.66 L100.19 339.7 L99.66 339.75 L99.14 339.8 L98.61 339.85 L98.08 339.9 L97.56 339.96 L97.03 340.01 L96.51 340.07 L95.98 340.13 L95.46 340.2 L94.94 340.27 L94.41 340.34 L93.89 340.41 L93.37 340.48 L92.85 340.56 L92.33 340.64 L91.8 340.73 L91.28 340.81 L90.76 340.9 L90.24 340.99 L89.72 341.09 L89.2 341.19 L88.69 341.29 L88.17 341.39 L87.65 341.5 L87.13 341.61 L86.62 341.73 L86.1 341.85 L85.59 341.97 L85.07 342.09 L84.56 342.22 L84.05 342.36 L83.54 342.49 L83.02 342.63 L82.51 342.77 L82 342.92 L81.5 343.07 L80.99 343.22 L80.48 343.38 L79.97 343.54 L79.47 343.7 L78.96 343.87 L78.46 344.04 L77.96 344.22 L77.46 344.4 L76.95 344.58 L76.46 344.77 L75.96 344.96 L75.46 345.15 L74.96 345.35 L74.47 345.55 L73.97 345.75 L73.48 345.96 L72.99 346.17 L72.5 346.38" stroke="#FFC000" stroke-width="2.3" stroke-dasharray="19.76 7.41 2.47 7.41 2.47 7.41" stroke-dashoffset="16.73"/>
<path d="M255.17 511.5 L255.36 511.08 L255.54 510.65 L255.72 510.23 L255.89 509.8 L256.05 509.38 L256.22 508.95 L256.37 508.52 L256.53 508.1 L256.67 507.67 L256.82 507.24 L256.95 506.81 L257.09 506.38 L257.22 505.95 L257.34 505.52 L257.46 505.08 L257.58 504.65 L257.69 504.22 L257.8 503.78 L257.9 503.35 L258.01 502.92 L258.1 502.48 L258.19 502.05 L258.28 501.61 L258.37 501.17 L258.45 500.74 L258.53 500.3 L258.6 499.86 L258.68 499.43 L258.74 498.99 L258.81 498.55 L258.87 498.11 L258.93 497.68 L258.99 497.24 L259.04 496.8 L259.1 496.36 L259.14 495.92 L259.19 495.48 L259.24 495.04 L259.28 494.6 L259.32 494.16 L259.36 493.72 L259.39 493.28 L259.43 492.84 L259.46 492.4 L259.49 491.96 L259.52 491.52 L259.54 491.07 L259.57 490.63 L259.59 490.19 L259.62 489.75 L259.64 489.3 L259.66 488.86 L259.67 488.42 L259.69 487.98 L259.71 487.53 L259.72 487.09 L259.74 486.64 L259.75 486.2 L259.76 485.75 L259.77 485.31 L259.78 484.86 L259.79 484.42 L259.8 483.97 L259.81 483.53 L259.81 483.08 L259.82 482.63 L259.82 482.18 L259.83 481.74 L259.83 481.29 L259.84 480.84 L259.84 480.39 L259.84 479.94 L259.84 479.49 L259.84 479.04 L259.85 478.59 L259.85 478.14 L259.85 477.69 L259.85 477.24 L259.84 476.79 L259.84 476.34 L259.84 475.88 L259.84 475.43 L259.84 474.98 L259.84 474.52 L259.83 474.07 L259.83 473.61 L259.83 473.16 L259.82 472.7 L259.82 472.25 L259.82 471.79 L259.81 471.33 L259.81 470.87 L259.81 470.42 L259.8 469.96 L259.8 469.5 L259.79 469.04 L259.79 468.58 L259.78 468.12 L259.78 467.65 L259.77 467.19 L259.77 466.73 L259.76 466.26 L259.75 465.8 L259.75 465.34 L259.74 464.87 L259.74 464.4 L259.73 463.94 L259.72 463.47 L259.72 463 L259.71 462.53 L259.71 462.06 L259.7 461.59 L259.69 461.12 L259.69 460.65 L259.68 460.18 L259.67 459.71 L259.67 459.23 L259.66 458.76 L259.65 458.28 L259.65 457.81 L259.64 457.33 L259.63 456.85 L259.63 456.37 L259.62 455.89 L259.61 455.41 L259.6 454.93 L259.6 454.45 L259.59 453.97 L259.58 453.49 L259.58 453 L259.57 452.52 L259.56 452.03 L259.55 451.55 L259.55 451.06 L259.54 450.57 L259.53 450.08 L259.53 449.59 L259.52 449.1 L259.51 448.61 L259.5 448.11 L259.5 447.62 L259.49 447.12 L259.48 446.63 L259.47 446.13 L259.47 445.63 L259.46 445.14 L259.45 444.64 L259.44 444.13 L259.44 443.63 L259.43 443.13 L259.42 442.63 L259.41 442.12 L259.41 441.61 L259.4 441.11 L259.39 440.6 L259.38 440.09 L259.37 439.58 L259.37 439.07 L259.36 438.55 L259.35 438.04 L259.34 437.53 L259.34 437.01 L259.33 436.49 L259.32 435.97 L259.31 435.45 L259.3 434.93 L259.3 434.41 L259.29 433.89 L259.28 433.36 L259.27 432.84 L259.26 432.31 L259.26 431.78 L259.25 431.25 L259.24 430.72 L259.23 430.19 L259.22 429.65 L259.22 429.12 L259.21 428.58 L259.2 428.04 L259.19 427.5 L259.18 426.96 L259.17 426.42 L259.17 425.88 L259.16 425.33 L259.15 424.79 L259.14 424.24 L259.13 423.69 L259.12 423.14 L259.12 422.59 L259.11 422.03 L259.1 421.48 L259.09 420.92 L259.08 420.36 L259.07 419.8 L259.06 419.24 L259.06 418.68 L259.05 418.11 L259.04 417.55 L259.03 416.98 L259.02 416.41 L259.01 415.84 L259 415.27 L259 414.69 L258.99 414.11 L258.98 413.54 L258.97 412.96 L258.96 412.37 L258.95 411.79 L258.94 411.21 L258.93 410.62 L258.92 410.03 L258.91 409.44 L258.91 408.85 L258.9 408.25 L258.89 407.66 L258.88 407.06 L258.87 406.46 L258.86 405.86 L258.85 405.25 L258.84 404.65 L258.83 404.04 L258.82 403.43 L258.81 402.82 L258.8 402.2 L258.79 401.59 L258.78 400.97 L258.77 400.35 L258.76 399.73 L258.75 399.1 L258.74 398.48 L258.73 397.85 L258.72 397.22 L258.71 396.58 L258.7 395.95 L258.68 395.31 L258.67 394.67 L258.66 394.03 L258.65 393.39 L258.64 392.74 L258.62 392.09 L258.61 391.44 L258.6 390.79 L258.59 390.13 L258.57 389.48 L258.56 388.82 L258.54 388.16 L258.53 387.49 L258.51 386.83 L258.5 386.16 L258.48 385.49 L258.46 384.81 L258.45 384.14 L258.43 383.46 L258.41 382.78 L258.39 382.1 L258.37 381.42 L258.34 380.73 L258.32 380.04 L258.3 379.36 L258.27 378.66 L258.24 377.97 L258.21 377.28 L258.18 376.58 L258.15 375.88 L258.11 375.19 L258.08 374.49 L258.04 373.78 L258 373.08 L257.95 372.38 L257.9 371.68 L257.85 370.97 L257.79 370.27 L257.73 369.57 L257.67 368.86 L257.6 368.16 L257.53 367.46 L257.45 366.76 L257.36 366.06 L257.27 365.37 L257.17 364.67 L257.06 363.98 L256.95 363.3 L256.83 362.62 L256.69 361.94 L256.55 361.27 L256.4 360.6 L256.24 359.94 L256.06 359.29 L255.88 358.64 L255.67 358.01 L255.46 357.38 L255.23 356.77 L254.99 356.16 L254.73 355.57 L254.45 354.99 L254.16 354.42 L253.85 353.86 L253.52 353.32 L253.17 352.8 L252.81 352.29 L252.42 351.79 L252.02 351.31 L251.6 350.85 L251.15 350.41 L250.69 349.98 L250.21 349.57 L249.71 349.18 L249.19 348.81 L248.65 348.45 L248.09 348.11 L247.52 347.79 L246.93 347.48 L246.32 347.19 L245.7 346.92 L245.06 346.66 L244.41 346.42 L243.75 346.19 L243.07 345.97 L242.39 345.77 L241.69 345.58 L240.98 345.4 L240.26 345.23 L239.54 345.08 L238.8 344.93 L238.06 344.8 L237.32 344.67 L236.56 344.55 L235.81 344.44 L235.05 344.34 L234.28 344.24 L233.51 344.15 L232.74 344.06 L231.97 343.98 L231.19 343.91 L230.42 343.84 L229.64 343.77 L228.86 343.71 L228.08 343.66 L227.3 343.6 L226.52 343.55 L225.74 343.5 L224.96 343.46 L224.19 343.41 L223.41 343.37 L222.63 343.34 L221.86 343.3 L221.09 343.26 L220.31 343.23 L219.54 343.2 L218.78 343.17 L218.01 343.14 L217.25 343.11 L216.48 343.09 L215.72 343.06 L214.96 343.04 L214.21 343.01 L213.45 342.99 L212.7 342.97 L211.95 342.94 L211.21 342.92 L210.46 342.9 L209.72 342.88 L208.98 342.86 L208.24 342.84 L207.5 342.82 L206.77 342.8 L206.04 342.79 L205.31 342.77 L204.58 342.75 L203.86 342.73 L203.14 342.72 L202.42 342.7 L201.7 342.68 L200.98 342.67 L200.27 342.65 L199.56 342.63 L198.85 342.62 L198.14 342.6 L197.44 342.58 L196.74 342.57 L196.04 342.55 L195.34 342.54 L194.65 342.52 L193.95 342.51 L193.26 342.49 L192.57 342.48 L191.89 342.46 L191.2 342.45 L190.52 342.43 L189.84 342.42 L189.16 342.4 L188.49 342.39 L187.81 342.38 L187.14 342.36 L186.47 342.35 L185.8 342.33 L185.13 342.32 L184.47 342.3 L183.81 342.29 L183.15 342.28 L182.49 342.26 L181.83 342.25 L181.17 342.23 L180.52 342.22 L179.87 342.21 L179.22 342.19 L178.57 342.18 L177.93 342.17 L177.28 342.15 L176.64 342.14 L176 342.12 L175.36 342.11 L174.72 342.1 L174.09 342.08 L173.45 342.07 L172.82 342.06 L172.19 342.04 L171.56 342.03 L170.93 342.02 L170.3 342 L169.68 341.99 L169.06 341.98 L168.44 341.96 L167.82 341.95 L167.2 341.94 L166.58 341.93 L165.96 341.91 L165.35 341.9 L164.74 341.89 L164.13 341.87 L163.52 341.86 L162.91 341.85 L162.3 341.84 L161.7 341.82 L161.09 341.81 L160.49 341.8 L159.89 341.78 L159.29 341.77 L158.69 341.76 L158.09 341.75 L157.5 341.73 L156.9 341.72 L156.31 341.71 L155.72 341.7 L155.12 341.68 L154.53 341.67 L153.95 341.66 L153.36 341.65 L152.77 341.63 L152.19 341.62 L151.6 341.61 L151.02 341.6 L150.44 341.59 L149.86 341.57 L149.28 341.56 L148.7 341.55 L148.13 341.54 L147.55 341.53 L146.98 341.51 L146.4 341.5 L145.83 341.49 L145.26 341.48 L144.69 341.47 L144.12 341.45 L143.55 341.44 L142.98 341.43 L142.42 341.42 L141.85 341.41 L141.29 341.39 L140.72 341.38 L140.16 341.37 L139.6 341.36 L139.04 341.35 L138.48 341.34 L137.92 341.33 L137.36 341.31 L136.8 341.3 L136.25 341.29 L135.69 341.28 L135.14 341.27 L134.59 341.26 L134.03 341.25 L133.48 341.24 L132.93 341.23 L132.38 341.21 L131.83 341.2 L131.28 341.19 L130.73 341.18 L130.19 341.17 L129.64 341.16 L129.1 341.15 L128.55 341.14 L128.01 341.13 L127.46 341.12 L126.92 341.11 L126.38 341.1 L125.84 341.09 L125.3 341.08 L124.76 341.07 L124.22 341.06 L123.68 341.05 L123.14 341.04 L122.61 341.04 L122.07 341.03 L121.53 341.02 L121 341.01 L120.46 341 L119.93 340.99 L119.4 340.99 L118.86 340.98 L118.33 340.97 L117.8 340.97 L117.27 340.96 L116.74 340.95 L116.2 340.95 L115.68 340.94 L115.15 340.94 L114.62 340.93 L114.09 340.93 L113.56 340.92 L113.03 340.92 L112.51 340.92 L111.98 340.91 L111.45 340.91 L110.93 340.91 L110.4 340.91 L109.88 340.91 L109.35 340.91 L108.83 340.91 L108.31 340.91 L107.78 340.91 L107.26 340.92 L106.74 340.92 L106.21 340.93 L105.69 340.93 L105.17 340.94 L104.65 340.95 L104.13 340.95 L103.61 340.96 L103.09 340.97 L102.57 340.99 L102.05 341 L101.53 341.01 L101.01 341.03 L100.49 341.05 L99.97 341.06 L99.45 341.08 L98.93 341.11 L98.42 341.13 L97.9 341.15 L97.38 341.18 L96.86 341.21 L96.35 341.24 L95.83 341.27 L95.31 341.31 L94.8 341.34 L94.28 341.38 L93.76 341.42 L93.25 341.47 L92.73 341.51 L92.22 341.56 L91.7 341.62 L91.19 341.67 L90.67 341.73 L90.16 341.79 L89.65 341.85 L89.13 341.92 L88.62 341.99 L88.11 342.06 L87.6 342.14 L87.08 342.22 L86.57 342.3 L86.06 342.39 L85.55 342.48 L85.04 342.57 L84.53 342.67 L84.02 342.78 L83.51 342.88 L83 342.99 L82.49 343.11 L81.99 343.23 L81.48 343.35 L80.97 343.48 L80.47 343.62 L79.96 343.75 L79.46 343.9 L78.96 344.04 L78.45 344.19 L77.95 344.35 L77.45 344.51 L76.95 344.68 L76.45 344.85 L75.96 345.02 L75.46 345.2 L74.96 345.39 L74.47 345.58 L73.97 345.77 L73.48 345.97 L72.99 346.17 L72.5 346.38" stroke="#7030A0" stroke-width="2.3" stroke-dasharray="7.41 2.47" stroke-dashoffset="2.83"/>
<path d="M255.17 511.5 L255.34 511.08 L255.49 510.65 L255.65 510.23 L255.79 509.81 L255.93 509.38 L256.06 508.95 L256.19 508.53 L256.32 508.1 L256.43 507.67 L256.55 507.24 L256.65 506.82 L256.75 506.39 L256.85 505.96 L256.94 505.53 L257.03 505.1 L257.12 504.67 L257.2 504.24 L257.27 503.81 L257.34 503.37 L257.41 502.94 L257.48 502.51 L257.54 502.08 L257.6 501.65 L257.65 501.21 L257.7 500.78 L257.75 500.35 L257.8 499.92 L257.84 499.48 L257.88 499.05 L257.92 498.61 L257.95 498.18 L257.99 497.75 L258.02 497.31 L258.05 496.88 L258.08 496.44 L258.1 496.01 L258.13 495.57 L258.15 495.14 L258.17 494.7 L258.19 494.27 L258.21 493.83 L258.23 493.39 L258.25 492.96 L258.26 492.52 L258.27 492.08 L258.29 491.65 L258.3 491.21 L258.31 490.77 L258.32 490.34 L258.33 489.9 L258.34 489.46 L258.34 489.02 L258.35 488.58 L258.36 488.14 L258.36 487.7 L258.37 487.26 L258.37 486.82 L258.38 486.38 L258.38 485.94 L258.38 485.5 L258.38 485.06 L258.39 484.62 L258.39 484.18 L258.39 483.74 L258.39 483.29 L258.39 482.85 L258.39 482.41 L258.39 481.97 L258.39 481.52 L258.39 481.08 L258.39 480.63 L258.39 480.19 L258.39 479.74 L258.38 479.3 L258.38 478.85 L258.38 478.4 L258.38 477.96 L258.38 477.51 L258.37 477.06 L258.37 476.61 L258.37 476.17 L258.36 475.72 L258.36 475.27 L258.36 474.82 L258.35 474.37 L258.35 473.91 L258.35 473.46 L258.34 473.01 L258.34 472.56 L258.34 472.1 L258.33 471.65 L258.33 471.2 L258.32 470.74 L258.32 470.29 L258.32 469.83 L258.31 469.37 L258.31 468.92 L258.3 468.46 L258.3 468 L258.29 467.54 L258.29 467.08 L258.29 466.62 L258.28 466.16 L258.28 465.7 L258.27 465.24 L258.27 464.77 L258.26 464.31 L258.26 463.85 L258.25 463.38 L258.25 462.92 L258.24 462.45 L258.24 461.98 L258.23 461.51 L258.23 461.05 L258.22 460.58 L258.22 460.11 L258.21 459.64 L258.21 459.17 L258.2 458.69 L258.2 458.22 L258.19 457.75 L258.19 457.27 L258.18 456.8 L258.18 456.32 L258.17 455.85 L258.17 455.37 L258.16 454.89 L258.16 454.41 L258.15 453.93 L258.15 453.45 L258.14 452.97 L258.14 452.48 L258.13 452 L258.13 451.52 L258.12 451.03 L258.12 450.55 L258.11 450.06 L258.11 449.57 L258.1 449.08 L258.1 448.59 L258.09 448.1 L258.08 447.61 L258.08 447.12 L258.07 446.62 L258.07 446.13 L258.06 445.63 L258.06 445.13 L258.05 444.64 L258.05 444.14 L258.04 443.64 L258.04 443.14 L258.03 442.63 L258.02 442.13 L258.02 441.63 L258.01 441.12 L258.01 440.61 L258 440.11 L258 439.6 L257.99 439.09 L257.99 438.58 L257.98 438.07 L257.97 437.55 L257.97 437.04 L257.96 436.52 L257.96 436 L257.95 435.49 L257.95 434.97 L257.94 434.45 L257.94 433.92 L257.93 433.4 L257.92 432.88 L257.92 432.35 L257.91 431.82 L257.91 431.3 L257.9 430.77 L257.89 430.24 L257.89 429.7 L257.88 429.17 L257.88 428.63 L257.87 428.1 L257.87 427.56 L257.86 427.02 L257.85 426.48 L257.85 425.94 L257.84 425.39 L257.84 424.85 L257.83 424.3 L257.82 423.76 L257.82 423.21 L257.81 422.65 L257.81 422.1 L257.8 421.55 L257.79 420.99 L257.79 420.44 L257.78 419.88 L257.78 419.32 L257.77 418.75 L257.76 418.19 L257.76 417.62 L257.75 417.06 L257.74 416.49 L257.74 415.92 L257.73 415.35 L257.73 414.77 L257.72 414.2 L257.71 413.62 L257.71 413.04 L257.7 412.46 L257.69 411.88 L257.69 411.29 L257.68 410.71 L257.67 410.12 L257.67 409.53 L257.66 408.94 L257.65 408.34 L257.65 407.75 L257.64 407.15 L257.63 406.55 L257.63 405.95 L257.62 405.34 L257.61 404.74 L257.61 404.13 L257.6 403.52 L257.59 402.91 L257.59 402.3 L257.58 401.68 L257.58 401.06 L257.57 400.44 L257.57 399.81 L257.56 399.19 L257.56 398.56 L257.56 397.93 L257.55 397.3 L257.55 396.66 L257.54 396.02 L257.54 395.39 L257.53 394.74 L257.53 394.1 L257.52 393.45 L257.51 392.8 L257.51 392.15 L257.5 391.5 L257.5 390.84 L257.49 390.19 L257.48 389.53 L257.48 388.86 L257.47 388.2 L257.46 387.53 L257.46 386.86 L257.45 386.19 L257.44 385.51 L257.43 384.83 L257.42 384.15 L257.41 383.47 L257.4 382.79 L257.39 382.1 L257.38 381.41 L257.37 380.72 L257.36 380.02 L257.34 379.33 L257.33 378.63 L257.32 377.93 L257.3 377.22 L257.28 376.52 L257.26 375.81 L257.24 375.1 L257.22 374.39 L257.2 373.68 L257.17 372.96 L257.14 372.25 L257.11 371.53 L257.08 370.81 L257.05 370.09 L257.01 369.37 L256.96 368.65 L256.92 367.93 L256.87 367.21 L256.81 366.5 L256.75 365.78 L256.68 365.06 L256.61 364.35 L256.53 363.64 L256.44 362.93 L256.34 362.22 L256.24 361.53 L256.12 360.83 L255.99 360.14 L255.85 359.46 L255.7 358.79 L255.53 358.13 L255.35 357.48 L255.15 356.84 L254.93 356.21 L254.69 355.6 L254.44 355 L254.16 354.42 L253.86 353.85 L253.54 353.3 L253.2 352.78 L252.83 352.27 L252.43 351.78 L252.02 351.32 L251.57 350.87 L251.11 350.45 L250.61 350.05 L250.1 349.67 L249.56 349.32 L249 348.98 L248.42 348.67 L247.81 348.37 L247.19 348.1 L246.55 347.84 L245.89 347.6 L245.22 347.38 L244.53 347.17 L243.83 346.98 L243.12 346.8 L242.4 346.63 L241.66 346.48 L240.92 346.33 L240.17 346.2 L239.41 346.08 L238.65 345.96 L237.89 345.85 L237.11 345.75 L236.34 345.66 L235.56 345.57 L234.78 345.49 L234 345.42 L233.21 345.34 L232.43 345.28 L231.64 345.21 L230.85 345.15 L230.07 345.1 L229.28 345.05 L228.49 345 L227.71 344.95 L226.92 344.9 L226.14 344.86 L225.36 344.82 L224.58 344.78 L223.8 344.74 L223.02 344.7 L222.25 344.67 L221.47 344.63 L220.7 344.6 L219.93 344.57 L219.17 344.54 L218.4 344.51 L217.64 344.48 L216.88 344.45 L216.12 344.42 L215.36 344.4 L214.61 344.37 L213.86 344.35 L213.11 344.32 L212.36 344.3 L211.62 344.27 L210.88 344.25 L210.14 344.22 L209.4 344.2 L208.66 344.18 L207.93 344.15 L207.2 344.13 L206.47 344.11 L205.75 344.09 L205.03 344.06 L204.31 344.04 L203.59 344.02 L202.87 344 L202.16 343.98 L201.45 343.96 L200.74 343.94 L200.03 343.91 L199.33 343.89 L198.62 343.88 L197.92 343.86 L197.22 343.84 L196.52 343.83 L195.83 343.81 L195.13 343.8 L194.44 343.78 L193.75 343.76 L193.06 343.75 L192.38 343.73 L191.69 343.72 L191.01 343.7 L190.33 343.69 L189.66 343.67 L188.98 343.66 L188.31 343.64 L187.64 343.62 L186.97 343.61 L186.3 343.59 L185.64 343.58 L184.97 343.56 L184.31 343.55 L183.65 343.53 L183 343.52 L182.34 343.5 L181.69 343.49 L181.04 343.48 L180.39 343.46 L179.74 343.45 L179.09 343.43 L178.45 343.42 L177.81 343.4 L177.16 343.39 L176.53 343.37 L175.89 343.36 L175.25 343.35 L174.62 343.33 L173.99 343.32 L173.35 343.3 L172.73 343.29 L172.1 343.27 L171.47 343.26 L170.85 343.25 L170.22 343.23 L169.6 343.22 L168.98 343.2 L168.37 343.19 L167.75 343.18 L167.13 343.16 L166.52 343.15 L165.91 343.13 L165.3 343.12 L164.69 343.11 L164.08 343.09 L163.47 343.08 L162.87 343.07 L162.27 343.05 L161.66 343.04 L161.06 343.03 L160.46 343.01 L159.87 343 L159.27 342.99 L158.67 342.97 L158.08 342.96 L157.49 342.95 L156.9 342.93 L156.31 342.92 L155.72 342.91 L155.13 342.89 L154.54 342.88 L153.96 342.87 L153.37 342.85 L152.79 342.84 L152.21 342.83 L151.63 342.81 L151.05 342.8 L150.47 342.79 L149.89 342.77 L149.32 342.76 L148.74 342.75 L148.17 342.74 L147.6 342.72 L147.03 342.71 L146.46 342.7 L145.89 342.69 L145.32 342.67 L144.75 342.66 L144.19 342.65 L143.62 342.63 L143.06 342.62 L142.49 342.61 L141.93 342.6 L141.37 342.58 L140.81 342.57 L140.25 342.56 L139.69 342.55 L139.14 342.53 L138.58 342.52 L138.02 342.51 L137.47 342.5 L136.92 342.49 L136.36 342.47 L135.81 342.46 L135.26 342.45 L134.71 342.44 L134.16 342.42 L133.61 342.41 L133.06 342.4 L132.52 342.39 L131.97 342.38 L131.43 342.37 L130.88 342.35 L130.34 342.34 L129.8 342.33 L129.25 342.32 L128.71 342.31 L128.17 342.3 L127.63 342.28 L127.09 342.27 L126.55 342.26 L126.02 342.25 L125.48 342.24 L124.94 342.23 L124.41 342.22 L123.87 342.21 L123.34 342.2 L122.8 342.18 L122.27 342.17 L121.74 342.16 L121.21 342.15 L120.68 342.14 L120.14 342.13 L119.61 342.12 L119.09 342.11 L118.56 342.1 L118.03 342.09 L117.5 342.08 L116.97 342.08 L116.45 342.07 L115.92 342.06 L115.39 342.05 L114.87 342.04 L114.35 342.03 L113.82 342.03 L113.3 342.02 L112.77 342.01 L112.25 342 L111.73 342 L111.21 341.99 L110.69 341.98 L110.17 341.98 L109.64 341.97 L109.12 341.97 L108.6 341.96 L108.09 341.96 L107.57 341.96 L107.05 341.95 L106.53 341.95 L106.01 341.95 L105.49 341.95 L104.98 341.95 L104.46 341.95 L103.94 341.95 L103.43 341.95 L102.91 341.95 L102.4 341.95 L101.88 341.96 L101.37 341.96 L100.85 341.97 L100.34 341.97 L99.82 341.98 L99.31 341.99 L98.79 342 L98.28 342.01 L97.77 342.02 L97.25 342.04 L96.74 342.05 L96.23 342.07 L95.72 342.09 L95.21 342.11 L94.69 342.13 L94.18 342.15 L93.67 342.18 L93.16 342.2 L92.65 342.23 L92.14 342.26 L91.63 342.3 L91.12 342.33 L90.61 342.37 L90.1 342.41 L89.59 342.46 L89.08 342.5 L88.57 342.55 L88.06 342.6 L87.55 342.66 L87.04 342.72 L86.53 342.78 L86.02 342.85 L85.52 342.92 L85.01 342.99 L84.5 343.07 L83.99 343.15 L83.49 343.23 L82.98 343.32 L82.48 343.41 L81.97 343.51 L81.47 343.62 L80.96 343.72 L80.46 343.84 L79.96 343.95 L79.45 344.08 L78.95 344.21 L78.45 344.34 L77.95 344.48 L77.45 344.62 L76.95 344.77 L76.45 344.93 L75.95 345.09 L75.46 345.26 L74.96 345.43 L74.47 345.61 L73.97 345.79 L73.48 345.98 L72.99 346.18 L72.5 346.38" stroke="#ED7D31" stroke-width="2.3" stroke-dasharray="19.76 7.41 2.47 7.41"/>
<path d="M255.17 511.5 L255.33 511.08 L255.47 510.65 L255.61 510.23 L255.75 509.81 L255.88 509.38 L256 508.95 L256.12 508.53 L256.23 508.1 L256.33 507.67 L256.43 507.25 L256.52 506.82 L256.61 506.39 L256.7 505.96 L256.77 505.53 L256.85 505.1 L256.92 504.67 L256.98 504.25 L257.05 503.82 L257.1 503.38 L257.16 502.95 L257.21 502.52 L257.26 502.09 L257.3 501.66 L257.34 501.23 L257.38 500.8 L257.42 500.37 L257.45 499.94 L257.48 499.5 L257.51 499.07 L257.54 498.64 L257.56 498.21 L257.58 497.78 L257.61 497.34 L257.63 496.91 L257.64 496.48 L257.66 496.04 L257.67 495.61 L257.69 495.18 L257.7 494.74 L257.71 494.31 L257.72 493.88 L257.73 493.44 L257.74 493.01 L257.75 492.57 L257.75 492.14 L257.76 491.7 L257.77 491.27 L257.77 490.83 L257.77 490.4 L257.78 489.96 L257.78 489.53 L257.78 489.09 L257.78 488.65 L257.79 488.21 L257.79 487.78 L257.79 487.34 L257.79 486.9 L257.79 486.46 L257.79 486.03 L257.79 485.59 L257.79 485.15 L257.78 484.71 L257.78 484.27 L257.78 483.83 L257.78 483.39 L257.78 482.95 L257.78 482.51 L257.77 482.06 L257.77 481.62 L257.77 481.18 L257.77 480.74 L257.76 480.29 L257.76 479.85 L257.76 479.41 L257.76 478.96 L257.75 478.52 L257.75 478.07 L257.75 477.63 L257.74 477.18 L257.74 476.73 L257.74 476.29 L257.73 475.84 L257.73 475.39 L257.72 474.94 L257.72 474.49 L257.72 474.04 L257.71 473.59 L257.71 473.14 L257.71 472.69 L257.7 472.24 L257.7 471.79 L257.69 471.33 L257.69 470.88 L257.69 470.43 L257.68 469.97 L257.68 469.52 L257.67 469.06 L257.67 468.6 L257.67 468.15 L257.66 467.69 L257.66 467.23 L257.65 466.77 L257.65 466.31 L257.65 465.85 L257.64 465.39 L257.64 464.93 L257.63 464.47 L257.63 464.01 L257.63 463.54 L257.62 463.08 L257.62 462.61 L257.61 462.15 L257.61 461.68 L257.6 461.22 L257.6 460.75 L257.6 460.28 L257.59 459.81 L257.59 459.34 L257.58 458.87 L257.58 458.4 L257.57 457.93 L257.57 457.45 L257.57 456.98 L257.56 456.51 L257.56 456.03 L257.55 455.55 L257.55 455.08 L257.54 454.6 L257.54 454.12 L257.54 453.64 L257.53 453.16 L257.53 452.68 L257.52 452.2 L257.52 451.71 L257.51 451.23 L257.51 450.74 L257.5 450.26 L257.5 449.77 L257.5 449.28 L257.49 448.8 L257.49 448.31 L257.48 447.82 L257.48 447.32 L257.47 446.83 L257.47 446.34 L257.46 445.84 L257.46 445.35 L257.46 444.85 L257.45 444.35 L257.45 443.85 L257.44 443.35 L257.44 442.85 L257.43 442.35 L257.43 441.85 L257.42 441.34 L257.42 440.84 L257.41 440.33 L257.41 439.83 L257.41 439.32 L257.4 438.81 L257.4 438.3 L257.39 437.78 L257.39 437.27 L257.38 436.76 L257.38 436.24 L257.37 435.72 L257.37 435.21 L257.36 434.69 L257.36 434.17 L257.35 433.64 L257.35 433.12 L257.34 432.6 L257.34 432.07 L257.33 431.54 L257.33 431.01 L257.33 430.49 L257.32 429.95 L257.32 429.42 L257.31 428.89 L257.31 428.35 L257.3 427.82 L257.3 427.28 L257.29 426.74 L257.29 426.2 L257.28 425.65 L257.28 425.11 L257.27 424.57 L257.27 424.02 L257.26 423.47 L257.26 422.92 L257.25 422.37 L257.25 421.82 L257.24 421.26 L257.24 420.71 L257.23 420.15 L257.23 419.59 L257.22 419.03 L257.22 418.47 L257.21 417.9 L257.21 417.34 L257.2 416.77 L257.2 416.2 L257.19 415.63 L257.18 415.06 L257.18 414.48 L257.17 413.9 L257.17 413.33 L257.16 412.75 L257.16 412.17 L257.15 411.58 L257.15 411 L257.14 410.41 L257.14 409.82 L257.13 409.23 L257.13 408.64 L257.12 408.04 L257.12 407.45 L257.11 406.85 L257.1 406.25 L257.1 405.64 L257.09 405.04 L257.09 404.43 L257.08 403.82 L257.08 403.21 L257.07 402.6 L257.07 401.99 L257.06 401.37 L257.05 400.75 L257.05 400.13 L257.04 399.5 L257.04 398.88 L257.03 398.25 L257.03 397.62 L257.02 396.99 L257.01 396.35 L257.01 395.72 L257 395.08 L257 394.44 L256.99 393.79 L256.98 393.14 L256.98 392.5 L256.97 391.84 L256.97 391.19 L256.96 390.53 L256.95 389.88 L256.95 389.21 L256.94 388.55 L256.93 387.88 L256.93 387.22 L256.92 386.54 L256.91 385.87 L256.9 385.19 L256.9 384.52 L256.89 383.83 L256.88 383.15 L256.87 382.46 L256.87 381.77 L256.86 381.08 L256.85 380.39 L256.84 379.69 L256.83 378.99 L256.82 378.29 L256.81 377.58 L256.79 376.87 L256.78 376.16 L256.77 375.45 L256.75 374.74 L256.74 374.02 L256.72 373.3 L256.7 372.58 L256.68 371.86 L256.66 371.13 L256.64 370.41 L256.61 369.68 L256.58 368.95 L256.55 368.22 L256.51 367.49 L256.47 366.76 L256.43 366.03 L256.38 365.3 L256.32 364.58 L256.26 363.85 L256.19 363.13 L256.12 362.41 L256.03 361.69 L255.94 360.98 L255.83 360.28 L255.71 359.58 L255.58 358.89 L255.43 358.21 L255.27 357.54 L255.09 356.89 L254.89 356.25 L254.67 355.62 L254.43 355.01 L254.16 354.42 L253.87 353.84 L253.55 353.29 L253.21 352.76 L252.84 352.26 L252.44 351.78 L252.01 351.32 L251.56 350.89 L251.07 350.48 L250.56 350.1 L250.02 349.75 L249.45 349.42 L248.86 349.11 L248.24 348.83 L247.6 348.57 L246.94 348.33 L246.26 348.11 L245.56 347.91 L244.85 347.73 L244.12 347.57 L243.37 347.42 L242.62 347.28 L241.86 347.15 L241.08 347.04 L240.3 346.94 L239.52 346.84 L238.72 346.76 L237.93 346.68 L237.13 346.61 L236.33 346.55 L235.52 346.49 L234.72 346.43 L233.91 346.38 L233.1 346.33 L232.3 346.29 L231.49 346.25 L230.69 346.21 L229.88 346.18 L229.08 346.14 L228.28 346.11 L227.48 346.08 L226.68 346.05 L225.89 346.02 L225.09 346 L224.3 345.97 L223.51 345.95 L222.73 345.92 L221.94 345.9 L221.16 345.88 L220.39 345.85 L219.61 345.83 L218.84 345.81 L218.07 345.79 L217.3 345.77 L216.54 345.75 L215.77 345.73 L215.01 345.71 L214.26 345.69 L213.5 345.67 L212.75 345.65 L212 345.63 L211.26 345.61 L210.51 345.6 L209.77 345.58 L209.04 345.56 L208.3 345.54 L207.57 345.52 L206.84 345.51 L206.11 345.49 L205.38 345.47 L204.66 345.45 L203.94 345.43 L203.22 345.42 L202.51 345.4 L201.79 345.38 L201.08 345.37 L200.38 345.35 L199.67 345.33 L198.97 345.31 L198.27 345.3 L197.57 345.28 L196.87 345.26 L196.18 345.25 L195.48 345.23 L194.79 345.21 L194.11 345.2 L193.42 345.18 L192.74 345.16 L192.06 345.15 L191.38 345.13 L190.7 345.11 L190.03 345.1 L189.35 345.08 L188.68 345.07 L188.01 345.05 L187.35 345.03 L186.68 345.02 L186.02 345 L185.36 344.99 L184.7 344.97 L184.04 344.95 L183.39 344.94 L182.74 344.92 L182.08 344.91 L181.44 344.89 L180.79 344.88 L180.14 344.86 L179.5 344.84 L178.86 344.83 L178.22 344.81 L177.58 344.8 L176.94 344.78 L176.31 344.77 L175.67 344.75 L175.04 344.74 L174.41 344.72 L173.78 344.71 L173.16 344.69 L172.53 344.68 L171.91 344.66 L171.29 344.65 L170.67 344.63 L170.05 344.62 L169.43 344.6 L168.81 344.59 L168.2 344.57 L167.59 344.56 L166.98 344.54 L166.37 344.53 L165.76 344.51 L165.15 344.5 L164.55 344.48 L163.94 344.47 L163.34 344.45 L162.74 344.44 L162.14 344.43 L161.54 344.41 L160.95 344.4 L160.35 344.38 L159.76 344.37 L159.16 344.35 L158.57 344.34 L157.98 344.33 L157.39 344.31 L156.81 344.3 L156.22 344.28 L155.63 344.27 L155.05 344.26 L154.47 344.24 L153.89 344.23 L153.31 344.21 L152.73 344.2 L152.15 344.19 L151.57 344.17 L151 344.16 L150.42 344.14 L149.85 344.13 L149.28 344.12 L148.71 344.1 L148.14 344.09 L147.57 344.07 L147 344.06 L146.44 344.05 L145.87 344.03 L145.31 344.02 L144.74 344.01 L144.18 343.99 L143.62 343.98 L143.06 343.97 L142.5 343.95 L141.94 343.94 L141.39 343.93 L140.83 343.91 L140.27 343.9 L139.72 343.89 L139.17 343.87 L138.61 343.86 L138.06 343.85 L137.51 343.83 L136.96 343.82 L136.41 343.81 L135.86 343.79 L135.32 343.78 L134.77 343.77 L134.23 343.75 L133.68 343.74 L133.14 343.73 L132.59 343.71 L132.05 343.7 L131.51 343.69 L130.97 343.67 L130.43 343.66 L129.89 343.65 L129.35 343.64 L128.82 343.62 L128.28 343.61 L127.74 343.6 L127.21 343.58 L126.67 343.57 L126.14 343.56 L125.61 343.55 L125.07 343.53 L124.54 343.52 L124.01 343.51 L123.48 343.5 L122.95 343.48 L122.42 343.47 L121.89 343.46 L121.37 343.45 L120.84 343.43 L120.31 343.42 L119.79 343.41 L119.26 343.4 L118.74 343.38 L118.21 343.37 L117.69 343.36 L117.17 343.35 L116.64 343.33 L116.12 343.32 L115.6 343.31 L115.08 343.3 L114.56 343.29 L114.04 343.27 L113.52 343.26 L113 343.25 L112.48 343.24 L111.96 343.23 L111.45 343.22 L110.93 343.21 L110.41 343.19 L109.9 343.18 L109.38 343.17 L108.87 343.16 L108.35 343.15 L107.84 343.14 L107.32 343.13 L106.81 343.12 L106.3 343.11 L105.78 343.1 L105.27 343.09 L104.76 343.08 L104.25 343.08 L103.74 343.07 L103.22 343.06 L102.71 343.05 L102.2 343.04 L101.69 343.04 L101.18 343.03 L100.67 343.03 L100.16 343.02 L99.66 343.02 L99.15 343.01 L98.64 343.01 L98.13 343.01 L97.62 343 L97.11 343 L96.61 343 L96.1 343 L95.59 343.01 L95.08 343.01 L94.58 343.01 L94.07 343.02 L93.56 343.03 L93.06 343.03 L92.55 343.04 L92.05 343.05 L91.54 343.07 L91.03 343.08 L90.53 343.1 L90.02 343.12 L89.52 343.14 L89.01 343.16 L88.51 343.19 L88 343.22 L87.5 343.25 L86.99 343.28 L86.49 343.32 L85.98 343.36 L85.48 343.41 L84.97 343.46 L84.47 343.51 L83.97 343.56 L83.46 343.62 L82.96 343.69 L82.46 343.76 L81.95 343.83 L81.45 343.91 L80.95 344 L80.45 344.09 L79.94 344.18 L79.44 344.28 L78.94 344.39 L78.44 344.5 L77.94 344.62 L77.45 344.75 L76.95 344.88 L76.45 345.02 L75.95 345.16 L75.46 345.32 L74.96 345.48 L74.47 345.64 L73.97 345.82 L73.48 346 L72.99 346.19 L72.5 346.38" stroke="#000000" stroke-width="2.6"/>
</g>
<rect x="72.5" y="299.4" width="240.2" height="212.1" fill="none" stroke="#3a3a3a" stroke-width="1"/>
<path d="M72.5 511.5v-5.2M72.5 511.5h5.2M132.5 511.5v-5.2M72.5 458.5h5.2M192.5 511.5v-5.2M72.5 405.5h5.2M252.5 511.5v-5.2M72.5 352.5h5.2M312.5 511.5v-5.2M72.5 299.5h5.2" stroke="#3a3a3a" stroke-width="1" fill="none"/>
<text transform="translate(57.5 517.3) scale(1 1.05)" font-size="17" text-anchor="end">0</text>
<text transform="translate(72.5 538.7) scale(1 1.05)" font-size="17" text-anchor="middle">0</text>
<text transform="translate(57.5 464.27) scale(1 1.05)" font-size="17" text-anchor="end">100</text>
<text transform="translate(132.55 538.7) scale(1 1.05)" font-size="17" text-anchor="middle">100</text>
<text transform="translate(57.5 411.25) scale(1 1.05)" font-size="17" text-anchor="end">200</text>
<text transform="translate(192.6 538.7) scale(1 1.05)" font-size="17" text-anchor="middle">200</text>
<text transform="translate(57.5 358.22) scale(1 1.05)" font-size="17" text-anchor="end">300</text>
<text transform="translate(252.65 538.7) scale(1 1.05)" font-size="17" text-anchor="middle">300</text>
<text transform="translate(57.5 305.2) scale(1 1.05)" font-size="17" text-anchor="end">400</text>
<text transform="translate(312.7 538.7) scale(1 1.05)" font-size="17" text-anchor="middle">400</text>
<circle cx="72.3" cy="346.4" r="2.75" fill="none" stroke="#FF0000" stroke-width="2.6"/>
<circle cx="167.7" cy="340.4" r="2.75" fill="none" stroke="#FF0000" stroke-width="2.6"/>
<circle cx="252.1" cy="351.4" r="2.75" fill="none" stroke="#FF0000" stroke-width="2.6"/>
<circle cx="262.8" cy="426.8" r="2.75" fill="none" stroke="#FF0000" stroke-width="2.6"/>
<circle cx="255.1" cy="511.7" r="2.75" fill="none" stroke="#FF0000" stroke-width="2.6"/>
<text x="4.8" y="305" font-size="20" font-weight="bold">c</text>
<text transform="translate(257.4 318.1) scale(1 1.05)" font-size="17">180°C</text>
<g font-size="18"><text x="159.06" y="559" font-style="italic" stroke="#000" stroke-width="0.15">σ</text><text x="167.56" y="561.9" font-size="13" letter-spacing="1.8" stroke="#000" stroke-width="0.25">11</text><text x="185.81" y="559" font-size="17.6" letter-spacing="0.25">(MPa)</text></g>
<g font-size="18" transform="translate(19.8 453.4) rotate(-90)"><text x="-0.54" y="0" font-style="italic" stroke="#000" stroke-width="0.15">σ</text><text x="8.83" y="2.9" font-size="13" letter-spacing="0.7" stroke="#000" stroke-width="0.25">22</text><text x="28.0" y="0" font-size="17.6" letter-spacing="0.25">(MPa)</text></g>
<g transform="translate(0.9 284.3)">
<circle cx="108" cy="121.4" r="3.7" fill="none" stroke="#FF0000" stroke-width="2.1"/>
<text transform="translate(128 126.5) scale(1 1.05)" font-size="17">Exp.</text>
<text transform="translate(133 145.8) scale(1 1.05)" font-size="17" font-style="italic">m</text>
<path d="M91.7 160.7H123.2" stroke="#0070C0" stroke-width="2.1" stroke-dasharray="8.40 6.30 2.10 6.30"/>
<text transform="translate(140.3 166.5) scale(1 1.05)" font-size="17" text-anchor="middle">6</text>
<path d="M158.7 160.7H191.5" stroke="#7030A0" stroke-width="2.1" stroke-dasharray="6.30 2.10"/>
<text transform="translate(199 166.5) scale(1 1.05)" font-size="17" text-anchor="start">18</text>
<path d="M91.7 179.1H123.2" stroke="#00B050" stroke-width="2.1" stroke-dasharray="8.40 6.30"/>
<text transform="translate(140.3 184.9) scale(1 1.05)" font-size="17" text-anchor="middle">10</text>
<path d="M158.7 179.1H191.5" stroke="#ED7D31" stroke-width="2.1" stroke-dasharray="16.8 6.3 2.1 30"/>
<text transform="translate(199 184.9) scale(1 1.05)" font-size="17" text-anchor="start">24</text>
<path d="M91.7 197.9H123.2" stroke="#FFC000" stroke-width="2.1" stroke-dasharray="16.80 6.30 2.10 6.30 2.10 6.30"/>
<text transform="translate(140.3 203.7) scale(1 1.05)" font-size="17" text-anchor="middle">14</text>
<path d="M158.7 197.9H191.5" stroke="#000000" stroke-width="2.1"/>
<text transform="translate(199 203.7) scale(1 1.05)" font-size="17" text-anchor="start">26</text>
</g>
<g fill="none" stroke-linejoin="round">
<path d="M606.55 510.5 L606.75 510.07 L606.96 509.63 L607.16 509.2 L607.36 508.77 L607.56 508.33 L607.76 507.89 L607.96 507.45 L608.15 507.02 L608.35 506.58 L608.54 506.14 L608.73 505.69 L608.92 505.25 L609.11 504.81 L609.29 504.36 L609.48 503.92 L609.66 503.47 L609.84 503.03 L610.02 502.58 L610.2 502.13 L610.38 501.68 L610.56 501.23 L610.73 500.78 L610.9 500.33 L611.07 499.88 L611.24 499.42 L611.41 498.97 L611.58 498.51 L611.74 498.06 L611.9 497.6 L612.07 497.14 L612.23 496.68 L612.38 496.23 L612.54 495.77 L612.7 495.3 L612.85 494.84 L613 494.38 L613.15 493.92 L613.3 493.45 L613.45 492.99 L613.59 492.52 L613.73 492.06 L613.87 491.59 L614.01 491.12 L614.15 490.65 L614.29 490.19 L614.42 489.72 L614.56 489.25 L614.69 488.77 L614.82 488.3 L614.95 487.83 L615.07 487.36 L615.2 486.88 L615.32 486.41 L615.44 485.93 L615.56 485.45 L615.68 484.98 L615.8 484.5 L615.91 484.02 L616.03 483.54 L616.14 483.06 L616.25 482.58 L616.36 482.1 L616.46 481.62 L616.57 481.14 L616.67 480.65 L616.77 480.17 L616.87 479.69 L616.97 479.2 L617.07 478.72 L617.16 478.23 L617.26 477.74 L617.35 477.25 L617.44 476.77 L617.53 476.28 L617.61 475.79 L617.7 475.3 L617.78 474.81 L617.86 474.32 L617.94 473.82 L618.02 473.33 L618.1 472.84 L618.18 472.34 L618.25 471.85 L618.32 471.36 L618.4 470.86 L618.46 470.36 L618.53 469.87 L618.6 469.37 L618.67 468.87 L618.73 468.37 L618.79 467.87 L618.85 467.37 L618.91 466.87 L618.97 466.37 L619.03 465.87 L619.08 465.37 L619.13 464.87 L619.19 464.36 L619.24 463.86 L619.29 463.35 L619.33 462.85 L619.38 462.34 L619.42 461.84 L619.47 461.33 L619.51 460.82 L619.55 460.31 L619.59 459.8 L619.63 459.29 L619.67 458.78 L619.7 458.27 L619.74 457.76 L619.77 457.25 L619.8 456.74 L619.83 456.22 L619.86 455.71 L619.89 455.19 L619.92 454.68 L619.94 454.16 L619.97 453.65 L619.99 453.13 L620.01 452.61 L620.04 452.09 L620.06 451.57 L620.07 451.05 L620.09 450.53 L620.11 450.01 L620.12 449.49 L620.14 448.97 L620.15 448.45 L620.16 447.92 L620.17 447.4 L620.18 446.87 L620.19 446.35 L620.2 445.82 L620.21 445.29 L620.21 444.76 L620.22 444.24 L620.22 443.71 L620.22 443.18 L620.23 442.64 L620.23 442.11 L620.23 441.58 L620.23 441.05 L620.22 440.51 L620.22 439.98 L620.22 439.44 L620.21 438.91 L620.21 438.37 L620.2 437.83 L620.19 437.29 L620.18 436.75 L620.17 436.21 L620.16 435.67 L620.15 435.13 L620.14 434.59 L620.13 434.04 L620.11 433.5 L620.1 432.95 L620.08 432.41 L620.07 431.86 L620.05 431.31 L620.03 430.76 L620.01 430.21 L619.99 429.66 L619.97 429.11 L619.95 428.56 L619.93 428 L619.91 427.45 L619.88 426.89 L619.86 426.34 L619.83 425.78 L619.81 425.22 L619.78 424.66 L619.75 424.1 L619.72 423.54 L619.69 422.98 L619.66 422.42 L619.63 421.85 L619.6 421.29 L619.57 420.72 L619.54 420.15 L619.5 419.59 L619.47 419.02 L619.43 418.45 L619.4 417.87 L619.36 417.3 L619.32 416.73 L619.28 416.15 L619.24 415.58 L619.2 415 L619.16 414.43 L619.12 413.85 L619.08 413.27 L619.03 412.69 L618.99 412.1 L618.94 411.52 L618.9 410.94 L618.85 410.35 L618.8 409.77 L618.75 409.18 L618.7 408.59 L618.65 408 L618.6 407.41 L618.54 406.82 L618.49 406.23 L618.44 405.63 L618.38 405.04 L618.32 404.44 L618.27 403.84 L618.21 403.25 L618.15 402.65 L618.08 402.05 L618.02 401.45 L617.96 400.84 L617.89 400.24 L617.83 399.63 L617.76 399.03 L617.69 398.42 L617.62 397.82 L617.55 397.21 L617.48 396.6 L617.41 395.99 L617.33 395.37 L617.25 394.76 L617.18 394.15 L617.1 393.53 L617.02 392.92 L616.93 392.3 L616.85 391.69 L616.76 391.07 L616.68 390.45 L616.59 389.83 L616.5 389.21 L616.4 388.59 L616.31 387.97 L616.21 387.34 L616.12 386.72 L616.02 386.1 L615.91 385.47 L615.81 384.85 L615.7 384.22 L615.59 383.59 L615.48 382.97 L615.37 382.34 L615.25 381.71 L615.14 381.08 L615.02 380.45 L614.89 379.82 L614.77 379.2 L614.64 378.57 L614.51 377.94 L614.38 377.31 L614.24 376.68 L614.1 376.05 L613.96 375.42 L613.81 374.79 L613.67 374.16 L613.52 373.53 L613.36 372.9 L613.2 372.27 L613.04 371.65 L612.88 371.02 L612.71 370.39 L612.54 369.76 L612.36 369.14 L612.18 368.51 L612 367.89 L611.81 367.27 L611.62 366.64 L611.43 366.02 L611.23 365.4 L611.02 364.79 L610.82 364.17 L610.6 363.55 L610.39 362.94 L610.17 362.33 L609.94 361.72 L609.71 361.11 L609.47 360.5 L609.23 359.9 L608.99 359.29 L608.74 358.69 L608.48 358.09 L608.22 357.5 L607.95 356.91 L607.68 356.32 L607.41 355.73 L607.12 355.14 L606.83 354.56 L606.54 353.98 L606.24 353.41 L605.93 352.84 L605.62 352.27 L605.3 351.7 L604.98 351.14 L604.65 350.58 L604.31 350.03 L603.97 349.48 L603.62 348.94 L603.27 348.4 L602.91 347.86 L602.54 347.33 L602.16 346.8 L601.78 346.28 L601.39 345.76 L601 345.24 L600.6 344.74 L600.19 344.23 L599.78 343.74 L599.35 343.24 L598.93 342.76 L598.49 342.28 L598.05 341.8 L597.6 341.33 L597.14 340.86 L596.68 340.41 L596.21 339.95 L595.74 339.51 L595.25 339.07 L594.76 338.63 L594.27 338.2 L593.76 337.78 L593.25 337.37 L592.74 336.96 L592.21 336.55 L591.68 336.16 L591.15 335.77 L590.61 335.38 L590.06 335.01 L589.5 334.64 L588.94 334.27 L588.37 333.92 L587.8 333.57 L587.22 333.22 L586.63 332.89 L586.04 332.56 L585.44 332.23 L584.84 331.92 L584.23 331.61 L583.61 331.31 L582.99 331.01 L582.37 330.72 L581.74 330.44 L581.1 330.16 L580.46 329.89 L579.81 329.63 L579.16 329.37 L578.51 329.12 L577.85 328.87 L577.18 328.64 L576.51 328.41 L575.84 328.18 L575.16 327.96 L574.48 327.75 L573.8 327.54 L573.11 327.34 L572.42 327.15 L571.72 326.96 L571.02 326.78 L570.32 326.6 L569.61 326.43 L568.9 326.26 L568.19 326.1 L567.48 325.95 L566.76 325.8 L566.04 325.65 L565.32 325.51 L564.59 325.38 L563.87 325.25 L563.14 325.13 L562.41 325.01 L561.67 324.9 L560.94 324.79 L560.2 324.68 L559.46 324.58 L558.72 324.49 L557.98 324.4 L557.24 324.31 L556.5 324.23 L555.75 324.15 L555.01 324.07 L554.26 324 L553.51 323.94 L552.77 323.87 L552.02 323.82 L551.27 323.76 L550.52 323.71 L549.77 323.66 L549.02 323.62 L548.27 323.58 L547.52 323.54 L546.77 323.51 L546.02 323.47 L545.26 323.45 L544.51 323.42 L543.76 323.4 L543.01 323.38 L542.26 323.36 L541.51 323.35 L540.76 323.34 L540.01 323.33 L539.27 323.33 L538.52 323.32 L537.77 323.32 L537.02 323.33 L536.28 323.33 L535.53 323.34 L534.79 323.35 L534.04 323.36 L533.3 323.37 L532.56 323.39 L531.82 323.4 L531.07 323.42 L530.34 323.45 L529.6 323.47 L528.86 323.5 L528.12 323.52 L527.39 323.55 L526.65 323.58 L525.92 323.62 L525.19 323.65 L524.46 323.69 L523.73 323.72 L523 323.76 L522.27 323.81 L521.55 323.85 L520.82 323.89 L520.1 323.94 L519.38 323.98 L518.66 324.03 L517.94 324.08 L517.22 324.13 L516.5 324.19 L515.79 324.24 L515.07 324.29 L514.36 324.35 L513.65 324.41 L512.94 324.47 L512.23 324.53 L511.52 324.59 L510.82 324.65 L510.11 324.71 L509.41 324.78 L508.71 324.85 L508.01 324.91 L507.31 324.98 L506.61 325.05 L505.92 325.12 L505.23 325.19 L504.53 325.26 L503.84 325.34 L503.15 325.41 L502.46 325.49 L501.78 325.56 L501.09 325.64 L500.41 325.72 L499.73 325.8 L499.04 325.88 L498.36 325.96 L497.69 326.04 L497.01 326.12 L496.34 326.2 L495.66 326.29 L494.99 326.37 L494.32 326.46 L493.65 326.55 L492.98 326.64 L492.31 326.72 L491.65 326.81 L490.99 326.91 L490.32 327 L489.66 327.09 L489 327.18 L488.35 327.28 L487.69 327.37 L487.03 327.47 L486.38 327.56 L485.73 327.66 L485.08 327.76 L484.43 327.86 L483.78 327.96 L483.13 328.06 L482.49 328.16 L481.85 328.26 L481.2 328.37 L480.56 328.47 L479.92 328.57 L479.28 328.68 L478.65 328.79 L478.01 328.89 L477.38 329 L476.74 329.11 L476.11 329.22 L475.48 329.33 L474.85 329.44 L474.23 329.55 L473.6 329.67 L472.97 329.78 L472.35 329.89 L471.73 330.01 L471.11 330.13 L470.49 330.24 L469.87 330.36 L469.25 330.48 L468.64 330.6 L468.02 330.72 L467.41 330.84 L466.8 330.96 L466.19 331.08 L465.58 331.21 L464.97 331.33 L464.36 331.46 L463.76 331.58 L463.16 331.71 L462.55 331.84 L461.95 331.96 L461.35 332.09 L460.75 332.22 L460.15 332.35 L459.56 332.49 L458.96 332.62 L458.37 332.75 L457.78 332.89 L457.19 333.02 L456.6 333.16 L456.01 333.29 L455.42 333.43 L454.83 333.57 L454.25 333.71 L453.66 333.85 L453.08 333.99 L452.5 334.13 L451.92 334.27 L451.34 334.41 L450.76 334.56 L450.19 334.7 L449.61 334.85 L449.04 334.99 L448.46 335.14 L447.89 335.29 L447.32 335.43 L446.75 335.58 L446.19 335.73 L445.62 335.89 L445.05 336.04 L444.49 336.19 L443.93 336.34 L443.36 336.5 L442.8 336.65 L442.24 336.81 L441.69 336.96 L441.13 337.12 L440.57 337.28 L440.02 337.44 L439.47 337.6 L438.91 337.76 L438.36 337.92 L437.81 338.08 L437.26 338.25 L436.72 338.41 L436.17 338.57 L435.63 338.74 L435.08 338.9 L434.54 339.07 L434 339.24 L433.46 339.41 L432.92 339.58 L432.38 339.75 L431.85 339.92 L431.31 340.09 L430.78 340.26 L430.24 340.43 L429.71 340.61 L429.18 340.78 L428.65 340.95 L428.12 341.13 L427.6 341.31 L427.07 341.48 L426.55 341.66 L426.02 341.84 L425.5 342.02 L424.98 342.2 L424.46 342.38 L423.94 342.56 L423.42 342.74 L422.91 342.93 L422.39 343.11 L421.88 343.29 L421.36 343.48 L420.85 343.67 L420.34 343.85 L419.83 344.04 L419.32 344.23 L418.82 344.41 L418.31 344.6 L417.81 344.79 L417.3 344.98 L416.8 345.17 L416.3 345.37 L415.8 345.56" stroke="#0070C0" stroke-width="2.3" stroke-dasharray="9.88 7.41 2.47 7.41" stroke-dashoffset="3.23"/>
<path d="M606.55 510.5 L606.74 510.07 L606.92 509.63 L607.1 509.2 L607.28 508.77 L607.45 508.33 L607.63 507.89 L607.8 507.46 L607.96 507.02 L608.13 506.58 L608.29 506.14 L608.45 505.7 L608.61 505.26 L608.76 504.82 L608.91 504.38 L609.06 503.93 L609.21 503.49 L609.36 503.05 L609.5 502.6 L609.64 502.16 L609.77 501.71 L609.91 501.26 L610.04 500.82 L610.17 500.37 L610.3 499.92 L610.42 499.47 L610.54 499.02 L610.66 498.57 L610.78 498.12 L610.89 497.67 L611 497.22 L611.11 496.76 L611.22 496.31 L611.33 495.86 L611.43 495.4 L611.53 494.95 L611.63 494.49 L611.73 494.04 L611.82 493.58 L611.91 493.13 L612 492.67 L612.09 492.21 L612.17 491.75 L612.26 491.3 L612.34 490.84 L612.42 490.38 L612.49 489.92 L612.57 489.46 L612.64 489 L612.71 488.54 L612.78 488.08 L612.85 487.61 L612.92 487.15 L612.98 486.69 L613.04 486.23 L613.1 485.76 L613.16 485.3 L613.22 484.84 L613.27 484.37 L613.33 483.91 L613.38 483.44 L613.43 482.97 L613.48 482.51 L613.52 482.04 L613.57 481.58 L613.61 481.11 L613.66 480.64 L613.7 480.17 L613.74 479.7 L613.78 479.23 L613.81 478.77 L613.85 478.3 L613.88 477.83 L613.92 477.36 L613.95 476.88 L613.98 476.41 L614.01 475.94 L614.04 475.47 L614.06 475 L614.09 474.52 L614.11 474.05 L614.14 473.58 L614.16 473.1 L614.18 472.63 L614.2 472.15 L614.22 471.68 L614.24 471.2 L614.26 470.72 L614.28 470.25 L614.29 469.77 L614.31 469.29 L614.32 468.81 L614.34 468.33 L614.35 467.85 L614.36 467.37 L614.37 466.89 L614.38 466.41 L614.39 465.93 L614.4 465.45 L614.41 464.96 L614.41 464.48 L614.42 464 L614.43 463.51 L614.43 463.03 L614.44 462.54 L614.44 462.06 L614.45 461.57 L614.45 461.08 L614.45 460.59 L614.45 460.11 L614.46 459.62 L614.46 459.13 L614.46 458.64 L614.46 458.15 L614.46 457.65 L614.45 457.16 L614.45 456.67 L614.45 456.17 L614.45 455.68 L614.45 455.18 L614.44 454.69 L614.44 454.19 L614.44 453.7 L614.43 453.2 L614.43 452.7 L614.42 452.2 L614.42 451.7 L614.41 451.2 L614.41 450.7 L614.4 450.19 L614.39 449.69 L614.39 449.18 L614.38 448.68 L614.37 448.17 L614.36 447.67 L614.36 447.16 L614.35 446.65 L614.34 446.14 L614.33 445.63 L614.32 445.12 L614.31 444.61 L614.3 444.09 L614.29 443.58 L614.28 443.07 L614.27 442.55 L614.26 442.03 L614.25 441.52 L614.24 441 L614.23 440.48 L614.22 439.96 L614.21 439.43 L614.2 438.91 L614.19 438.39 L614.18 437.86 L614.16 437.34 L614.15 436.81 L614.14 436.28 L614.13 435.75 L614.12 435.22 L614.1 434.69 L614.09 434.16 L614.08 433.63 L614.06 433.09 L614.05 432.56 L614.04 432.02 L614.03 431.48 L614.01 430.94 L614 430.4 L613.98 429.86 L613.97 429.32 L613.96 428.77 L613.94 428.23 L613.93 427.68 L613.92 427.13 L613.9 426.58 L613.89 426.03 L613.87 425.48 L613.86 424.93 L613.84 424.37 L613.83 423.81 L613.81 423.26 L613.8 422.7 L613.78 422.14 L613.77 421.58 L613.75 421.01 L613.74 420.45 L613.72 419.88 L613.7 419.32 L613.69 418.75 L613.67 418.18 L613.66 417.61 L613.64 417.03 L613.62 416.46 L613.61 415.88 L613.59 415.31 L613.57 414.73 L613.55 414.15 L613.54 413.56 L613.52 412.98 L613.5 412.4 L613.48 411.81 L613.47 411.22 L613.45 410.63 L613.43 410.04 L613.41 409.44 L613.39 408.85 L613.37 408.25 L613.35 407.65 L613.33 407.05 L613.31 406.45 L613.29 405.85 L613.27 405.25 L613.25 404.64 L613.23 404.03 L613.21 403.42 L613.19 402.81 L613.16 402.19 L613.14 401.58 L613.12 400.96 L613.09 400.34 L613.07 399.72 L613.04 399.1 L613.02 398.48 L612.99 397.85 L612.97 397.23 L612.94 396.6 L612.91 395.97 L612.88 395.33 L612.86 394.7 L612.83 394.06 L612.8 393.43 L612.76 392.79 L612.73 392.15 L612.7 391.5 L612.67 390.86 L612.63 390.21 L612.6 389.57 L612.56 388.92 L612.52 388.27 L612.48 387.61 L612.44 386.96 L612.4 386.31 L612.36 385.65 L612.31 384.99 L612.27 384.33 L612.22 383.67 L612.17 383.01 L612.12 382.34 L612.07 381.68 L612.01 381.01 L611.96 380.35 L611.9 379.68 L611.84 379.01 L611.77 378.34 L611.71 377.67 L611.64 377 L611.57 376.33 L611.5 375.65 L611.42 374.98 L611.34 374.31 L611.26 373.63 L611.18 372.96 L611.09 372.28 L610.99 371.61 L610.9 370.94 L610.8 370.26 L610.69 369.59 L610.59 368.92 L610.47 368.24 L610.36 367.57 L610.24 366.9 L610.11 366.23 L609.98 365.57 L609.84 364.9 L609.7 364.24 L609.55 363.58 L609.39 362.92 L609.23 362.26 L609.06 361.6 L608.89 360.95 L608.71 360.3 L608.52 359.66 L608.33 359.02 L608.12 358.38 L607.91 357.74 L607.69 357.11 L607.47 356.49 L607.23 355.87 L606.99 355.25 L606.73 354.65 L606.47 354.04 L606.2 353.44 L605.91 352.85 L605.62 352.27 L605.32 351.69 L605.01 351.12 L604.68 350.56 L604.35 350 L604.01 349.45 L603.65 348.91 L603.29 348.38 L602.91 347.86 L602.52 347.34 L602.12 346.84 L601.71 346.34 L601.28 345.86 L600.85 345.38 L600.4 344.91 L599.94 344.46 L599.47 344.01 L598.99 343.57 L598.5 343.15 L597.99 342.73 L597.48 342.33 L596.95 341.93 L596.41 341.55 L595.86 341.18 L595.3 340.81 L594.73 340.46 L594.15 340.12 L593.56 339.79 L592.96 339.47 L592.34 339.16 L591.72 338.86 L591.09 338.57 L590.45 338.29 L589.8 338.02 L589.15 337.76 L588.48 337.51 L587.81 337.27 L587.13 337.04 L586.44 336.82 L585.74 336.61 L585.04 336.4 L584.33 336.21 L583.62 336.02 L582.9 335.84 L582.17 335.67 L581.44 335.51 L580.7 335.35 L579.96 335.2 L579.22 335.06 L578.47 334.92 L577.72 334.8 L576.96 334.67 L576.2 334.56 L575.44 334.45 L574.68 334.34 L573.91 334.25 L573.14 334.15 L572.37 334.06 L571.59 333.98 L570.82 333.9 L570.04 333.83 L569.26 333.76 L568.48 333.69 L567.71 333.63 L566.92 333.57 L566.14 333.52 L565.36 333.47 L564.58 333.42 L563.8 333.38 L563.02 333.34 L562.24 333.3 L561.46 333.27 L560.68 333.24 L559.9 333.21 L559.12 333.18 L558.34 333.15 L557.57 333.13 L556.79 333.11 L556.02 333.09 L555.24 333.08 L554.47 333.06 L553.7 333.05 L552.93 333.04 L552.16 333.03 L551.39 333.02 L550.63 333.01 L549.86 333.01 L549.1 333 L548.34 333 L547.58 333 L546.83 333 L546.07 333 L545.32 333 L544.56 333 L543.81 333.01 L543.07 333.01 L542.32 333.01 L541.58 333.02 L540.83 333.03 L540.09 333.03 L539.35 333.04 L538.62 333.05 L537.88 333.06 L537.15 333.07 L536.42 333.08 L535.69 333.09 L534.96 333.1 L534.24 333.11 L533.52 333.12 L532.8 333.13 L532.08 333.15 L531.36 333.16 L530.65 333.17 L529.93 333.19 L529.22 333.2 L528.51 333.21 L527.81 333.23 L527.1 333.24 L526.4 333.26 L525.7 333.27 L525 333.29 L524.3 333.3 L523.61 333.32 L522.91 333.33 L522.22 333.35 L521.53 333.37 L520.84 333.38 L520.16 333.4 L519.47 333.41 L518.79 333.43 L518.11 333.45 L517.43 333.47 L516.75 333.48 L516.08 333.5 L515.41 333.52 L514.73 333.53 L514.06 333.55 L513.4 333.57 L512.73 333.59 L512.06 333.61 L511.4 333.62 L510.74 333.64 L510.08 333.66 L509.42 333.68 L508.77 333.7 L508.11 333.71 L507.46 333.73 L506.81 333.75 L506.16 333.77 L505.51 333.79 L504.86 333.81 L504.21 333.83 L503.57 333.85 L502.93 333.87 L502.29 333.89 L501.65 333.91 L501.01 333.93 L500.37 333.95 L499.74 333.97 L499.1 333.99 L498.47 334.01 L497.84 334.03 L497.21 334.05 L496.58 334.07 L495.96 334.09 L495.33 334.11 L494.71 334.13 L494.08 334.15 L493.46 334.18 L492.84 334.2 L492.22 334.22 L491.6 334.24 L490.99 334.27 L490.37 334.29 L489.76 334.31 L489.15 334.34 L488.53 334.36 L487.92 334.38 L487.31 334.41 L486.71 334.43 L486.1 334.46 L485.49 334.48 L484.89 334.51 L484.28 334.53 L483.68 334.56 L483.08 334.59 L482.48 334.61 L481.88 334.64 L481.28 334.67 L480.68 334.7 L480.09 334.73 L479.49 334.75 L478.9 334.78 L478.3 334.81 L477.71 334.84 L477.12 334.87 L476.53 334.91 L475.94 334.94 L475.35 334.97 L474.76 335 L474.18 335.04 L473.59 335.07 L473.01 335.1 L472.42 335.14 L471.84 335.17 L471.26 335.21 L470.67 335.25 L470.09 335.29 L469.51 335.32 L468.94 335.36 L468.36 335.4 L467.78 335.44 L467.2 335.48 L466.63 335.53 L466.05 335.57 L465.48 335.61 L464.9 335.66 L464.33 335.7 L463.76 335.75 L463.19 335.79 L462.62 335.84 L462.05 335.89 L461.48 335.94 L460.91 335.99 L460.34 336.04 L459.78 336.09 L459.21 336.15 L458.65 336.2 L458.08 336.26 L457.52 336.31 L456.95 336.37 L456.39 336.43 L455.83 336.49 L455.27 336.55 L454.71 336.61 L454.15 336.67 L453.59 336.74 L453.03 336.8 L452.47 336.87 L451.91 336.94 L451.36 337.01 L450.8 337.08 L450.25 337.15 L449.69 337.23 L449.14 337.3 L448.59 337.38 L448.03 337.46 L447.48 337.54 L446.93 337.62 L446.38 337.7 L445.83 337.78 L445.28 337.87 L444.73 337.95 L444.18 338.04 L443.64 338.13 L443.09 338.22 L442.55 338.32 L442 338.41 L441.46 338.51 L440.91 338.61 L440.37 338.71 L439.83 338.81 L439.29 338.91 L438.75 339.02 L438.21 339.13 L437.67 339.23 L437.13 339.35 L436.59 339.46 L436.05 339.57 L435.52 339.69 L434.98 339.81 L434.45 339.93 L433.91 340.05 L433.38 340.17 L432.85 340.3 L432.32 340.42 L431.79 340.55 L431.26 340.69 L430.73 340.82 L430.2 340.95 L429.67 341.09 L429.15 341.23 L428.62 341.37 L428.09 341.52 L427.57 341.66 L427.05 341.81 L426.53 341.96 L426.01 342.11 L425.49 342.26 L424.97 342.42 L424.45 342.58 L423.93 342.74 L423.42 342.9 L422.9 343.06 L422.39 343.23 L421.87 343.39 L421.36 343.56 L420.85 343.73 L420.34 343.91 L419.83 344.08 L419.32 344.26 L418.82 344.44 L418.31 344.62 L417.81 344.8 L417.3 344.99 L416.8 345.18 L416.3 345.37 L415.8 345.56" stroke="#00B050" stroke-width="2.3" stroke-dasharray="7.41 2.47" stroke-dashoffset="3.15"/>
<path d="M606.55 510.5 L606.72 510.07 L606.89 509.63 L607.06 509.2 L607.22 508.77 L607.38 508.33 L607.54 507.9 L607.69 507.46 L607.84 507.02 L607.99 506.58 L608.13 506.15 L608.27 505.71 L608.4 505.27 L608.53 504.83 L608.66 504.38 L608.78 503.94 L608.91 503.5 L609.02 503.06 L609.14 502.62 L609.25 502.17 L609.36 501.73 L609.46 501.28 L609.56 500.84 L609.66 500.39 L609.76 499.95 L609.85 499.5 L609.94 499.06 L610.03 498.61 L610.11 498.16 L610.19 497.71 L610.27 497.27 L610.35 496.82 L610.42 496.37 L610.49 495.92 L610.56 495.47 L610.63 495.02 L610.69 494.57 L610.75 494.12 L610.81 493.67 L610.87 493.22 L610.92 492.77 L610.98 492.31 L611.03 491.86 L611.08 491.41 L611.12 490.96 L611.17 490.5 L611.21 490.05 L611.25 489.6 L611.29 489.14 L611.33 488.69 L611.37 488.24 L611.4 487.78 L611.44 487.33 L611.47 486.87 L611.5 486.42 L611.53 485.96 L611.56 485.5 L611.58 485.05 L611.61 484.59 L611.63 484.13 L611.66 483.68 L611.68 483.22 L611.7 482.76 L611.72 482.3 L611.74 481.84 L611.75 481.38 L611.77 480.93 L611.78 480.47 L611.8 480.01 L611.81 479.55 L611.82 479.08 L611.84 478.62 L611.85 478.16 L611.86 477.7 L611.87 477.24 L611.88 476.77 L611.88 476.31 L611.89 475.85 L611.9 475.38 L611.9 474.92 L611.91 474.46 L611.92 473.99 L611.92 473.52 L611.92 473.06 L611.93 472.59 L611.93 472.12 L611.93 471.66 L611.93 471.19 L611.94 470.72 L611.94 470.25 L611.94 469.78 L611.94 469.31 L611.94 468.84 L611.94 468.37 L611.94 467.9 L611.94 467.43 L611.93 466.95 L611.93 466.48 L611.93 466.01 L611.93 465.53 L611.93 465.06 L611.92 464.58 L611.92 464.11 L611.92 463.63 L611.91 463.15 L611.91 462.67 L611.91 462.2 L611.9 461.72 L611.9 461.24 L611.89 460.76 L611.89 460.27 L611.88 459.79 L611.88 459.31 L611.87 458.83 L611.87 458.34 L611.86 457.86 L611.86 457.37 L611.85 456.89 L611.84 456.4 L611.84 455.91 L611.83 455.42 L611.83 454.93 L611.82 454.44 L611.81 453.95 L611.81 453.46 L611.8 452.97 L611.79 452.48 L611.79 451.98 L611.78 451.49 L611.77 450.99 L611.77 450.49 L611.76 450 L611.75 449.5 L611.74 449 L611.74 448.5 L611.73 448 L611.72 447.5 L611.71 446.99 L611.71 446.49 L611.7 445.98 L611.69 445.48 L611.68 444.97 L611.67 444.46 L611.67 443.96 L611.66 443.45 L611.65 442.93 L611.64 442.42 L611.63 441.91 L611.63 441.4 L611.62 440.88 L611.61 440.37 L611.6 439.85 L611.59 439.33 L611.58 438.81 L611.58 438.29 L611.57 437.77 L611.56 437.25 L611.55 436.72 L611.54 436.2 L611.53 435.67 L611.53 435.15 L611.52 434.62 L611.51 434.09 L611.5 433.56 L611.49 433.03 L611.48 432.49 L611.47 431.96 L611.46 431.42 L611.46 430.89 L611.45 430.35 L611.44 429.81 L611.43 429.27 L611.42 428.73 L611.41 428.18 L611.4 427.64 L611.39 427.09 L611.38 426.55 L611.38 426 L611.37 425.45 L611.36 424.9 L611.35 424.34 L611.34 423.79 L611.33 423.23 L611.32 422.68 L611.31 422.12 L611.3 421.56 L611.29 421 L611.28 420.43 L611.27 419.87 L611.26 419.3 L611.25 418.73 L611.24 418.17 L611.24 417.59 L611.23 417.02 L611.22 416.45 L611.21 415.87 L611.2 415.3 L611.19 414.72 L611.18 414.14 L611.17 413.55 L611.16 412.97 L611.15 412.38 L611.14 411.8 L611.13 411.21 L611.12 410.62 L611.11 410.03 L611.1 409.43 L611.09 408.84 L611.07 408.24 L611.06 407.64 L611.05 407.04 L611.04 406.43 L611.03 405.83 L611.02 405.22 L611.01 404.61 L611 404 L610.99 403.39 L610.98 402.77 L610.96 402.16 L610.95 401.54 L610.94 400.92 L610.93 400.3 L610.92 399.67 L610.9 399.05 L610.89 398.42 L610.88 397.79 L610.87 397.16 L610.85 396.52 L610.84 395.88 L610.82 395.25 L610.81 394.61 L610.8 393.96 L610.78 393.32 L610.77 392.67 L610.75 392.02 L610.73 391.37 L610.72 390.72 L610.7 390.07 L610.68 389.41 L610.67 388.75 L610.65 388.09 L610.63 387.43 L610.61 386.76 L610.59 386.09 L610.57 385.42 L610.54 384.75 L610.52 384.08 L610.5 383.4 L610.47 382.73 L610.45 382.05 L610.42 381.37 L610.39 380.69 L610.36 380 L610.33 379.32 L610.3 378.63 L610.26 377.94 L610.23 377.25 L610.19 376.56 L610.15 375.86 L610.11 375.17 L610.06 374.47 L610.01 373.78 L609.96 373.08 L609.91 372.38 L609.86 371.68 L609.8 370.98 L609.74 370.28 L609.67 369.58 L609.6 368.88 L609.53 368.18 L609.45 367.48 L609.37 366.78 L609.28 366.08 L609.19 365.39 L609.09 364.69 L608.99 364 L608.88 363.31 L608.76 362.62 L608.64 361.93 L608.51 361.25 L608.37 360.57 L608.23 359.89 L608.07 359.22 L607.91 358.55 L607.73 357.89 L607.55 357.23 L607.36 356.58 L607.15 355.93 L606.94 355.29 L606.71 354.66 L606.47 354.04 L606.22 353.43 L605.95 352.82 L605.67 352.23 L605.38 351.64 L605.07 351.06 L604.75 350.5 L604.41 349.95 L604.06 349.41 L603.69 348.88 L603.31 348.36 L602.91 347.86 L602.49 347.37 L602.06 346.89 L601.61 346.43 L601.15 345.98 L600.67 345.54 L600.17 345.12 L599.65 344.72 L599.13 344.33 L598.58 343.95 L598.02 343.59 L597.44 343.24 L596.85 342.91 L596.25 342.59 L595.63 342.28 L594.99 341.99 L594.35 341.71 L593.69 341.45 L593.02 341.2 L592.34 340.96 L591.65 340.73 L590.94 340.52 L590.23 340.32 L589.51 340.12 L588.78 339.94 L588.04 339.77 L587.29 339.61 L586.54 339.46 L585.78 339.32 L585.01 339.18 L584.24 339.06 L583.46 338.94 L582.68 338.83 L581.9 338.72 L581.11 338.63 L580.32 338.54 L579.52 338.45 L578.73 338.37 L577.93 338.3 L577.13 338.23 L576.32 338.17 L575.52 338.11 L574.72 338.05 L573.91 338 L573.11 337.95 L572.3 337.91 L571.5 337.87 L570.69 337.83 L569.89 337.8 L569.08 337.76 L568.28 337.73 L567.48 337.71 L566.68 337.68 L565.88 337.66 L565.08 337.64 L564.28 337.62 L563.49 337.6 L562.69 337.58 L561.9 337.57 L561.11 337.55 L560.32 337.54 L559.54 337.53 L558.75 337.52 L557.97 337.51 L557.19 337.5 L556.41 337.5 L555.64 337.49 L554.86 337.49 L554.09 337.48 L553.32 337.48 L552.55 337.47 L551.79 337.47 L551.03 337.47 L550.27 337.47 L549.51 337.46 L548.75 337.46 L548 337.46 L547.25 337.46 L546.5 337.46 L545.75 337.46 L545.01 337.46 L544.27 337.46 L543.53 337.46 L542.79 337.47 L542.06 337.47 L541.33 337.47 L540.6 337.47 L539.87 337.47 L539.14 337.47 L538.42 337.48 L537.7 337.48 L536.98 337.48 L536.26 337.48 L535.55 337.49 L534.83 337.49 L534.12 337.49 L533.42 337.5 L532.71 337.5 L532.01 337.5 L531.31 337.5 L530.61 337.51 L529.91 337.51 L529.21 337.51 L528.52 337.52 L527.83 337.52 L527.14 337.52 L526.45 337.53 L525.77 337.53 L525.08 337.54 L524.4 337.54 L523.72 337.54 L523.05 337.55 L522.37 337.55 L521.7 337.55 L521.03 337.56 L520.36 337.56 L519.69 337.56 L519.02 337.57 L518.36 337.57 L517.7 337.57 L517.03 337.58 L516.38 337.58 L515.72 337.59 L515.06 337.59 L514.41 337.59 L513.76 337.6 L513.11 337.6 L512.46 337.6 L511.81 337.61 L511.17 337.61 L510.52 337.62 L509.88 337.62 L509.24 337.62 L508.6 337.63 L507.96 337.63 L507.33 337.63 L506.69 337.64 L506.06 337.64 L505.43 337.65 L504.8 337.65 L504.17 337.65 L503.54 337.66 L502.92 337.66 L502.29 337.66 L501.67 337.67 L501.05 337.67 L500.43 337.68 L499.81 337.68 L499.2 337.68 L498.58 337.69 L497.97 337.69 L497.35 337.7 L496.74 337.7 L496.13 337.7 L495.52 337.71 L494.92 337.71 L494.31 337.72 L493.7 337.72 L493.1 337.72 L492.5 337.73 L491.9 337.73 L491.3 337.74 L490.7 337.74 L490.1 337.75 L489.5 337.75 L488.91 337.76 L488.31 337.76 L487.72 337.76 L487.13 337.77 L486.54 337.77 L485.95 337.78 L485.36 337.78 L484.77 337.79 L484.18 337.79 L483.6 337.8 L483.01 337.81 L482.43 337.81 L481.85 337.82 L481.26 337.82 L480.68 337.83 L480.1 337.83 L479.52 337.84 L478.95 337.85 L478.37 337.85 L477.79 337.86 L477.22 337.87 L476.64 337.87 L476.07 337.88 L475.5 337.89 L474.93 337.9 L474.36 337.9 L473.79 337.91 L473.22 337.92 L472.65 337.93 L472.08 337.94 L471.52 337.95 L470.95 337.95 L470.39 337.96 L469.82 337.97 L469.26 337.98 L468.7 338 L468.13 338.01 L467.57 338.02 L467.01 338.03 L466.45 338.04 L465.89 338.05 L465.33 338.07 L464.78 338.08 L464.22 338.09 L463.66 338.11 L463.11 338.12 L462.55 338.14 L462 338.15 L461.44 338.17 L460.89 338.19 L460.34 338.21 L459.79 338.22 L459.23 338.24 L458.68 338.26 L458.13 338.28 L457.58 338.3 L457.03 338.33 L456.49 338.35 L455.94 338.37 L455.39 338.4 L454.84 338.42 L454.3 338.45 L453.75 338.47 L453.2 338.5 L452.66 338.53 L452.11 338.56 L451.57 338.59 L451.03 338.63 L450.48 338.66 L449.94 338.69 L449.4 338.73 L448.86 338.77 L448.32 338.81 L447.77 338.85 L447.23 338.89 L446.69 338.93 L446.15 338.97 L445.61 339.02 L445.08 339.07 L444.54 339.12 L444 339.17 L443.46 339.22 L442.93 339.27 L442.39 339.33 L441.85 339.39 L441.32 339.44 L440.78 339.51 L440.25 339.57 L439.71 339.64 L439.18 339.7 L438.64 339.77 L438.11 339.84 L437.58 339.92 L437.05 339.99 L436.52 340.07 L435.98 340.15 L435.45 340.24 L434.92 340.32 L434.39 340.41 L433.86 340.5 L433.34 340.6 L432.81 340.69 L432.28 340.79 L431.75 340.89 L431.23 341 L430.7 341.1 L430.18 341.21 L429.65 341.33 L429.13 341.44 L428.61 341.56 L428.08 341.68 L427.56 341.81 L427.04 341.94 L426.52 342.07 L426 342.2 L425.48 342.34 L424.96 342.48 L424.45 342.62 L423.93 342.77 L423.41 342.92 L422.9 343.07 L422.39 343.23 L421.87 343.39 L421.36 343.55 L420.85 343.72 L420.34 343.89 L419.83 344.06 L419.32 344.24 L418.82 344.42 L418.31 344.6 L417.81 344.78 L417.3 344.97 L416.8 345.16 L416.3 345.36 L415.8 345.56" stroke="#FFC000" stroke-width="2.3" stroke-dasharray="19.76 7.41 2.47 7.41 2.47 7.41" stroke-dashoffset="24.28"/>
<path d="M606.55 510.5 L606.73 510.07 L606.91 509.63 L607.08 509.2 L607.25 508.77 L607.41 508.33 L607.56 507.9 L607.72 507.46 L607.86 507.02 L608 506.58 L608.14 506.14 L608.27 505.71 L608.4 505.27 L608.52 504.83 L608.64 504.39 L608.76 503.94 L608.87 503.5 L608.97 503.06 L609.07 502.62 L609.17 502.18 L609.27 501.73 L609.36 501.29 L609.44 500.85 L609.52 500.4 L609.6 499.96 L609.68 499.51 L609.75 499.07 L609.82 498.62 L609.88 498.18 L609.95 497.73 L610 497.28 L610.06 496.84 L610.11 496.39 L610.17 495.94 L610.21 495.5 L610.26 495.05 L610.3 494.6 L610.34 494.15 L610.38 493.71 L610.42 493.26 L610.45 492.81 L610.48 492.36 L610.51 491.91 L610.54 491.46 L610.57 491.01 L610.59 490.56 L610.62 490.11 L610.64 489.66 L610.66 489.21 L610.68 488.76 L610.69 488.31 L610.71 487.86 L610.72 487.41 L610.74 486.96 L610.75 486.51 L610.76 486.06 L610.77 485.6 L610.78 485.15 L610.79 484.7 L610.79 484.25 L610.8 483.79 L610.8 483.34 L610.81 482.89 L610.81 482.43 L610.81 481.98 L610.82 481.52 L610.82 481.07 L610.82 480.61 L610.82 480.16 L610.82 479.7 L610.82 479.25 L610.82 478.79 L610.81 478.33 L610.81 477.87 L610.81 477.42 L610.8 476.96 L610.8 476.5 L610.8 476.04 L610.79 475.58 L610.79 475.12 L610.78 474.66 L610.77 474.2 L610.77 473.74 L610.76 473.28 L610.76 472.82 L610.75 472.36 L610.74 471.89 L610.73 471.43 L610.73 470.97 L610.72 470.5 L610.71 470.04 L610.7 469.57 L610.7 469.11 L610.69 468.64 L610.68 468.17 L610.67 467.71 L610.66 467.24 L610.65 466.77 L610.64 466.3 L610.63 465.83 L610.62 465.36 L610.61 464.89 L610.6 464.42 L610.59 463.95 L610.58 463.47 L610.57 463 L610.56 462.53 L610.55 462.05 L610.54 461.58 L610.53 461.1 L610.52 460.62 L610.51 460.15 L610.5 459.67 L610.49 459.19 L610.48 458.71 L610.47 458.23 L610.46 457.75 L610.45 457.27 L610.44 456.79 L610.43 456.3 L610.42 455.82 L610.4 455.34 L610.39 454.85 L610.38 454.37 L610.37 453.88 L610.36 453.39 L610.35 452.9 L610.34 452.41 L610.33 451.92 L610.31 451.43 L610.3 450.94 L610.29 450.45 L610.28 449.96 L610.27 449.46 L610.26 448.97 L610.25 448.47 L610.23 447.97 L610.22 447.48 L610.21 446.98 L610.2 446.48 L610.19 445.98 L610.18 445.48 L610.16 444.97 L610.15 444.47 L610.14 443.97 L610.13 443.46 L610.12 442.95 L610.11 442.45 L610.09 441.94 L610.08 441.43 L610.07 440.92 L610.06 440.41 L610.05 439.89 L610.03 439.38 L610.02 438.87 L610.01 438.35 L610 437.83 L609.98 437.31 L609.97 436.8 L609.96 436.28 L609.95 435.75 L609.94 435.23 L609.92 434.71 L609.91 434.18 L609.9 433.66 L609.89 433.13 L609.87 432.6 L609.86 432.07 L609.85 431.54 L609.84 431.01 L609.82 430.48 L609.81 429.94 L609.8 429.41 L609.79 428.87 L609.77 428.33 L609.76 427.79 L609.75 427.25 L609.74 426.71 L609.72 426.16 L609.71 425.62 L609.7 425.07 L609.68 424.52 L609.67 423.97 L609.66 423.42 L609.64 422.87 L609.63 422.32 L609.62 421.76 L609.61 421.21 L609.59 420.65 L609.58 420.09 L609.57 419.53 L609.55 418.96 L609.54 418.4 L609.53 417.84 L609.51 417.27 L609.5 416.7 L609.49 416.13 L609.47 415.56 L609.46 414.98 L609.45 414.41 L609.43 413.83 L609.42 413.25 L609.4 412.67 L609.39 412.09 L609.38 411.51 L609.36 410.92 L609.35 410.34 L609.34 409.75 L609.32 409.16 L609.31 408.56 L609.29 407.97 L609.28 407.37 L609.26 406.78 L609.25 406.18 L609.24 405.57 L609.22 404.97 L609.21 404.37 L609.19 403.76 L609.18 403.15 L609.16 402.54 L609.15 401.93 L609.13 401.31 L609.12 400.69 L609.1 400.07 L609.09 399.45 L609.07 398.83 L609.06 398.2 L609.04 397.58 L609.03 396.95 L609.01 396.32 L609 395.68 L608.98 395.05 L608.97 394.41 L608.95 393.77 L608.93 393.13 L608.92 392.48 L608.9 391.84 L608.88 391.19 L608.87 390.54 L608.85 389.88 L608.83 389.23 L608.82 388.57 L608.8 387.91 L608.78 387.25 L608.76 386.58 L608.74 385.91 L608.72 385.25 L608.7 384.57 L608.69 383.9 L608.66 383.22 L608.64 382.55 L608.62 381.86 L608.6 381.18 L608.58 380.5 L608.56 379.81 L608.53 379.12 L608.51 378.43 L608.48 377.73 L608.45 377.04 L608.43 376.34 L608.4 375.64 L608.37 374.93 L608.34 374.23 L608.3 373.52 L608.27 372.82 L608.23 372.11 L608.2 371.4 L608.16 370.68 L608.11 369.97 L608.07 369.25 L608.02 368.54 L607.97 367.82 L607.92 367.1 L607.86 366.39 L607.8 365.67 L607.73 364.95 L607.66 364.23 L607.59 363.52 L607.51 362.8 L607.43 362.09 L607.33 361.37 L607.24 360.66 L607.13 359.96 L607.02 359.25 L606.9 358.55 L606.77 357.85 L606.63 357.16 L606.48 356.48 L606.32 355.8 L606.15 355.12 L605.96 354.46 L605.77 353.8 L605.55 353.15 L605.33 352.51 L605.09 351.89 L604.83 351.27 L604.55 350.67 L604.26 350.07 L603.95 349.5 L603.62 348.94 L603.28 348.39 L602.91 347.86 L602.52 347.34 L602.11 346.85 L601.68 346.37 L601.23 345.91 L600.76 345.46 L600.26 345.04 L599.75 344.63 L599.21 344.25 L598.66 343.88 L598.08 343.53 L597.49 343.2 L596.87 342.89 L596.24 342.59 L595.59 342.32 L594.92 342.06 L594.24 341.81 L593.55 341.59 L592.84 341.38 L592.11 341.18 L591.37 341 L590.63 340.83 L589.87 340.67 L589.1 340.52 L588.33 340.39 L587.54 340.26 L586.75 340.15 L585.95 340.05 L585.15 339.95 L584.34 339.86 L583.53 339.78 L582.71 339.71 L581.89 339.64 L581.07 339.58 L580.25 339.53 L579.42 339.48 L578.59 339.43 L577.77 339.39 L576.94 339.35 L576.11 339.32 L575.28 339.29 L574.45 339.26 L573.63 339.24 L572.8 339.22 L571.97 339.2 L571.15 339.18 L570.33 339.17 L569.51 339.15 L568.69 339.14 L567.87 339.13 L567.05 339.12 L566.24 339.12 L565.43 339.11 L564.62 339.1 L563.82 339.1 L563.01 339.1 L562.21 339.09 L561.41 339.09 L560.61 339.09 L559.82 339.09 L559.03 339.09 L558.24 339.09 L557.45 339.09 L556.67 339.1 L555.89 339.1 L555.11 339.1 L554.33 339.1 L553.56 339.11 L552.79 339.11 L552.02 339.11 L551.26 339.12 L550.49 339.12 L549.73 339.12 L548.98 339.13 L548.22 339.13 L547.47 339.14 L546.72 339.14 L545.97 339.14 L545.23 339.15 L544.48 339.15 L543.74 339.16 L543.01 339.16 L542.27 339.17 L541.54 339.17 L540.81 339.18 L540.08 339.18 L539.36 339.19 L538.63 339.19 L537.91 339.2 L537.2 339.2 L536.48 339.21 L535.77 339.21 L535.05 339.22 L534.35 339.22 L533.64 339.23 L532.93 339.23 L532.23 339.24 L531.53 339.24 L530.83 339.25 L530.14 339.25 L529.45 339.26 L528.75 339.26 L528.06 339.27 L527.38 339.27 L526.69 339.28 L526.01 339.28 L525.33 339.29 L524.65 339.29 L523.97 339.3 L523.3 339.3 L522.62 339.31 L521.95 339.31 L521.28 339.32 L520.61 339.32 L519.95 339.33 L519.29 339.33 L518.62 339.34 L517.96 339.34 L517.3 339.35 L516.65 339.35 L515.99 339.36 L515.34 339.36 L514.69 339.37 L514.04 339.37 L513.39 339.38 L512.75 339.38 L512.1 339.39 L511.46 339.39 L510.82 339.39 L510.18 339.4 L509.54 339.4 L508.91 339.41 L508.27 339.41 L507.64 339.42 L507.01 339.42 L506.38 339.43 L505.75 339.43 L505.12 339.44 L504.5 339.44 L503.87 339.45 L503.25 339.45 L502.63 339.46 L502.01 339.46 L501.39 339.47 L500.78 339.47 L500.16 339.47 L499.55 339.48 L498.94 339.48 L498.33 339.49 L497.72 339.49 L497.11 339.5 L496.5 339.5 L495.9 339.51 L495.29 339.51 L494.69 339.52 L494.09 339.52 L493.49 339.52 L492.89 339.53 L492.29 339.53 L491.69 339.54 L491.1 339.54 L490.5 339.55 L489.91 339.55 L489.32 339.56 L488.73 339.56 L488.14 339.57 L487.55 339.57 L486.96 339.57 L486.38 339.58 L485.79 339.58 L485.21 339.59 L484.63 339.59 L484.05 339.6 L483.47 339.6 L482.89 339.61 L482.31 339.61 L481.73 339.62 L481.15 339.62 L480.58 339.63 L480.01 339.63 L479.43 339.64 L478.86 339.64 L478.29 339.65 L477.72 339.65 L477.15 339.65 L476.58 339.66 L476.01 339.66 L475.45 339.67 L474.88 339.68 L474.32 339.68 L473.75 339.69 L473.19 339.69 L472.63 339.7 L472.07 339.7 L471.5 339.71 L470.95 339.71 L470.39 339.72 L469.83 339.72 L469.27 339.73 L468.71 339.74 L468.16 339.74 L467.6 339.75 L467.05 339.76 L466.5 339.76 L465.94 339.77 L465.39 339.78 L464.84 339.78 L464.29 339.79 L463.74 339.8 L463.19 339.8 L462.64 339.81 L462.1 339.82 L461.55 339.83 L461 339.84 L460.46 339.85 L459.91 339.86 L459.37 339.86 L458.82 339.87 L458.28 339.88 L457.74 339.89 L457.19 339.91 L456.65 339.92 L456.11 339.93 L455.57 339.94 L455.03 339.95 L454.49 339.96 L453.95 339.98 L453.42 339.99 L452.88 340.01 L452.34 340.02 L451.8 340.04 L451.27 340.05 L450.73 340.07 L450.2 340.09 L449.66 340.11 L449.13 340.12 L448.59 340.14 L448.06 340.17 L447.52 340.19 L446.99 340.21 L446.46 340.23 L445.93 340.26 L445.39 340.28 L444.86 340.31 L444.33 340.34 L443.8 340.37 L443.27 340.4 L442.74 340.43 L442.21 340.46 L441.68 340.5 L441.15 340.53 L440.63 340.57 L440.1 340.61 L439.57 340.65 L439.04 340.69 L438.52 340.73 L437.99 340.78 L437.46 340.83 L436.94 340.88 L436.41 340.93 L435.89 340.98 L435.36 341.04 L434.84 341.1 L434.31 341.16 L433.79 341.22 L433.26 341.29 L432.74 341.36 L432.22 341.43 L431.7 341.5 L431.17 341.58 L430.65 341.66 L430.13 341.74 L429.61 341.83 L429.09 341.92 L428.57 342.01 L428.05 342.11 L427.53 342.21 L427.02 342.31 L426.5 342.41 L425.98 342.52 L425.46 342.64 L424.95 342.76 L424.43 342.88 L423.92 343 L423.4 343.13 L422.89 343.26 L422.38 343.4 L421.87 343.54 L421.36 343.69 L420.85 343.83 L420.34 343.99 L419.83 344.14 L419.32 344.31 L418.82 344.47 L418.31 344.64 L417.81 344.82 L417.3 345 L416.8 345.18 L416.3 345.37 L415.8 345.56" stroke="#7030A0" stroke-width="2.3" stroke-dasharray="7.41 2.47" stroke-dashoffset="1.50"/>
<path d="M606.55 510.5 L606.71 510.07 L606.87 509.63 L607.03 509.2 L607.17 508.77 L607.31 508.33 L607.45 507.9 L607.58 507.46 L607.71 507.02 L607.83 506.59 L607.95 506.15 L608.06 505.71 L608.16 505.27 L608.27 504.83 L608.36 504.39 L608.46 503.95 L608.55 503.51 L608.63 503.07 L608.71 502.63 L608.79 502.19 L608.86 501.75 L608.93 501.31 L609 500.87 L609.06 500.43 L609.12 499.98 L609.18 499.54 L609.24 499.1 L609.29 498.65 L609.34 498.21 L609.38 497.77 L609.42 497.32 L609.47 496.88 L609.5 496.43 L609.54 495.99 L609.57 495.55 L609.61 495.1 L609.64 494.66 L609.66 494.21 L609.69 493.77 L609.72 493.32 L609.74 492.87 L609.76 492.43 L609.78 491.98 L609.8 491.54 L609.81 491.09 L609.83 490.64 L609.84 490.19 L609.86 489.75 L609.87 489.3 L609.88 488.85 L609.89 488.4 L609.9 487.96 L609.91 487.51 L609.91 487.06 L609.92 486.61 L609.93 486.16 L609.93 485.71 L609.93 485.26 L609.94 484.81 L609.94 484.36 L609.94 483.91 L609.94 483.46 L609.94 483.01 L609.94 482.56 L609.94 482.11 L609.94 481.65 L609.94 481.2 L609.94 480.75 L609.94 480.29 L609.94 479.84 L609.93 479.39 L609.93 478.93 L609.93 478.48 L609.92 478.02 L609.92 477.57 L609.91 477.11 L609.91 476.66 L609.9 476.2 L609.9 475.74 L609.89 475.29 L609.89 474.83 L609.88 474.37 L609.87 473.91 L609.87 473.45 L609.86 472.99 L609.85 472.53 L609.85 472.07 L609.84 471.61 L609.83 471.15 L609.82 470.69 L609.82 470.22 L609.81 469.76 L609.8 469.3 L609.79 468.83 L609.79 468.37 L609.78 467.9 L609.77 467.44 L609.76 466.97 L609.75 466.5 L609.74 466.03 L609.73 465.57 L609.73 465.1 L609.72 464.63 L609.71 464.16 L609.7 463.69 L609.69 463.22 L609.68 462.74 L609.67 462.27 L609.66 461.8 L609.65 461.32 L609.65 460.85 L609.64 460.37 L609.63 459.9 L609.62 459.42 L609.61 458.94 L609.6 458.47 L609.59 457.99 L609.58 457.51 L609.57 457.03 L609.56 456.55 L609.55 456.06 L609.54 455.58 L609.53 455.1 L609.52 454.61 L609.51 454.13 L609.5 453.64 L609.49 453.16 L609.48 452.67 L609.47 452.18 L609.46 451.69 L609.45 451.2 L609.44 450.71 L609.43 450.22 L609.42 449.73 L609.41 449.23 L609.4 448.74 L609.39 448.24 L609.38 447.75 L609.37 447.25 L609.36 446.75 L609.35 446.25 L609.34 445.75 L609.33 445.25 L609.32 444.75 L609.31 444.25 L609.3 443.75 L609.29 443.24 L609.28 442.73 L609.27 442.23 L609.26 441.72 L609.25 441.21 L609.24 440.7 L609.23 440.19 L609.22 439.68 L609.21 439.17 L609.2 438.65 L609.19 438.14 L609.18 437.62 L609.17 437.1 L609.16 436.58 L609.15 436.06 L609.13 435.54 L609.12 435.02 L609.11 434.5 L609.1 433.97 L609.09 433.45 L609.08 432.92 L609.07 432.39 L609.06 431.86 L609.05 431.33 L609.04 430.8 L609.03 430.27 L609.02 429.73 L609 429.2 L608.99 428.66 L608.98 428.12 L608.97 427.58 L608.96 427.04 L608.95 426.5 L608.94 425.95 L608.93 425.41 L608.92 424.86 L608.9 424.32 L608.89 423.77 L608.88 423.22 L608.87 422.66 L608.86 422.11 L608.85 421.55 L608.84 421 L608.83 420.44 L608.81 419.88 L608.8 419.32 L608.79 418.76 L608.78 418.19 L608.77 417.63 L608.76 417.06 L608.74 416.49 L608.73 415.92 L608.72 415.35 L608.71 414.77 L608.7 414.2 L608.69 413.62 L608.67 413.04 L608.66 412.46 L608.65 411.88 L608.64 411.29 L608.63 410.71 L608.61 410.12 L608.6 409.53 L608.59 408.94 L608.58 408.35 L608.57 407.75 L608.55 407.16 L608.54 406.56 L608.53 405.96 L608.52 405.36 L608.5 404.75 L608.49 404.15 L608.48 403.54 L608.47 402.93 L608.45 402.32 L608.44 401.7 L608.43 401.09 L608.42 400.47 L608.4 399.85 L608.39 399.23 L608.38 398.6 L608.36 397.97 L608.35 397.35 L608.34 396.72 L608.33 396.08 L608.31 395.45 L608.3 394.81 L608.29 394.17 L608.27 393.53 L608.26 392.88 L608.25 392.24 L608.23 391.59 L608.22 390.94 L608.21 390.29 L608.19 389.63 L608.18 388.97 L608.16 388.31 L608.15 387.65 L608.13 386.99 L608.12 386.32 L608.1 385.65 L608.09 384.98 L608.07 384.3 L608.06 383.63 L608.04 382.95 L608.02 382.26 L608.01 381.58 L607.99 380.89 L607.97 380.21 L607.95 379.51 L607.93 378.82 L607.91 378.13 L607.89 377.43 L607.87 376.73 L607.85 376.02 L607.82 375.32 L607.8 374.61 L607.77 373.9 L607.75 373.19 L607.72 372.48 L607.69 371.76 L607.66 371.04 L607.63 370.33 L607.59 369.61 L607.55 368.88 L607.52 368.16 L607.47 367.44 L607.43 366.71 L607.38 365.98 L607.33 365.26 L607.28 364.53 L607.22 363.8 L607.15 363.08 L607.09 362.35 L607.01 361.63 L606.93 360.9 L606.85 360.18 L606.75 359.46 L606.65 358.75 L606.54 358.03 L606.42 357.33 L606.3 356.62 L606.16 355.93 L606 355.24 L605.84 354.56 L605.66 353.88 L605.47 353.22 L605.26 352.57 L605.04 351.93 L604.8 351.3 L604.53 350.68 L604.25 350.08 L603.95 349.5 L603.62 348.93 L603.28 348.39 L602.91 347.86 L602.51 347.35 L602.09 346.86 L601.65 346.39 L601.18 345.94 L600.69 345.52 L600.17 345.12 L599.63 344.74 L599.07 344.38 L598.48 344.04 L597.87 343.72 L597.24 343.42 L596.59 343.15 L595.92 342.89 L595.24 342.65 L594.54 342.42 L593.82 342.22 L593.09 342.03 L592.34 341.85 L591.58 341.69 L590.81 341.54 L590.04 341.4 L589.25 341.27 L588.46 341.16 L587.66 341.05 L586.85 340.95 L586.04 340.86 L585.22 340.78 L584.4 340.71 L583.57 340.64 L582.75 340.58 L581.92 340.52 L581.09 340.47 L580.26 340.42 L579.42 340.38 L578.59 340.34 L577.76 340.31 L576.92 340.28 L576.09 340.25 L575.26 340.22 L574.43 340.2 L573.6 340.18 L572.77 340.16 L571.95 340.14 L571.12 340.13 L570.3 340.11 L569.48 340.1 L568.66 340.09 L567.85 340.08 L567.03 340.07 L566.22 340.07 L565.41 340.06 L564.61 340.05 L563.8 340.05 L563 340.04 L562.2 340.04 L561.41 340.04 L560.61 340.03 L559.82 340.03 L559.03 340.03 L558.25 340.03 L557.46 340.03 L556.68 340.03 L555.91 340.03 L555.13 340.03 L554.36 340.02 L553.59 340.03 L552.82 340.03 L552.06 340.03 L551.29 340.03 L550.54 340.03 L549.78 340.03 L549.02 340.03 L548.27 340.03 L547.52 340.03 L546.78 340.03 L546.03 340.04 L545.29 340.04 L544.55 340.04 L543.82 340.04 L543.08 340.05 L542.35 340.05 L541.62 340.05 L540.89 340.05 L540.17 340.06 L539.45 340.06 L538.73 340.06 L538.01 340.06 L537.29 340.07 L536.58 340.07 L535.87 340.07 L535.16 340.07 L534.46 340.08 L533.75 340.08 L533.05 340.08 L532.35 340.09 L531.65 340.09 L530.96 340.09 L530.27 340.09 L529.58 340.1 L528.89 340.1 L528.2 340.1 L527.52 340.1 L526.83 340.11 L526.15 340.11 L525.47 340.11 L524.8 340.12 L524.12 340.12 L523.45 340.12 L522.78 340.12 L522.11 340.13 L521.45 340.13 L520.78 340.13 L520.12 340.13 L519.46 340.14 L518.8 340.14 L518.14 340.14 L517.48 340.14 L516.83 340.15 L516.18 340.15 L515.53 340.15 L514.88 340.16 L514.23 340.16 L513.59 340.16 L512.94 340.16 L512.3 340.17 L511.66 340.17 L511.02 340.17 L510.39 340.17 L509.75 340.18 L509.12 340.18 L508.49 340.18 L507.86 340.18 L507.23 340.19 L506.6 340.19 L505.97 340.19 L505.35 340.19 L504.73 340.2 L504.1 340.2 L503.48 340.2 L502.87 340.2 L502.25 340.21 L501.63 340.21 L501.02 340.21 L500.41 340.21 L499.8 340.22 L499.19 340.22 L498.58 340.22 L497.97 340.22 L497.36 340.23 L496.76 340.23 L496.16 340.23 L495.55 340.23 L494.95 340.24 L494.36 340.24 L493.76 340.24 L493.16 340.24 L492.56 340.25 L491.97 340.25 L491.38 340.25 L490.79 340.25 L490.19 340.26 L489.61 340.26 L489.02 340.26 L488.43 340.26 L487.84 340.27 L487.26 340.27 L486.67 340.27 L486.09 340.27 L485.51 340.28 L484.93 340.28 L484.35 340.28 L483.77 340.28 L483.2 340.29 L482.62 340.29 L482.04 340.29 L481.47 340.29 L480.9 340.3 L480.32 340.3 L479.75 340.3 L479.18 340.31 L478.61 340.31 L478.05 340.31 L477.48 340.31 L476.91 340.32 L476.35 340.32 L475.78 340.32 L475.22 340.32 L474.66 340.33 L474.09 340.33 L473.53 340.33 L472.97 340.34 L472.41 340.34 L471.85 340.34 L471.3 340.35 L470.74 340.35 L470.18 340.35 L469.63 340.36 L469.07 340.36 L468.52 340.36 L467.97 340.37 L467.42 340.37 L466.86 340.37 L466.31 340.38 L465.76 340.38 L465.22 340.39 L464.67 340.39 L464.12 340.39 L463.57 340.4 L463.03 340.4 L462.48 340.41 L461.94 340.41 L461.39 340.42 L460.85 340.42 L460.3 340.43 L459.76 340.44 L459.22 340.44 L458.68 340.45 L458.14 340.45 L457.6 340.46 L457.06 340.47 L456.52 340.47 L455.98 340.48 L455.44 340.49 L454.91 340.5 L454.37 340.51 L453.83 340.52 L453.3 340.52 L452.76 340.53 L452.23 340.54 L451.69 340.55 L451.16 340.57 L450.63 340.58 L450.09 340.59 L449.56 340.6 L449.03 340.62 L448.5 340.63 L447.97 340.64 L447.44 340.66 L446.91 340.68 L446.38 340.69 L445.85 340.71 L445.32 340.73 L444.79 340.75 L444.26 340.77 L443.73 340.79 L443.2 340.81 L442.68 340.84 L442.15 340.86 L441.62 340.89 L441.1 340.91 L440.57 340.94 L440.05 340.97 L439.52 341 L439 341.03 L438.47 341.07 L437.95 341.11 L437.42 341.14 L436.9 341.18 L436.38 341.22 L435.85 341.27 L435.33 341.31 L434.81 341.36 L434.28 341.41 L433.76 341.46 L433.24 341.52 L432.72 341.57 L432.2 341.63 L431.68 341.7 L431.16 341.76 L430.64 341.83 L430.12 341.9 L429.6 341.98 L429.08 342.06 L428.56 342.14 L428.04 342.22 L427.53 342.31 L427.01 342.4 L426.49 342.5 L425.98 342.6 L425.46 342.7 L424.95 342.81 L424.43 342.92 L423.92 343.04 L423.4 343.16 L422.89 343.29 L422.38 343.42 L421.87 343.55 L421.36 343.69 L420.85 343.84 L420.34 343.98 L419.83 344.14 L419.32 344.3 L418.82 344.46 L418.31 344.63 L417.81 344.81 L417.3 344.99 L416.8 345.17 L416.3 345.36 L415.8 345.56" stroke="#ED7D31" stroke-width="2.3" stroke-dasharray="19.76 7.41 2.47 7.41"/>
<path d="M606.55 510.5 L606.69 510.07 L606.82 509.64 L606.94 509.2 L607.06 508.77 L607.18 508.33 L607.28 507.9 L607.38 507.46 L607.48 507.03 L607.57 506.59 L607.65 506.16 L607.73 505.72 L607.81 505.28 L607.88 504.85 L607.95 504.41 L608.01 503.97 L608.07 503.53 L608.12 503.09 L608.17 502.66 L608.22 502.22 L608.26 501.78 L608.3 501.34 L608.34 500.9 L608.37 500.46 L608.41 500.02 L608.44 499.58 L608.46 499.14 L608.49 498.7 L608.51 498.26 L608.53 497.82 L608.55 497.38 L608.57 496.94 L608.59 496.5 L608.6 496.06 L608.62 495.62 L608.63 495.18 L608.64 494.74 L608.65 494.3 L608.65 493.85 L608.66 493.41 L608.67 492.97 L608.67 492.53 L608.68 492.09 L608.68 491.64 L608.68 491.2 L608.69 490.76 L608.69 490.32 L608.69 489.87 L608.69 489.43 L608.69 488.99 L608.69 488.54 L608.69 488.1 L608.68 487.65 L608.68 487.21 L608.68 486.76 L608.68 486.32 L608.67 485.87 L608.67 485.43 L608.67 484.98 L608.66 484.53 L608.66 484.09 L608.65 483.64 L608.65 483.19 L608.64 482.74 L608.64 482.3 L608.63 481.85 L608.63 481.4 L608.62 480.95 L608.62 480.5 L608.61 480.05 L608.61 479.6 L608.6 479.15 L608.59 478.7 L608.59 478.25 L608.58 477.79 L608.58 477.34 L608.57 476.89 L608.56 476.44 L608.56 475.98 L608.55 475.53 L608.54 475.07 L608.54 474.62 L608.53 474.16 L608.52 473.71 L608.52 473.25 L608.51 472.79 L608.5 472.34 L608.5 471.88 L608.49 471.42 L608.48 470.96 L608.47 470.5 L608.47 470.04 L608.46 469.58 L608.45 469.12 L608.45 468.66 L608.44 468.19 L608.43 467.73 L608.42 467.27 L608.42 466.8 L608.41 466.34 L608.4 465.87 L608.4 465.41 L608.39 464.94 L608.38 464.47 L608.37 464.01 L608.37 463.54 L608.36 463.07 L608.35 462.6 L608.34 462.13 L608.34 461.66 L608.33 461.19 L608.32 460.71 L608.31 460.24 L608.31 459.77 L608.3 459.29 L608.29 458.82 L608.28 458.34 L608.28 457.86 L608.27 457.39 L608.26 456.91 L608.25 456.43 L608.25 455.95 L608.24 455.47 L608.23 454.99 L608.22 454.5 L608.22 454.02 L608.21 453.54 L608.2 453.05 L608.19 452.57 L608.19 452.08 L608.18 451.59 L608.17 451.1 L608.16 450.61 L608.16 450.12 L608.15 449.63 L608.14 449.14 L608.13 448.65 L608.12 448.16 L608.12 447.66 L608.11 447.17 L608.1 446.67 L608.09 446.17 L608.08 445.67 L608.08 445.17 L608.07 444.67 L608.06 444.17 L608.05 443.67 L608.05 443.17 L608.04 442.66 L608.03 442.16 L608.02 441.65 L608.01 441.14 L608.01 440.64 L608 440.13 L607.99 439.61 L607.98 439.1 L607.97 438.59 L607.97 438.08 L607.96 437.56 L607.95 437.04 L607.94 436.53 L607.93 436.01 L607.92 435.49 L607.92 434.97 L607.91 434.45 L607.9 433.92 L607.89 433.4 L607.88 432.87 L607.87 432.34 L607.87 431.82 L607.86 431.29 L607.85 430.76 L607.84 430.22 L607.83 429.69 L607.82 429.16 L607.82 428.62 L607.81 428.08 L607.8 427.54 L607.79 427 L607.78 426.46 L607.77 425.92 L607.76 425.37 L607.76 424.83 L607.75 424.28 L607.74 423.73 L607.73 423.18 L607.72 422.63 L607.71 422.08 L607.7 421.52 L607.7 420.97 L607.69 420.41 L607.68 419.85 L607.67 419.29 L607.66 418.73 L607.65 418.16 L607.64 417.6 L607.63 417.03 L607.62 416.46 L607.62 415.89 L607.61 415.32 L607.6 414.75 L607.59 414.17 L607.58 413.6 L607.57 413.02 L607.56 412.44 L607.55 411.85 L607.54 411.27 L607.53 410.68 L607.52 410.1 L607.51 409.51 L607.51 408.92 L607.5 408.32 L607.49 407.73 L607.48 407.13 L607.47 406.53 L607.46 405.93 L607.45 405.33 L607.44 404.73 L607.43 404.12 L607.42 403.51 L607.41 402.9 L607.4 402.29 L607.39 401.68 L607.38 401.06 L607.37 400.44 L607.36 399.82 L607.35 399.2 L607.34 398.57 L607.33 397.95 L607.32 397.32 L607.31 396.68 L607.3 396.05 L607.29 395.42 L607.28 394.78 L607.27 394.14 L607.26 393.5 L607.25 392.85 L607.24 392.2 L607.23 391.55 L607.22 390.9 L607.21 390.25 L607.2 389.59 L607.19 388.93 L607.18 388.27 L607.17 387.61 L607.16 386.94 L607.15 386.27 L607.13 385.6 L607.12 384.93 L607.11 384.25 L607.1 383.57 L607.09 382.89 L607.08 382.2 L607.07 381.52 L607.05 380.83 L607.04 380.13 L607.03 379.44 L607.02 378.74 L607 378.04 L606.99 377.34 L606.98 376.63 L606.96 375.92 L606.95 375.21 L606.93 374.5 L606.92 373.78 L606.9 373.06 L606.89 372.34 L606.87 371.62 L606.85 370.89 L606.83 370.16 L606.81 369.43 L606.79 368.7 L606.76 367.97 L606.74 367.23 L606.71 366.49 L606.68 365.75 L606.65 365.01 L606.61 364.26 L606.58 363.52 L606.53 362.78 L606.49 362.03 L606.44 361.29 L606.38 360.55 L606.32 359.8 L606.25 359.07 L606.17 358.33 L606.09 357.6 L605.99 356.87 L605.89 356.15 L605.77 355.43 L605.64 354.72 L605.49 354.02 L605.33 353.33 L605.15 352.66 L604.96 351.99 L604.74 351.35 L604.5 350.71 L604.23 350.1 L603.94 349.51 L603.63 348.93 L603.28 348.38 L602.91 347.86 L602.5 347.36 L602.07 346.88 L601.6 346.43 L601.11 346.01 L600.58 345.62 L600.03 345.25 L599.44 344.91 L598.83 344.6 L598.19 344.31 L597.52 344.04 L596.83 343.8 L596.12 343.58 L595.39 343.39 L594.64 343.21 L593.87 343.05 L593.09 342.9 L592.3 342.77 L591.49 342.66 L590.68 342.56 L589.85 342.46 L589.02 342.38 L588.19 342.31 L587.34 342.25 L586.5 342.19 L585.65 342.14 L584.8 342.1 L583.95 342.06 L583.09 342.02 L582.24 341.99 L581.39 341.96 L580.53 341.94 L579.68 341.92 L578.83 341.9 L577.98 341.88 L577.13 341.87 L576.29 341.85 L575.45 341.84 L574.6 341.83 L573.77 341.82 L572.93 341.81 L572.1 341.8 L571.27 341.8 L570.44 341.79 L569.61 341.78 L568.79 341.78 L567.97 341.77 L567.16 341.77 L566.35 341.77 L565.54 341.76 L564.73 341.76 L563.92 341.75 L563.12 341.75 L562.33 341.75 L561.53 341.75 L560.74 341.74 L559.95 341.74 L559.16 341.74 L558.38 341.74 L557.6 341.73 L556.82 341.73 L556.05 341.73 L555.28 341.73 L554.51 341.72 L553.74 341.72 L552.98 341.72 L552.22 341.72 L551.46 341.72 L550.71 341.71 L549.95 341.71 L549.2 341.71 L548.46 341.71 L547.71 341.71 L546.97 341.71 L546.23 341.7 L545.5 341.7 L544.76 341.7 L544.03 341.7 L543.3 341.7 L542.57 341.7 L541.85 341.69 L541.13 341.69 L540.41 341.69 L539.69 341.69 L538.98 341.69 L538.27 341.69 L537.56 341.68 L536.85 341.68 L536.14 341.68 L535.44 341.68 L534.74 341.68 L534.04 341.68 L533.34 341.67 L532.65 341.67 L531.96 341.67 L531.27 341.67 L530.58 341.67 L529.89 341.67 L529.21 341.66 L528.53 341.66 L527.85 341.66 L527.17 341.66 L526.5 341.66 L525.82 341.66 L525.15 341.66 L524.48 341.65 L523.81 341.65 L523.15 341.65 L522.49 341.65 L521.82 341.65 L521.16 341.65 L520.51 341.64 L519.85 341.64 L519.19 341.64 L518.54 341.64 L517.89 341.64 L517.24 341.64 L516.59 341.64 L515.95 341.63 L515.3 341.63 L514.66 341.63 L514.02 341.63 L513.38 341.63 L512.75 341.63 L512.11 341.63 L511.48 341.62 L510.84 341.62 L510.21 341.62 L509.58 341.62 L508.96 341.62 L508.33 341.62 L507.71 341.61 L507.08 341.61 L506.46 341.61 L505.84 341.61 L505.22 341.61 L504.61 341.61 L503.99 341.61 L503.38 341.61 L502.76 341.6 L502.15 341.6 L501.54 341.6 L500.93 341.6 L500.33 341.6 L499.72 341.6 L499.12 341.6 L498.51 341.59 L497.91 341.59 L497.31 341.59 L496.71 341.59 L496.11 341.59 L495.52 341.59 L494.92 341.59 L494.33 341.58 L493.74 341.58 L493.14 341.58 L492.55 341.58 L491.96 341.58 L491.38 341.58 L490.79 341.58 L490.2 341.57 L489.62 341.57 L489.04 341.57 L488.45 341.57 L487.87 341.57 L487.29 341.57 L486.71 341.57 L486.14 341.57 L485.56 341.56 L484.98 341.56 L484.41 341.56 L483.84 341.56 L483.26 341.56 L482.69 341.56 L482.12 341.56 L481.55 341.55 L480.98 341.55 L480.42 341.55 L479.85 341.55 L479.28 341.55 L478.72 341.55 L478.16 341.55 L477.59 341.55 L477.03 341.54 L476.47 341.54 L475.91 341.54 L475.35 341.54 L474.79 341.54 L474.24 341.54 L473.68 341.54 L473.12 341.54 L472.57 341.53 L472.02 341.53 L471.46 341.53 L470.91 341.53 L470.36 341.53 L469.81 341.53 L469.26 341.53 L468.71 341.53 L468.16 341.53 L467.61 341.52 L467.07 341.52 L466.52 341.52 L465.97 341.52 L465.43 341.52 L464.89 341.52 L464.34 341.52 L463.8 341.52 L463.26 341.52 L462.72 341.52 L462.18 341.52 L461.64 341.51 L461.1 341.51 L460.56 341.51 L460.02 341.51 L459.48 341.51 L458.95 341.51 L458.41 341.51 L457.87 341.51 L457.34 341.51 L456.81 341.51 L456.27 341.51 L455.74 341.51 L455.21 341.51 L454.67 341.51 L454.14 341.51 L453.61 341.51 L453.08 341.51 L452.55 341.51 L452.02 341.52 L451.49 341.52 L450.96 341.52 L450.43 341.52 L449.91 341.52 L449.38 341.52 L448.85 341.53 L448.32 341.53 L447.8 341.53 L447.27 341.54 L446.75 341.54 L446.22 341.54 L445.7 341.55 L445.17 341.56 L444.65 341.56 L444.13 341.57 L443.6 341.57 L443.08 341.58 L442.56 341.59 L442.04 341.6 L441.51 341.61 L440.99 341.62 L440.47 341.63 L439.95 341.65 L439.43 341.66 L438.91 341.67 L438.39 341.69 L437.87 341.71 L437.35 341.73 L436.83 341.75 L436.31 341.77 L435.79 341.79 L435.27 341.82 L434.75 341.85 L434.23 341.88 L433.72 341.91 L433.2 341.94 L432.68 341.98 L432.16 342.02 L431.64 342.06 L431.13 342.1 L430.61 342.15 L430.09 342.2 L429.58 342.25 L429.06 342.31 L428.54 342.37 L428.03 342.43 L427.51 342.5 L427 342.57 L426.48 342.65 L425.97 342.73 L425.45 342.82 L424.94 342.91 L424.43 343.01 L423.91 343.11 L423.4 343.22 L422.89 343.33 L422.38 343.45 L421.87 343.57 L421.36 343.7 L420.85 343.84 L420.34 343.98 L419.83 344.13 L419.32 344.28 L418.82 344.45 L418.31 344.61 L417.81 344.79 L417.3 344.97 L416.8 345.16 L416.3 345.36 L415.8 345.56" stroke="#000000" stroke-width="2.6"/>
</g>
<rect x="415.8" y="301.5" width="241.7" height="209" fill="none" stroke="#3a3a3a" stroke-width="1"/>
<path d="M415.5 510.5v-5.2M415.8 510.5h5.2M464.5 510.5v-5.2M415.8 468.5h5.2M512.5 510.5v-5.2M415.8 426.5h5.2M560.5 510.5v-5.2M415.8 385.5h5.2M609.5 510.5v-5.2M415.8 343.5h5.2M657.5 510.5v-5.2M415.8 301.5h5.2" stroke="#3a3a3a" stroke-width="1" fill="none"/>
<text transform="translate(400.8 517.3) scale(1 1.05)" font-size="17" text-anchor="end">0</text>
<text transform="translate(415.8 537.7) scale(1 1.05)" font-size="17" text-anchor="middle">0</text>
<text transform="translate(400.8 475.5) scale(1 1.05)" font-size="17" text-anchor="end">50</text>
<text transform="translate(464.14 537.7) scale(1 1.05)" font-size="17" text-anchor="middle">50</text>
<text transform="translate(400.8 433.7) scale(1 1.05)" font-size="17" text-anchor="end">100</text>
<text transform="translate(512.48 537.7) scale(1 1.05)" font-size="17" text-anchor="middle">100</text>
<text transform="translate(400.8 391.9) scale(1 1.05)" font-size="17" text-anchor="end">150</text>
<text transform="translate(560.82 537.7) scale(1 1.05)" font-size="17" text-anchor="middle">150</text>
<text transform="translate(400.8 350.1) scale(1 1.05)" font-size="17" text-anchor="end">200</text>
<text transform="translate(609.16 537.7) scale(1 1.05)" font-size="17" text-anchor="middle">200</text>
<text transform="translate(400.8 308.3) scale(1 1.05)" font-size="17" text-anchor="end">250</text>
<text transform="translate(657.5 537.7) scale(1 1.05)" font-size="17" text-anchor="middle">250</text>
<circle cx="415.8" cy="345.6" r="2.75" fill="none" stroke="#FF0000" stroke-width="2.6"/>
<circle cx="513.5" cy="341.6" r="2.75" fill="none" stroke="#FF0000" stroke-width="2.6"/>
<circle cx="603.1" cy="347.4" r="2.75" fill="none" stroke="#FF0000" stroke-width="2.6"/>
<circle cx="615.3" cy="424.4" r="2.75" fill="none" stroke="#FF0000" stroke-width="2.6"/>
<circle cx="605.9" cy="510.3" r="2.75" fill="none" stroke="#FF0000" stroke-width="2.6"/>
<circle cx="608.9" cy="510.3" r="2.75" fill="none" stroke="#FF0000" stroke-width="2.6"/>
<text x="348.6" y="305" font-size="20" font-weight="bold">d</text>
<text transform="translate(601.2 320.5) scale(1 1.05)" font-size="17">230°C</text>
<g font-size="18"><text x="477.76" y="558.5" font-style="italic" stroke="#000" stroke-width="0.15">σ</text><text x="486.26" y="561.4" font-size="13" letter-spacing="1.8" stroke="#000" stroke-width="0.25">11</text><text x="504.51" y="558.5" font-size="17.6" letter-spacing="0.25">(MPa)</text></g>
<g font-size="18" transform="translate(363.3 461.5) rotate(-90)"><text x="-0.54" y="0" font-style="italic" stroke="#000" stroke-width="0.15">σ</text><text x="8.83" y="2.9" font-size="13" letter-spacing="0.7" stroke="#000" stroke-width="0.25">22</text><text x="28.0" y="0" font-size="17.6" letter-spacing="0.25">(MPa)</text></g>
<g transform="translate(344.4 283)">
<circle cx="108" cy="121.4" r="3.7" fill="none" stroke="#FF0000" stroke-width="2.1"/>
<text transform="translate(128 126.5) scale(1 1.05)" font-size="17">Exp.</text>
<text transform="translate(133 145.8) scale(1 1.05)" font-size="17" font-style="italic">m</text>
<path d="M91.7 160.7H123.2" stroke="#0070C0" stroke-width="2.1" stroke-dasharray="8.40 6.30 2.10 6.30"/>
<text transform="translate(140.3 166.5) scale(1 1.05)" font-size="17" text-anchor="middle">6</text>
<path d="M158.7 160.7H191.5" stroke="#7030A0" stroke-width="2.1" stroke-dasharray="6.30 2.10"/>
<text transform="translate(199 166.5) scale(1 1.05)" font-size="17" text-anchor="start">18</text>
<path d="M91.7 179.1H123.2" stroke="#00B050" stroke-width="2.1" stroke-dasharray="8.40 6.30"/>
<text transform="translate(140.3 184.9) scale(1 1.05)" font-size="17" text-anchor="middle">10</text>
<path d="M158.7 179.1H191.5" stroke="#ED7D31" stroke-width="2.1" stroke-dasharray="16.8 6.3 2.1 30"/>
<text transform="translate(199 184.9) scale(1 1.05)" font-size="17" text-anchor="start">24</text>
<path d="M91.7 197.9H123.2" stroke="#FFC000" stroke-width="2.1" stroke-dasharray="16.80 6.30 2.10 6.30 2.10 6.30"/>
<text transform="translate(140.3 203.7) scale(1 1.05)" font-size="17" text-anchor="middle">14</text>
<path d="M158.7 197.9H191.5" stroke="#000000" stroke-width="2.1"/>
<text transform="translate(199 203.7) scale(1 1.05)" font-size="17" text-anchor="start">26</text>
</g>
</svg></body></html>
